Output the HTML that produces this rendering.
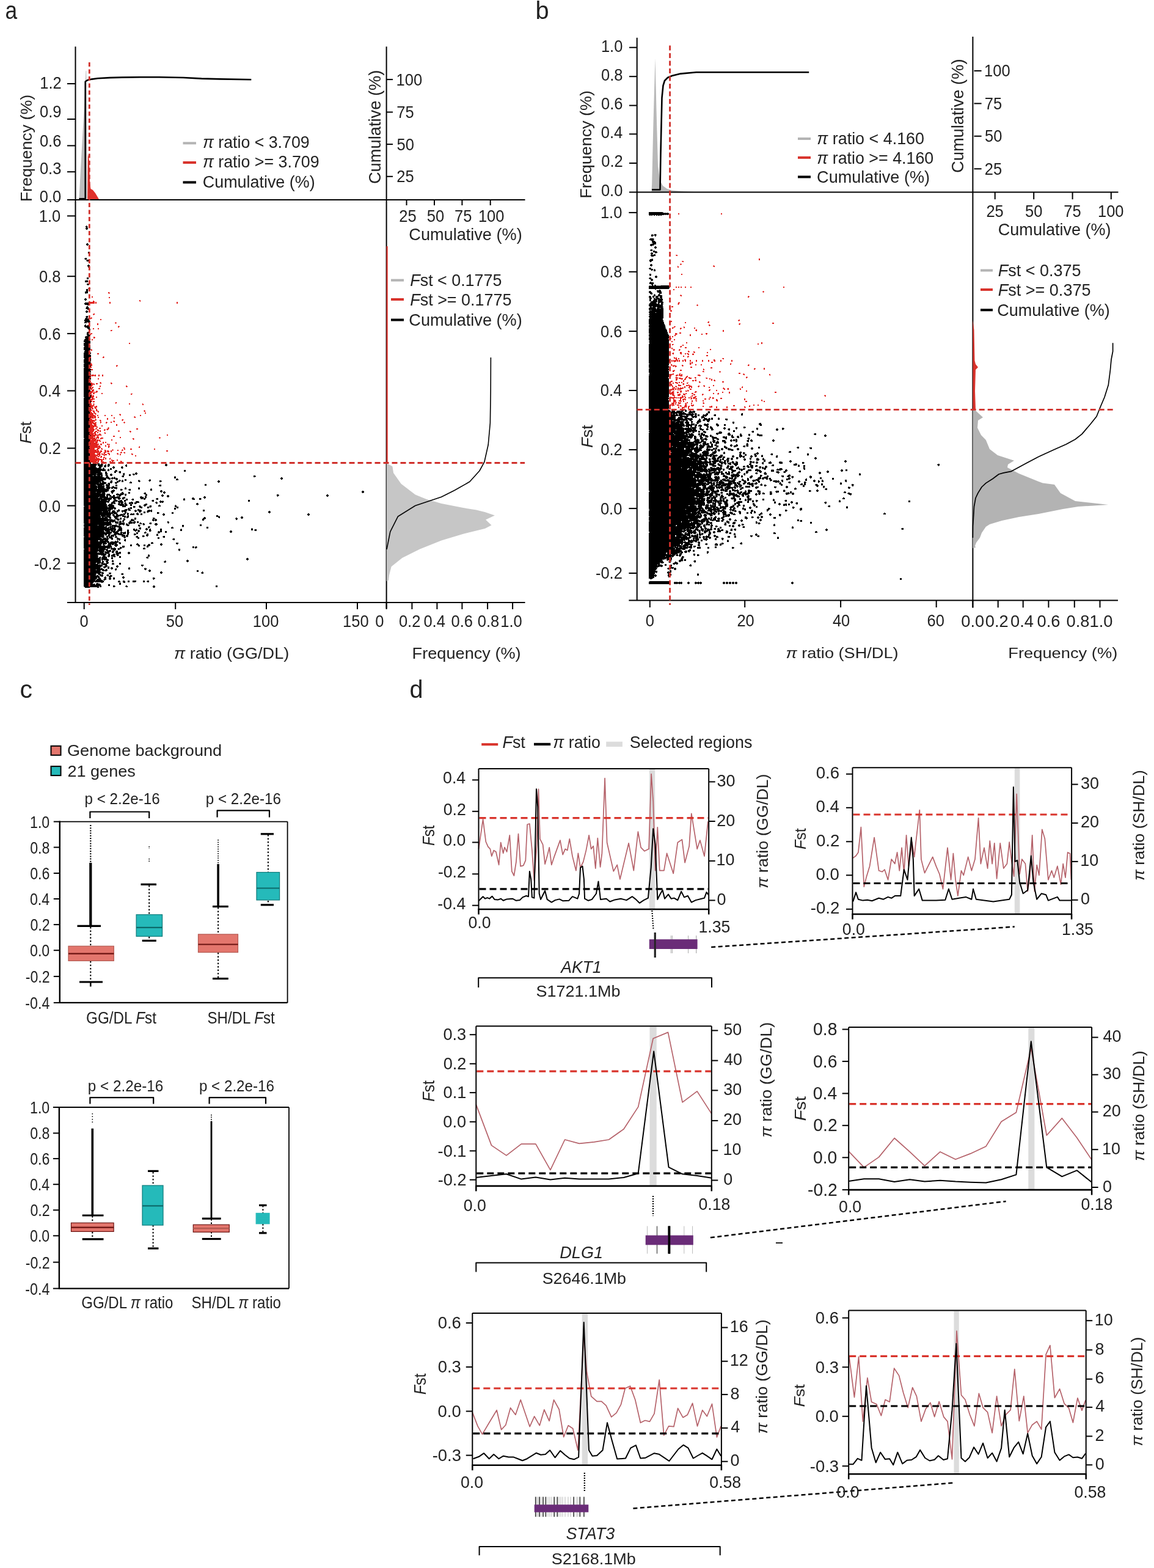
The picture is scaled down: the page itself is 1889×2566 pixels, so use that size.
<!DOCTYPE html>
<html><head><meta charset="utf-8"><title>Figure</title>
<style>html,body{margin:0;padding:0;background:#fff;}svg{display:block;}</style>
</head><body>
<svg width="1889" height="2566" viewBox="0 0 1889 2566" font-family="'Liberation Sans', Arial, Helvetica, sans-serif">
<rect x="0" y="0" width="1889" height="2566" fill="#fff"/>
<path d="M141 369.5h1M140 370.5h3M140 371.5h4M141 372.5h2M140 373.5h4M140 374.5h4M141 375.5h2M142 398.5h2M141 399.5h4M141 400.5h4M142 401.5h2M144 412.5h3M144 413.5h3M144 414.5h3M139 422.5h3M138 423.5h4M139 424.5h3M142 425.5h3M141 426.5h4M142 427.5h3M144 433.5h2M143 434.5h4M143 435.5h4M144 436.5h3M144 437.5h3M142 454.5h3M142 455.5h3M142 456.5h3M142 458.5h1M139 459.5h5M139 460.5h5M139 461.5h5M142 464.5h4M142 465.5h4M143 466.5h2M145 470.5h2M145 471.5h3M144 472.5h4M141 473.5h3M145 473.5h2M141 474.5h3M141 475.5h3M141 476.5h3M139 477.5h5M139 478.5h5M139 479.5h5M140 480.5h1M139 488.5h2M138 489.5h4M138 490.5h4M139 491.5h2M139 495.5h6M138 496.5h8M138 497.5h8M139 498.5h7M143 499.5h2M142 501.5h2M141 502.5h4M141 503.5h4M140 504.5h6M141 505.5h6M143 506.5h3M141 508.5h2M140 509.5h4M140 510.5h4M141 511.5h2M141 517.5h3M140 518.5h4M141 519.5h3M140 520.5h3M139 521.5h8M139 522.5h8M138 523.5h8M138 524.5h9M138 525.5h9M139 526.5h9M138 527.5h4M143 527.5h4M138 528.5h4M145 528.5h1M139 531.5h2M138 532.5h3M143 532.5h3M138 533.5h8M138 534.5h9M139 535.5h8M142 536.5h5M143 537.5h4M144 538.5h4M145 539.5h3M145 540.5h3M146 541.5h1M143 543.5h2M142 544.5h4M142 545.5h4M142 546.5h3M142 547.5h4M142 548.5h5M143 549.5h5M140 550.5h7M139 551.5h8M139 552.5h8M140 553.5h7M139 554.5h9M138 555.5h10M138 556.5h10M137 557.5h10M137 558.5h11M137 559.5h11M139 560.5h9M137 561.5h11M137 562.5h8M146 562.5h1M137 563.5h8M137 564.5h10M137 565.5h11M138 566.5h10M138 567.5h10M137 568.5h11M137 569.5h11M137 570.5h11M137 571.5h11M137 572.5h11M139 573.5h8M138 574.5h9M138 575.5h10M138 576.5h10M137 577.5h12M137 578.5h12M137 579.5h11M137 580.5h11M137 581.5h12M137 582.5h12M137 583.5h12M137 584.5h11M137 585.5h12M138 586.5h11M138 587.5h11M137 588.5h12M137 589.5h12M137 590.5h12M137 591.5h11M137 592.5h12M137 593.5h11M138 594.5h10M137 595.5h12M137 596.5h12M137 597.5h12M137 598.5h12M137 599.5h12M137 600.5h12M138 601.5h10M137 602.5h11M137 603.5h11M137 604.5h12M137 605.5h12M137 606.5h11M137 607.5h12M137 608.5h12M137 609.5h11M137 610.5h12M137 611.5h11M137 612.5h12M137 613.5h12M137 614.5h12M137 615.5h12M137 616.5h12M137 617.5h12M137 618.5h12M137 619.5h12M137 620.5h12M137 621.5h11M137 622.5h11M137 623.5h12M137 624.5h12M137 625.5h11M137 626.5h11M137 627.5h12M137 628.5h12M137 629.5h12M137 630.5h12M137 631.5h11M137 632.5h12M137 633.5h12M137 634.5h12M137 635.5h12M137 636.5h12M137 637.5h11M137 638.5h11M137 639.5h11M137 640.5h11M137 641.5h11M137 642.5h11M137 643.5h11M137 644.5h12M137 645.5h11M137 646.5h12M137 647.5h12M137 648.5h12M137 649.5h12M138 650.5h11M137 651.5h11M137 652.5h12M137 653.5h12M137 654.5h12M137 655.5h11M137 656.5h12M137 657.5h12M137 658.5h12M137 659.5h12M137 660.5h12M137 661.5h12M137 662.5h12M137 663.5h11M137 664.5h12M137 665.5h11M137 666.5h11M137 667.5h12M137 668.5h12M137 669.5h12M137 670.5h12M137 671.5h12M137 672.5h12M137 673.5h12M137 674.5h12M137 675.5h11M137 676.5h11M137 677.5h12M137 678.5h12M137 679.5h12M137 680.5h12M137 681.5h12M137 682.5h12M137 683.5h12M137 684.5h11M137 685.5h11M137 686.5h12M137 687.5h11M137 688.5h11M137 689.5h12M137 690.5h12M137 691.5h12M137 692.5h12M137 693.5h12M137 694.5h12M137 695.5h12M137 696.5h11M137 697.5h12M137 698.5h11M137 699.5h12M137 700.5h12M137 701.5h11M137 702.5h12M137 703.5h11M137 704.5h12M137 705.5h12M137 706.5h12M137 707.5h11M137 708.5h11M137 709.5h12M137 710.5h12M137 711.5h12M137 712.5h12M137 713.5h12M137 714.5h12M137 715.5h12M137 716.5h12M138 717.5h11M137 718.5h12M137 719.5h12M137 720.5h11M137 721.5h11M137 722.5h12M137 723.5h12M137 724.5h12M137 725.5h12M137 726.5h12M137 727.5h12M137 728.5h12M137 729.5h12M137 730.5h12M137 731.5h12M137 732.5h12M137 733.5h12M137 734.5h12M137 735.5h12M137 736.5h12M137 737.5h12M137 738.5h12M137 739.5h12M137 740.5h11M137 741.5h11M137 742.5h12M137 743.5h11M137 744.5h11M137 745.5h12M137 746.5h12M137 747.5h11M137 748.5h11M137 749.5h11M137 750.5h12M137 751.5h12M137 752.5h12M137 753.5h11M137 754.5h11M137 755.5h11M137 756.5h11M137 757.5h12M137 758.5h12M152 758.5h3M160 758.5h3M137 759.5h21M159 759.5h4M165 759.5h3M177 759.5h2M271 759.5h2M137 760.5h22M160 760.5h9M172 760.5h2M176 760.5h4M206 760.5h2M270 760.5h4M137 761.5h21M160 761.5h8M171 761.5h3M176 761.5h4M205 761.5h3M270 761.5h4M137 762.5h20M160 762.5h8M170 762.5h4M176 762.5h3M205 762.5h3M271 762.5h2M137 763.5h20M162 763.5h6M170 763.5h4M176 763.5h3M185 763.5h2M199 763.5h2M206 763.5h2M137 764.5h20M162 764.5h4M171 764.5h2M184 764.5h4M198 764.5h3M137 765.5h22M161 765.5h5M169 765.5h1M184 765.5h4M198 765.5h4M137 766.5h28M168 766.5h3M180 766.5h3M185 766.5h2M199 766.5h2M137 767.5h30M168 767.5h3M177 767.5h1M180 767.5h3M137 768.5h36M176 768.5h3M180 768.5h3M137 769.5h36M176 769.5h3M189 769.5h2M301 769.5h3M137 770.5h29M167 770.5h6M176 770.5h3M188 770.5h4M301 770.5h3M137 771.5h28M173 771.5h1M187 771.5h5M195 771.5h3M301 771.5h3M137 772.5h28M172 772.5h3M187 772.5h3M194 772.5h4M137 773.5h30M172 773.5h3M187 773.5h3M195 773.5h3M222 773.5h2M137 774.5h31M172 774.5h4M196 774.5h1M202 774.5h2M221 774.5h4M137 775.5h21M159 775.5h8M172 775.5h4M181 775.5h2M201 775.5h3M217 775.5h3M221 775.5h4M137 776.5h31M173 776.5h3M180 776.5h4M201 776.5h3M211 776.5h3M217 776.5h4M222 776.5h2M137 777.5h20M158 777.5h10M172 777.5h4M180 777.5h4M202 777.5h2M211 777.5h3M218 777.5h2M137 778.5h15M153 778.5h5M159 778.5h5M165 778.5h3M173 778.5h4M181 778.5h2M200 778.5h3M211 778.5h3M415 778.5h3M137 779.5h31M174 779.5h3M199 779.5h4M286 779.5h1M415 779.5h4M137 780.5h31M173 780.5h5M187 780.5h1M200 780.5h3M285 780.5h3M415 780.5h3M137 781.5h34M173 781.5h6M183 781.5h2M186 781.5h3M285 781.5h3M460 781.5h2M137 782.5h44M182 782.5h7M190 782.5h2M285 782.5h3M459 782.5h4M137 783.5h37M176 783.5h5M182 783.5h3M186 783.5h7M289 783.5h2M459 783.5h4M137 784.5h37M178 784.5h3M183 784.5h1M189 784.5h4M204 784.5h3M245 784.5h1M288 784.5h4M460 784.5h2M137 785.5h36M190 785.5h2M195 785.5h2M200 785.5h1M204 785.5h3M227 785.5h1M244 785.5h3M288 785.5h4M137 786.5h32M181 786.5h3M194 786.5h4M199 786.5h3M204 786.5h3M226 786.5h3M243 786.5h4M261 786.5h3M357 786.5h2M137 787.5h33M181 787.5h3M191 787.5h6M199 787.5h3M226 787.5h4M244 787.5h2M261 787.5h4M356 787.5h4M137 788.5h28M167 788.5h4M180 788.5h4M191 788.5h3M195 788.5h1M199 788.5h3M213 788.5h2M227 788.5h2M261 788.5h3M356 788.5h4M137 789.5h29M167 789.5h7M180 789.5h4M188 789.5h6M212 789.5h4M357 789.5h2M137 790.5h25M163 790.5h11M177 790.5h3M181 790.5h2M188 790.5h4M212 790.5h4M137 791.5h37M176 791.5h4M189 791.5h2M137 792.5h34M174 792.5h2M177 792.5h3M335 792.5h3M137 793.5h20M158 793.5h12M173 793.5h7M189 793.5h3M261 793.5h3M335 793.5h3M137 794.5h21M159 794.5h9M169 794.5h2M173 794.5h7M189 794.5h3M260 794.5h4M335 794.5h3M137 795.5h22M160 795.5h11M174 795.5h5M185 795.5h1M189 795.5h3M261 795.5h3M137 796.5h34M174 796.5h6M183 796.5h4M137 797.5h34M173 797.5h8M182 797.5h10M205 797.5h1M227 797.5h1M137 798.5h22M160 798.5h11M174 798.5h7M182 798.5h10M204 798.5h3M226 798.5h3M137 799.5h22M160 799.5h13M174 799.5h6M182 799.5h3M187 799.5h5M204 799.5h3M226 799.5h3M247 799.5h1M137 800.5h42M190 800.5h1M197 800.5h3M204 800.5h3M211 800.5h3M226 800.5h3M246 800.5h3M137 801.5h41M185 801.5h2M197 801.5h4M210 801.5h4M246 801.5h3M137 802.5h41M183 802.5h5M197 802.5h3M211 802.5h3M246 802.5h3M263 802.5h2M137 803.5h41M182 803.5h6M262 803.5h4M593 803.5h2M137 804.5h39M181 804.5h6M262 804.5h4M268 804.5h2M592 804.5h4M137 805.5h20M158 805.5h14M173 805.5h1M182 805.5h4M199 805.5h3M210 805.5h3M263 805.5h2M267 805.5h4M592 805.5h4M137 806.5h29M167 806.5h5M182 806.5h3M199 806.5h3M210 806.5h3M236 806.5h3M267 806.5h4M593 806.5h2M137 807.5h28M166 807.5h6M183 807.5h2M192 807.5h1M197 807.5h6M210 807.5h3M235 807.5h4M268 807.5h2M137 808.5h36M175 808.5h5M190 808.5h5M196 808.5h7M204 808.5h3M236 808.5h4M137 809.5h35M174 809.5h6M190 809.5h12M204 809.5h3M238 809.5h3M265 809.5h2M453 809.5h3M535 809.5h2M137 810.5h35M174 810.5h8M185 810.5h3M191 810.5h8M204 810.5h3M238 810.5h3M264 810.5h4M274 810.5h2M453 810.5h4M534 810.5h4M137 811.5h35M174 811.5h3M179 811.5h3M185 811.5h3M195 811.5h3M205 811.5h1M238 811.5h2M264 811.5h4M273 811.5h4M453 811.5h3M534 811.5h4M137 812.5h36M174 812.5h3M179 812.5h9M191 812.5h6M230 812.5h2M237 812.5h3M265 812.5h2M273 812.5h4M334 812.5h2M454 812.5h1M535 812.5h2M137 813.5h25M163 813.5h14M180 813.5h1M182 813.5h14M202 813.5h3M229 813.5h6M237 813.5h3M274 813.5h2M333 813.5h4M137 814.5h24M162 814.5h15M178 814.5h19M200 814.5h5M229 814.5h6M237 814.5h3M315 814.5h2M333 814.5h4M137 815.5h31M169 815.5h14M185 815.5h6M192 815.5h6M200 815.5h5M230 815.5h9M256 815.5h3M301 815.5h1M314 815.5h4M326 815.5h3M334 815.5h2M137 816.5h46M185 816.5h4M193 816.5h4M200 816.5h3M206 816.5h3M216 816.5h3M230 816.5h4M235 816.5h3M255 816.5h4M300 816.5h3M314 816.5h5M326 816.5h4M137 817.5h45M186 817.5h4M194 817.5h2M201 817.5h1M206 817.5h3M215 817.5h4M235 817.5h3M256 817.5h3M300 817.5h3M315 817.5h4M326 817.5h3M137 818.5h27M165 818.5h11M177 818.5h3M187 818.5h5M197 818.5h3M203 818.5h6M216 818.5h3M249 818.5h3M300 818.5h3M406 818.5h3M137 819.5h38M176 819.5h4M185 819.5h8M194 819.5h6M203 819.5h3M248 819.5h4M262 819.5h2M266 819.5h1M406 819.5h3M137 820.5h42M185 820.5h7M193 820.5h8M203 820.5h3M222 820.5h5M249 820.5h3M261 820.5h7M406 820.5h3M137 821.5h42M183 821.5h5M193 821.5h9M204 821.5h1M214 821.5h3M222 821.5h6M255 821.5h2M261 821.5h7M137 822.5h37M176 822.5h2M182 822.5h7M194 822.5h8M204 822.5h2M211 822.5h7M220 822.5h8M254 822.5h4M262 822.5h2M265 822.5h2M137 823.5h37M182 823.5h7M194 823.5h2M198 823.5h3M204 823.5h3M211 823.5h7M220 823.5h4M255 823.5h3M322 823.5h2M137 824.5h37M179 824.5h1M181 824.5h4M186 824.5h3M193 824.5h9M203 824.5h4M211 824.5h3M215 824.5h3M220 824.5h3M238 824.5h3M256 824.5h1M321 824.5h4M137 825.5h38M178 825.5h6M193 825.5h10M204 825.5h4M213 825.5h3M236 825.5h5M321 825.5h4M137 826.5h38M177 826.5h9M194 826.5h9M204 826.5h5M213 826.5h3M235 826.5h6M260 826.5h2M287 826.5h1M323 826.5h1M137 827.5h38M176 827.5h11M196 827.5h12M213 827.5h3M228 827.5h2M235 827.5h4M245 827.5h3M259 827.5h4M286 827.5h3M138 828.5h38M177 828.5h10M200 828.5h6M218 828.5h3M227 828.5h4M236 828.5h2M244 828.5h4M259 828.5h4M286 828.5h3M137 829.5h39M178 829.5h9M200 829.5h6M218 829.5h4M228 829.5h5M241 829.5h3M245 829.5h3M286 829.5h6M137 830.5h52M213 830.5h3M218 830.5h3M228 830.5h5M241 830.5h4M246 830.5h1M289 830.5h3M137 831.5h53M210 831.5h6M230 831.5h3M241 831.5h3M285 831.5h3M289 831.5h3M137 832.5h48M186 832.5h4M209 832.5h3M213 832.5h3M285 832.5h3M137 833.5h48M187 833.5h2M194 833.5h1M205 833.5h3M209 833.5h4M225 833.5h3M285 833.5h3M137 834.5h39M177 834.5h5M193 834.5h3M203 834.5h6M210 834.5h4M221 834.5h1M225 834.5h6M243 834.5h2M247 834.5h2M332 834.5h3M137 835.5h44M184 835.5h4M191 835.5h5M199 835.5h9M210 835.5h4M220 835.5h4M225 835.5h7M241 835.5h8M332 835.5h3M137 836.5h44M183 836.5h6M191 836.5h5M199 836.5h8M220 836.5h4M227 836.5h5M241 836.5h8M332 836.5h3M440 836.5h2M137 837.5h30M168 837.5h9M178 837.5h3M183 837.5h6M191 837.5h3M199 837.5h3M203 837.5h4M221 837.5h2M227 837.5h4M235 837.5h3M240 837.5h5M247 837.5h2M439 837.5h4M137 838.5h44M182 838.5h9M192 838.5h1M200 838.5h1M204 838.5h3M228 838.5h2M235 838.5h3M241 838.5h2M257 838.5h3M281 838.5h3M439 838.5h4M137 839.5h55M204 839.5h3M208 839.5h2M224 839.5h2M235 839.5h3M257 839.5h4M281 839.5h3M440 839.5h2M137 840.5h48M186 840.5h6M202 840.5h4M208 840.5h3M214 840.5h2M217 840.5h3M223 840.5h4M230 840.5h3M257 840.5h3M267 840.5h2M281 840.5h3M504 840.5h2M137 841.5h45M184 841.5h4M189 841.5h4M197 841.5h8M208 841.5h3M213 841.5h7M223 841.5h4M230 841.5h3M266 841.5h4M503 841.5h4M137 842.5h45M184 842.5h3M190 842.5h4M195 842.5h6M202 842.5h3M208 842.5h2M213 842.5h7M224 842.5h3M230 842.5h3M266 842.5h4M503 842.5h4M137 843.5h27M165 843.5h16M184 843.5h4M190 843.5h13M209 843.5h2M267 843.5h2M354 843.5h3M504 843.5h2M137 844.5h36M174 844.5h7M185 844.5h13M200 844.5h6M208 844.5h3M354 844.5h3M358 844.5h1M137 845.5h28M166 845.5h15M186 845.5h8M200 845.5h6M207 845.5h4M354 845.5h6M395 845.5h2M137 846.5h28M167 846.5h3M171 846.5h11M187 846.5h7M203 846.5h3M207 846.5h4M334 846.5h2M357 846.5h3M394 846.5h4M137 847.5h39M178 847.5h4M187 847.5h5M196 847.5h3M204 847.5h1M207 847.5h3M220 847.5h3M250 847.5h3M333 847.5h4M358 847.5h2M386 847.5h2M394 847.5h4M137 848.5h40M179 848.5h3M188 848.5h6M196 848.5h3M202 848.5h2M220 848.5h3M250 848.5h4M332 848.5h5M385 848.5h4M395 848.5h2M137 849.5h41M179 849.5h2M182 849.5h1M189 849.5h6M196 849.5h3M202 849.5h3M215 849.5h2M220 849.5h3M250 849.5h3M254 849.5h2M331 849.5h5M386 849.5h3M137 850.5h48M186 850.5h3M191 850.5h5M197 850.5h1M202 850.5h3M214 850.5h6M221 850.5h1M249 850.5h3M253 850.5h4M331 850.5h3M386 850.5h2M137 851.5h52M192 851.5h3M201 851.5h3M214 851.5h6M249 851.5h8M331 851.5h3M137 852.5h41M179 852.5h10M196 852.5h2M200 852.5h3M212 852.5h8M250 852.5h2M254 852.5h2M137 853.5h34M172 853.5h1M174 853.5h3M178 853.5h13M192 853.5h2M195 853.5h4M200 853.5h3M212 853.5h3M219 853.5h3M224 853.5h3M274 853.5h2M137 854.5h45M183 854.5h3M188 854.5h6M195 854.5h4M201 854.5h1M211 854.5h6M218 854.5h4M224 854.5h3M274 854.5h3M137 855.5h45M188 855.5h6M195 855.5h4M200 855.5h4M210 855.5h12M224 855.5h3M229 855.5h2M245 855.5h3M274 855.5h3M137 856.5h45M189 856.5h5M195 856.5h9M207 856.5h1M210 856.5h7M218 856.5h3M228 856.5h4M234 856.5h2M244 856.5h4M254 856.5h3M275 856.5h1M138 857.5h45M194 857.5h10M206 857.5h3M211 857.5h2M229 857.5h3M233 857.5h4M245 857.5h3M253 857.5h5M137 858.5h46M189 858.5h2M194 858.5h5M200 858.5h4M206 858.5h5M227 858.5h1M234 858.5h3M253 858.5h5M327 858.5h3M137 859.5h23M161 859.5h21M183 859.5h8M195 859.5h2M202 859.5h1M206 859.5h6M226 859.5h3M235 859.5h1M254 859.5h3M298 859.5h3M327 859.5h3M137 860.5h34M174 860.5h4M180 860.5h1M182 860.5h14M208 860.5h3M226 860.5h4M298 860.5h3M327 860.5h3M137 861.5h34M172 861.5h3M179 861.5h19M227 861.5h2M243 861.5h2M298 861.5h3M138 862.5h37M177 862.5h1M179 862.5h3M183 862.5h2M186 862.5h4M191 862.5h8M242 862.5h4M281 862.5h2M299 862.5h1M338 862.5h3M137 863.5h38M176 863.5h13M194 863.5h5M228 863.5h3M242 863.5h3M280 863.5h4M338 863.5h3M137 864.5h42M180 864.5h9M194 864.5h6M227 864.5h4M239 864.5h2M243 864.5h1M280 864.5h4M338 864.5h3M412 864.5h1M137 865.5h53M194 865.5h6M218 865.5h3M223 865.5h1M228 865.5h3M238 865.5h4M245 865.5h2M262 865.5h3M296 865.5h1M411 865.5h3M137 866.5h53M193 866.5h7M209 866.5h1M218 866.5h3M222 866.5h3M229 866.5h1M238 866.5h4M244 866.5h3M262 866.5h3M295 866.5h3M411 866.5h3M417 866.5h3M137 867.5h48M186 867.5h4M192 867.5h8M208 867.5h3M218 867.5h7M226 867.5h2M239 867.5h2M244 867.5h3M262 867.5h3M295 867.5h3M411 867.5h3M416 867.5h4M137 868.5h33M172 868.5h8M181 868.5h8M192 868.5h8M208 868.5h3M219 868.5h5M225 868.5h4M244 868.5h4M262 868.5h3M295 868.5h3M377 868.5h2M417 868.5h3M137 869.5h34M172 869.5h8M182 869.5h7M190 869.5h5M198 869.5h1M208 869.5h3M221 869.5h2M225 869.5h4M244 869.5h3M259 869.5h2M262 869.5h3M270 869.5h3M376 869.5h4M137 870.5h34M174 870.5h9M184 870.5h10M197 870.5h3M204 870.5h2M208 870.5h3M226 870.5h2M237 870.5h2M258 870.5h7M270 870.5h3M376 870.5h4M137 871.5h46M185 871.5h8M197 871.5h9M208 871.5h4M223 871.5h3M236 871.5h4M258 871.5h4M270 871.5h3M377 871.5h2M137 872.5h46M187 872.5h8M197 872.5h3M201 872.5h5M208 872.5h3M223 872.5h3M236 872.5h3M259 872.5h2M137 873.5h44M186 873.5h14M201 873.5h5M208 873.5h3M219 873.5h3M223 873.5h3M240 873.5h3M257 873.5h1M137 874.5h38M177 874.5h4M186 874.5h5M192 874.5h10M208 874.5h3M219 874.5h4M240 874.5h3M256 874.5h3M137 875.5h33M172 875.5h3M177 875.5h3M182 875.5h9M193 875.5h1M195 875.5h10M207 875.5h3M219 875.5h3M239 875.5h4M256 875.5h3M137 876.5h34M173 876.5h1M176 876.5h4M181 876.5h6M188 876.5h2M199 876.5h6M206 876.5h4M233 876.5h3M239 876.5h4M256 876.5h3M137 877.5h34M174 877.5h6M181 877.5h6M189 877.5h2M199 877.5h6M206 877.5h4M223 877.5h3M233 877.5h4M240 877.5h2M267 877.5h3M138 878.5h32M174 878.5h3M178 878.5h6M185 878.5h1M188 878.5h4M200 878.5h1M202 878.5h4M207 878.5h2M222 878.5h4M233 878.5h3M266 878.5h4M137 879.5h28M166 879.5h5M174 879.5h3M178 879.5h6M188 879.5h4M202 879.5h4M223 879.5h5M258 879.5h3M267 879.5h3M137 880.5h29M167 880.5h1M169 880.5h5M175 880.5h2M178 880.5h7M191 880.5h3M203 880.5h2M225 880.5h3M258 880.5h3M137 881.5h30M168 881.5h10M181 881.5h4M191 881.5h6M225 881.5h3M258 881.5h3M283 881.5h3M137 882.5h41M182 882.5h3M191 882.5h6M204 882.5h2M282 882.5h4M137 883.5h40M183 883.5h1M192 883.5h1M194 883.5h3M203 883.5h3M283 883.5h3M137 884.5h24M163 884.5h7M171 884.5h6M192 884.5h1M195 884.5h1M203 884.5h3M137 885.5h24M163 885.5h15M188 885.5h2M191 885.5h3M204 885.5h2M137 886.5h42M181 886.5h5M187 886.5h7M137 887.5h37M175 887.5h4M180 887.5h14M195 887.5h2M248 887.5h2M137 888.5h38M176 888.5h16M194 888.5h4M247 888.5h4M288 888.5h4M137 889.5h30M168 889.5h7M177 889.5h14M195 889.5h3M224 889.5h2M247 889.5h4M263 889.5h2M288 889.5h4M137 890.5h30M168 890.5h6M177 890.5h10M188 890.5h4M196 890.5h1M223 890.5h4M243 890.5h2M262 890.5h4M289 890.5h2M137 891.5h29M168 891.5h3M176 891.5h6M183 891.5h3M187 891.5h6M213 891.5h3M223 891.5h5M235 891.5h3M242 891.5h4M262 891.5h4M137 892.5h29M169 892.5h3M176 892.5h6M187 892.5h6M213 892.5h3M225 892.5h4M235 892.5h3M241 892.5h5M263 892.5h2M137 893.5h46M188 893.5h4M200 893.5h4M213 893.5h3M226 893.5h3M235 893.5h3M240 893.5h5M137 894.5h46M189 894.5h2M200 894.5h4M227 894.5h1M240 894.5h3M315 894.5h3M320 894.5h2M137 895.5h46M196 895.5h3M200 895.5h4M240 895.5h3M315 895.5h3M319 895.5h4M137 896.5h43M181 896.5h3M186 896.5h2M196 896.5h4M201 896.5h1M235 896.5h2M315 896.5h3M319 896.5h3M137 897.5h36M175 897.5h5M181 897.5h9M193 897.5h6M234 897.5h4M320 897.5h1M138 898.5h23M162 898.5h11M174 898.5h2M181 898.5h9M192 898.5h4M197 898.5h1M234 898.5h4M292 898.5h3M137 899.5h40M182 899.5h1M184 899.5h6M193 899.5h3M292 899.5h3M137 900.5h34M173 900.5h4M178 900.5h4M184 900.5h5M292 900.5h3M137 901.5h34M174 901.5h8M184 901.5h2M187 901.5h1M190 901.5h3M293 901.5h1M137 902.5h24M162 902.5h9M172 902.5h2M175 902.5h7M183 902.5h4M189 902.5h4M137 903.5h22M162 903.5h8M171 903.5h9M183 903.5h4M189 903.5h4M195 903.5h3M210 903.5h2M137 904.5h25M163 904.5h7M171 904.5h8M183 904.5h3M189 904.5h9M209 904.5h4M137 905.5h34M172 905.5h7M190 905.5h8M209 905.5h4M137 906.5h37M175 906.5h1M177 906.5h3M185 906.5h3M189 906.5h6M196 906.5h1M210 906.5h2M137 907.5h37M177 907.5h3M184 907.5h5M190 907.5h4M243 907.5h1M137 908.5h23M165 908.5h9M177 908.5h3M182 908.5h6M191 908.5h4M242 908.5h3M137 909.5h24M168 909.5h4M176 909.5h4M182 909.5h7M191 909.5h3M242 909.5h3M137 910.5h24M168 910.5h5M176 910.5h4M182 910.5h7M195 910.5h3M242 910.5h3M137 911.5h23M163 911.5h2M167 911.5h8M177 911.5h2M183 911.5h1M186 911.5h3M195 911.5h3M240 911.5h3M137 912.5h24M162 912.5h3M166 912.5h9M182 912.5h3M195 912.5h3M239 912.5h4M137 913.5h28M166 913.5h9M182 913.5h3M240 913.5h3M404 913.5h2M137 914.5h28M166 914.5h10M182 914.5h3M403 914.5h4M137 915.5h28M166 915.5h12M403 915.5h4M137 916.5h28M166 916.5h3M170 916.5h8M184 916.5h1M306 916.5h2M404 916.5h2M137 917.5h28M167 917.5h1M174 917.5h4M183 917.5h3M270 917.5h1M305 917.5h4M137 918.5h28M167 918.5h3M173 918.5h4M183 918.5h3M269 918.5h3M305 918.5h4M137 919.5h28M167 919.5h3M173 919.5h4M183 919.5h3M268 919.5h4M306 919.5h2M137 920.5h28M166 920.5h4M174 920.5h4M269 920.5h2M137 921.5h20M159 921.5h10M170 921.5h1M174 921.5h4M184 921.5h2M195 921.5h3M137 922.5h20M158 922.5h5M166 922.5h11M183 922.5h4M195 922.5h3M137 923.5h24M163 923.5h1M166 923.5h9M183 923.5h4M195 923.5h3M137 924.5h31M169 924.5h6M231 924.5h4M137 925.5h31M172 925.5h4M191 925.5h2M231 925.5h4M137 926.5h31M171 926.5h5M190 926.5h4M232 926.5h2M137 927.5h29M169 927.5h6M176 927.5h3M190 927.5h4M137 928.5h28M169 928.5h5M176 928.5h3M182 928.5h2M191 928.5h2M211 928.5h1M137 929.5h27M166 929.5h1M170 929.5h2M176 929.5h3M181 929.5h4M210 929.5h3M237 929.5h1M137 930.5h31M176 930.5h3M181 930.5h4M189 930.5h2M210 930.5h3M236 930.5h4M137 931.5h33M173 931.5h2M182 931.5h2M188 931.5h3M210 931.5h3M236 931.5h4M137 932.5h20M158 932.5h13M172 932.5h4M188 932.5h3M237 932.5h2M244 932.5h2M137 933.5h28M167 933.5h9M189 933.5h1M243 933.5h4M322 933.5h3M137 934.5h27M168 934.5h2M171 934.5h4M243 934.5h4M322 934.5h3M137 935.5h29M244 935.5h2M263 935.5h2M322 935.5h3M331 935.5h1M137 936.5h29M167 936.5h2M262 936.5h4M330 936.5h3M137 937.5h33M178 937.5h4M262 937.5h4M329 937.5h4M137 938.5h21M159 938.5h5M166 938.5h4M178 938.5h4M199 938.5h3M263 938.5h2M330 938.5h3M137 939.5h21M160 939.5h5M167 939.5h2M179 939.5h2M198 939.5h4M137 940.5h20M161 940.5h7M175 940.5h3M199 940.5h3M137 941.5h20M158 941.5h3M163 941.5h6M174 941.5h4M180 941.5h3M137 942.5h25M163 942.5h6M175 942.5h3M179 942.5h5M137 943.5h26M166 943.5h2M172 943.5h1M178 943.5h5M201 943.5h2M137 944.5h26M171 944.5h3M178 944.5h4M200 944.5h4M137 945.5h22M160 945.5h4M170 945.5h4M179 945.5h2M185 945.5h3M200 945.5h4M250 945.5h3M137 946.5h22M161 946.5h4M171 946.5h3M178 946.5h4M185 946.5h3M201 946.5h2M250 946.5h4M137 947.5h21M159 947.5h6M170 947.5h4M178 947.5h4M185 947.5h3M250 947.5h3M137 948.5h20M158 948.5h8M169 948.5h5M179 948.5h2M186 948.5h1M251 948.5h1M137 949.5h19M157 949.5h11M170 949.5h2M137 950.5h33M194 950.5h2M201 950.5h3M209 950.5h3M217 950.5h6M234 950.5h3M241 950.5h3M137 951.5h33M193 951.5h4M201 951.5h4M209 951.5h3M217 951.5h6M234 951.5h3M240 951.5h4M137 952.5h17M155 952.5h15M193 952.5h4M201 952.5h4M209 952.5h3M217 952.5h5M234 952.5h3M241 952.5h3M137 953.5h16M166 953.5h2M196 953.5h1M202 953.5h3M137 954.5h15M158 954.5h3M195 954.5h3M137 955.5h15M153 955.5h2M157 955.5h7M195 955.5h3M137 956.5h19M157 956.5h8M177 956.5h3M195 956.5h3M137 957.5h28M177 957.5h3M137 958.5h29M177 958.5h3M185 958.5h3M206 958.5h2M251 958.5h2M353 958.5h3M137 959.5h25M163 959.5h3M185 959.5h4M205 959.5h4M250 959.5h4M353 959.5h3M138 960.5h24M163 960.5h3M185 960.5h3M206 960.5h3M250 960.5h4M353 960.5h3M139 961.5h8M159 961.5h3M251 961.5h2" stroke="#000" stroke-width="1"/>
<path d="M177 478.5h2M177 479.5h3M178 480.5h1M150 485.5h2M150 486.5h2M178 486.5h2M178 487.5h2M228 491.5h2M152 492.5h2M228 492.5h2M152 493.5h3M229 493.5h1M147 494.5h8M156 494.5h2M179 494.5h2M289 494.5h2M147 495.5h8M156 495.5h2M179 495.5h2M289 495.5h2M147 496.5h8M156 496.5h2M179 496.5h2M289 496.5h2M153 513.5h2M152 514.5h3M153 515.5h1M149 519.5h1M148 520.5h3M148 521.5h2M164 522.5h2M164 523.5h2M189 527.5h1M188 528.5h3M159 529.5h2M189 529.5h1M159 530.5h2M159 531.5h2M194 533.5h1M193 534.5h3M193 535.5h2M152 537.5h2M160 537.5h2M152 538.5h2M160 538.5h2M181 540.5h3M181 541.5h2M149 545.5h2M147 546.5h4M146 547.5h3M147 548.5h1M153 551.5h2M153 552.5h3M153 553.5h2M150 555.5h2M150 556.5h2M211 561.5h2M211 562.5h2M149 571.5h1M148 572.5h3M149 573.5h2M159 578.5h3M159 579.5h3M169 583.5h1M146 584.5h3M168 584.5h3M146 585.5h3M168 585.5h2M148 594.5h2M148 595.5h2M148 596.5h3M148 597.5h3M191 597.5h1M149 598.5h2M190 598.5h3M190 599.5h2M147 600.5h3M146 601.5h4M147 602.5h1M149 604.5h3M149 605.5h3M148 613.5h1M150 613.5h4M155 613.5h2M161 613.5h2M167 613.5h2M147 614.5h10M161 614.5h2M167 614.5h2M148 615.5h1M150 615.5h2M153 615.5h1M155 615.5h2M161 615.5h2M167 615.5h2M147 616.5h1M146 617.5h3M147 618.5h2M160 619.5h2M160 620.5h2M147 623.5h2M147 624.5h2M164 625.5h1M148 626.5h3M163 626.5h3M181 626.5h2M148 627.5h4M153 627.5h1M157 627.5h3M164 627.5h2M181 627.5h3M149 628.5h6M157 628.5h3M182 628.5h1M149 629.5h3M153 629.5h2M149 630.5h3M148 631.5h3M163 631.5h2M206 631.5h2M147 632.5h3M163 632.5h2M206 632.5h3M147 633.5h3M151 633.5h2M163 633.5h1M207 633.5h1M150 634.5h3M148 635.5h4M161 635.5h3M148 636.5h3M161 636.5h3M149 637.5h2M152 637.5h2M150 638.5h4M150 639.5h4M158 639.5h1M148 640.5h5M157 640.5h3M146 641.5h6M153 641.5h2M156 641.5h4M146 642.5h6M153 642.5h2M156 642.5h2M148 643.5h2M152 643.5h3M166 643.5h2M148 644.5h2M152 644.5h3M166 644.5h2M214 644.5h3M149 645.5h1M214 645.5h2M149 646.5h2M152 646.5h1M149 647.5h2M152 647.5h2M149 648.5h5M149 649.5h5M157 649.5h2M149 650.5h4M157 650.5h2M150 651.5h3M147 652.5h2M150 652.5h5M147 653.5h8M147 654.5h5M148 655.5h2M149 656.5h2M152 656.5h3M149 657.5h2M152 657.5h3M153 658.5h1M189 658.5h2M147 659.5h2M189 659.5h2M147 660.5h3M153 660.5h1M189 660.5h1M211 660.5h2M233 660.5h1M147 661.5h3M152 661.5h3M211 661.5h2M233 661.5h2M146 662.5h4M153 662.5h1M233 662.5h2M146 663.5h8M148 664.5h7M157 664.5h2M148 665.5h4M155 665.5h4M148 666.5h4M154 666.5h5M147 667.5h5M155 667.5h2M148 668.5h1M150 668.5h3M155 668.5h3M150 669.5h3M157 669.5h2M148 670.5h2M157 670.5h2M148 671.5h3M152 671.5h1M157 671.5h3M236 671.5h1M147 672.5h3M151 672.5h4M157 672.5h2M160 672.5h1M235 672.5h3M146 673.5h3M152 673.5h3M159 673.5h3M236 673.5h2M147 674.5h3M153 674.5h2M160 674.5h2M147 675.5h4M153 675.5h3M237 675.5h2M147 676.5h6M154 676.5h3M237 676.5h2M148 677.5h5M155 677.5h3M196 677.5h1M147 678.5h6M156 678.5h1M195 678.5h3M147 679.5h8M159 679.5h2M171 679.5h2M182 679.5h2M196 679.5h2M229 679.5h2M147 680.5h10M159 680.5h2M171 680.5h2M182 680.5h2M229 680.5h2M147 681.5h10M220 681.5h1M149 682.5h4M154 682.5h3M160 682.5h2M219 682.5h3M146 683.5h11M160 683.5h2M186 683.5h2M220 683.5h2M147 684.5h2M150 684.5h4M155 684.5h2M175 684.5h2M186 684.5h2M146 685.5h4M175 685.5h2M146 686.5h5M155 686.5h3M175 686.5h2M200 686.5h2M146 687.5h8M155 687.5h3M163 687.5h2M199 687.5h3M147 688.5h9M163 688.5h3M186 688.5h1M200 688.5h1M148 689.5h8M164 689.5h1M185 689.5h3M148 690.5h5M164 690.5h2M174 690.5h1M181 690.5h2M186 690.5h2M203 690.5h1M148 691.5h6M155 691.5h3M164 691.5h2M173 691.5h3M181 691.5h2M202 691.5h3M146 692.5h12M164 692.5h1M173 692.5h2M203 692.5h1M146 693.5h5M152 693.5h5M147 694.5h4M153 694.5h5M190 694.5h2M147 695.5h5M154 695.5h4M190 695.5h2M147 696.5h11M166 696.5h2M190 696.5h2M147 697.5h11M166 697.5h2M147 698.5h8M156 698.5h4M147 699.5h7M158 699.5h2M177 699.5h1M147 700.5h6M157 700.5h1M162 700.5h3M176 700.5h3M147 701.5h7M156 701.5h3M162 701.5h3M176 701.5h2M223 701.5h3M147 702.5h8M156 702.5h2M159 702.5h1M171 702.5h1M174 702.5h4M223 702.5h3M147 703.5h8M159 703.5h3M170 703.5h3M175 703.5h2M147 704.5h7M159 704.5h3M163 704.5h2M170 704.5h2M194 704.5h1M147 705.5h7M156 705.5h3M160 705.5h2M163 705.5h2M193 705.5h3M212 705.5h2M147 706.5h6M155 706.5h4M163 706.5h2M194 706.5h1M212 706.5h3M147 707.5h5M154 707.5h3M159 707.5h2M171 707.5h1M213 707.5h1M146 708.5h6M153 708.5h4M159 708.5h2M171 708.5h2M146 709.5h11M163 709.5h1M171 709.5h2M147 710.5h6M155 710.5h3M162 710.5h3M147 711.5h11M159 711.5h7M273 711.5h2M149 712.5h14M164 712.5h2M273 712.5h2M148 713.5h8M159 713.5h1M185 713.5h3M147 714.5h9M158 714.5h4M185 714.5h3M146 715.5h7M155 715.5h1M158 715.5h4M196 715.5h2M261 715.5h1M146 716.5h10M157 716.5h5M165 716.5h4M196 716.5h2M260 716.5h3M147 717.5h9M157 717.5h2M160 717.5h2M164 717.5h5M217 717.5h2M261 717.5h1M147 718.5h11M164 718.5h2M217 718.5h3M147 719.5h2M150 719.5h8M159 719.5h2M162 719.5h1M182 719.5h2M218 719.5h1M147 720.5h17M182 720.5h2M147 721.5h10M158 721.5h3M162 721.5h3M146 722.5h14M163 722.5h2M147 723.5h7M156 723.5h4M168 723.5h2M172 723.5h2M147 724.5h13M168 724.5h2M172 724.5h2M189 724.5h2M148 725.5h11M168 725.5h2M189 725.5h2M148 726.5h14M164 726.5h3M175 726.5h2M178 726.5h1M147 727.5h15M164 727.5h3M175 727.5h5M147 728.5h13M165 728.5h1M172 728.5h1M178 728.5h1M147 729.5h17M172 729.5h2M177 729.5h2M147 730.5h17M172 730.5h2M177 730.5h3M228 730.5h1M146 731.5h14M161 731.5h4M177 731.5h2M227 731.5h2M146 732.5h19M177 732.5h2M202 732.5h2M227 732.5h2M147 733.5h8M159 733.5h4M166 733.5h1M202 733.5h2M147 734.5h8M159 734.5h4M165 734.5h3M203 734.5h2M213 734.5h3M252 734.5h2M147 735.5h8M158 735.5h3M166 735.5h2M184 735.5h1M200 735.5h1M203 735.5h2M213 735.5h3M252 735.5h2M146 736.5h15M171 736.5h2M183 736.5h3M192 736.5h2M199 736.5h3M146 737.5h12M159 737.5h3M164 737.5h3M171 737.5h3M175 737.5h3M181 737.5h2M184 737.5h1M192 737.5h2M199 737.5h2M272 737.5h3M147 738.5h16M164 738.5h3M171 738.5h3M175 738.5h4M181 738.5h2M272 738.5h3M147 739.5h15M163 739.5h4M171 739.5h3M175 739.5h4M181 739.5h2M198 739.5h1M146 740.5h19M170 740.5h4M197 740.5h3M202 740.5h3M146 741.5h10M158 741.5h2M161 741.5h4M169 741.5h3M176 741.5h3M192 741.5h1M197 741.5h2M203 741.5h2M147 742.5h8M159 742.5h5M166 742.5h2M170 742.5h2M176 742.5h4M191 742.5h3M215 742.5h2M147 743.5h9M159 743.5h5M166 743.5h4M171 743.5h4M178 743.5h2M192 743.5h2M196 743.5h2M215 743.5h3M147 744.5h18M168 744.5h7M178 744.5h2M196 744.5h2M216 744.5h1M147 745.5h13M162 745.5h2M170 745.5h2M221 745.5h2M147 746.5h10M158 746.5h5M165 746.5h2M221 746.5h2M146 747.5h12M160 747.5h3M164 747.5h3M170 747.5h1M147 748.5h12M164 748.5h3M169 748.5h3M146 749.5h10M157 749.5h3M161 749.5h1M169 749.5h2M172 749.5h2M180 749.5h1M146 750.5h17M169 750.5h1M172 750.5h2M179 750.5h2M147 751.5h20M168 751.5h3M172 751.5h2M179 751.5h2M147 752.5h23M182 752.5h2M191 752.5h2M147 753.5h16M165 753.5h3M182 753.5h5M191 753.5h2M147 754.5h12M160 754.5h2M165 754.5h3M180 754.5h1M183 754.5h4M197 754.5h2M147 755.5h11M159 755.5h3M165 755.5h5M179 755.5h3M183 755.5h2M197 755.5h3M148 756.5h10M159 756.5h3M168 756.5h2M180 756.5h2" stroke="#e3231f" stroke-width="1"/>
<path d="M1062 347.5h23M1062 348.5h26M1089 348.5h2M1092 348.5h2M1062 349.5h33M1062 350.5h33M1062 351.5h26M1089 351.5h2M1092 351.5h2M1063 352.5h2M1066 352.5h2M1070 352.5h2M1074 352.5h2M1077 352.5h3M1081 352.5h2M1067 383.5h1M1071 383.5h3M1066 384.5h4M1071 384.5h4M1066 385.5h4M1071 385.5h3M1066 386.5h3M1072 386.5h2M1064 390.5h6M1063 391.5h8M1063 392.5h7M1065 393.5h5M1067 394.5h5M1067 395.5h6M1067 396.5h7M1068 397.5h6M1068 398.5h6M1065 399.5h9M1064 400.5h7M1064 401.5h6M1065 402.5h2M1072 403.5h2M1071 404.5h4M1071 405.5h4M1072 406.5h2M1065 408.5h3M1064 409.5h4M1065 410.5h3M1069 410.5h3M1069 411.5h6M1069 412.5h7M1066 413.5h2M1072 413.5h4M1065 414.5h4M1073 414.5h1M1065 415.5h4M1066 416.5h2M1070 416.5h3M1065 417.5h8M1065 418.5h8M1066 419.5h4M1067 423.5h1M1064 424.5h5M1063 425.5h6M1063 426.5h6M1063 427.5h4M1064 428.5h2M1065 432.5h2M1064 433.5h4M1064 434.5h4M1065 435.5h2M1063 438.5h3M1062 439.5h4M1063 440.5h6M1071 440.5h1M1065 441.5h4M1070 441.5h3M1066 442.5h2M1070 442.5h3M1070 443.5h3M1063 448.5h3M1063 449.5h3M1063 450.5h3M1064 451.5h1M1073 451.5h2M1072 452.5h4M1072 453.5h4M1063 454.5h3M1073 454.5h2M1062 455.5h4M1063 456.5h5M1065 457.5h4M1065 458.5h4M1066 459.5h2M1064 461.5h2M1063 462.5h7M1063 463.5h7M1063 464.5h7M1066 465.5h3M1067 466.5h2M1071 466.5h3M1063 467.5h1M1065 467.5h1M1067 467.5h3M1071 467.5h3M1075 467.5h1M1077 467.5h1M1079 467.5h1M1081 467.5h14M1062 468.5h34M1062 469.5h34M1062 470.5h34M1062 471.5h34M1062 472.5h33M1072 473.5h2M1079 474.5h2M1075 475.5h7M1063 476.5h2M1075 476.5h7M1062 477.5h4M1076 477.5h7M1062 478.5h5M1076 478.5h7M1063 479.5h5M1079 479.5h4M1064 480.5h4M1079 480.5h4M1065 481.5h3M1071 481.5h1M1078 481.5h2M1070 482.5h3M1077 482.5h4M1070 483.5h3M1077 483.5h7M1063 484.5h2M1068 484.5h5M1074 484.5h10M1062 485.5h4M1068 485.5h3M1073 485.5h5M1080 485.5h4M1062 486.5h4M1068 486.5h3M1073 486.5h4M1080 486.5h4M1063 487.5h4M1069 487.5h1M1071 487.5h1M1073 487.5h6M1080 487.5h4M1063 488.5h4M1070 488.5h3M1074 488.5h6M1081 488.5h3M1063 489.5h3M1070 489.5h15M1063 490.5h3M1070 490.5h6M1077 490.5h8M1063 491.5h3M1069 491.5h7M1077 491.5h8M1063 492.5h3M1068 492.5h8M1077 492.5h7M1065 493.5h11M1077 493.5h8M1065 494.5h11M1077 494.5h9M1064 495.5h10M1077 495.5h4M1082 495.5h4M1063 496.5h12M1077 496.5h2M1082 496.5h3M1063 497.5h17M1082 497.5h4M1062 498.5h18M1081 498.5h4M1062 499.5h23M1062 500.5h23M1063 501.5h4M1068 501.5h17M1064 502.5h3M1068 502.5h6M1075 502.5h11M1063 503.5h10M1076 503.5h9M1062 504.5h12M1075 504.5h5M1081 504.5h5M1062 505.5h12M1075 505.5h11M1062 506.5h24M1063 507.5h2M1066 507.5h20M1063 508.5h23M1063 509.5h23M1062 510.5h24M1062 511.5h11M1074 511.5h12M1063 512.5h23M1063 513.5h23M1062 514.5h24M1063 515.5h23M1063 516.5h23M1062 517.5h24M1062 518.5h24M1063 519.5h23M1063 520.5h23M1063 521.5h22M1062 522.5h23M1062 523.5h23M1062 524.5h24M1062 525.5h24M1062 526.5h24M1062 527.5h25M1062 528.5h25M1062 529.5h25M1062 530.5h26M1063 531.5h25M1062 532.5h27M1062 533.5h27M1062 534.5h27M1062 535.5h28M1063 536.5h26M1062 537.5h28M1062 538.5h29M1062 539.5h29M1062 540.5h30M1062 541.5h30M1062 542.5h30M1062 543.5h31M1062 544.5h31M1062 545.5h31M1063 546.5h31M1062 547.5h32M1062 548.5h33M1062 549.5h33M1062 550.5h33M1063 551.5h32M1062 552.5h33M1062 553.5h33M1062 554.5h32M1062 555.5h33M1062 556.5h33M1063 557.5h32M1063 558.5h32M1062 559.5h33M1063 560.5h32M1063 561.5h32M1063 562.5h32M1062 563.5h33M1062 564.5h33M1062 565.5h33M1062 566.5h33M1062 567.5h33M1062 568.5h33M1062 569.5h33M1062 570.5h33M1062 571.5h33M1062 572.5h33M1062 573.5h33M1062 574.5h33M1062 575.5h33M1062 576.5h33M1062 577.5h33M1062 578.5h33M1062 579.5h33M1062 580.5h33M1062 581.5h33M1062 582.5h33M1062 583.5h33M1062 584.5h33M1062 585.5h33M1062 586.5h33M1062 587.5h33M1062 588.5h33M1062 589.5h34M1062 590.5h34M1062 591.5h34M1062 592.5h33M1062 593.5h33M1062 594.5h33M1063 595.5h32M1062 596.5h33M1062 597.5h33M1062 598.5h32M1062 599.5h33M1062 600.5h33M1062 601.5h33M1063 602.5h31M1062 603.5h33M1062 604.5h33M1062 605.5h33M1062 606.5h32M1062 607.5h33M1062 608.5h33M1062 609.5h33M1063 610.5h32M1063 611.5h32M1062 612.5h33M1063 613.5h32M1062 614.5h33M1062 615.5h33M1062 616.5h33M1062 617.5h32M1062 618.5h32M1062 619.5h33M1062 620.5h33M1062 621.5h33M1062 622.5h33M1062 623.5h33M1062 624.5h33M1062 625.5h33M1062 626.5h33M1062 627.5h33M1062 628.5h33M1062 629.5h33M1062 630.5h33M1062 631.5h33M1062 632.5h33M1062 633.5h33M1062 634.5h33M1062 635.5h33M1062 636.5h33M1062 637.5h33M1062 638.5h33M1062 639.5h33M1062 640.5h33M1062 641.5h33M1062 642.5h33M1062 643.5h33M1062 644.5h33M1062 645.5h33M1062 646.5h33M1062 647.5h33M1062 648.5h33M1062 649.5h33M1062 650.5h32M1062 651.5h33M1062 652.5h33M1062 653.5h32M1062 654.5h32M1062 655.5h33M1062 656.5h33M1062 657.5h33M1062 658.5h33M1062 659.5h33M1062 660.5h33M1062 661.5h33M1062 662.5h33M1062 663.5h33M1062 664.5h33M1062 665.5h33M1062 666.5h33M1062 667.5h33M1062 668.5h33M1062 669.5h32M1062 670.5h33M1116 670.5h2M1122 670.5h1M1062 671.5h35M1100 671.5h2M1115 671.5h4M1121 671.5h3M1062 672.5h36M1099 672.5h6M1108 672.5h6M1115 672.5h4M1121 672.5h3M1129 672.5h2M1135 672.5h2M1062 673.5h36M1099 673.5h6M1107 673.5h11M1121 673.5h3M1128 673.5h10M1159 673.5h3M1062 674.5h55M1118 674.5h2M1127 674.5h11M1158 674.5h4M1062 675.5h59M1127 675.5h7M1135 675.5h2M1159 675.5h3M1062 676.5h47M1110 676.5h13M1127 676.5h4M1132 676.5h3M1137 676.5h3M1156 676.5h3M1160 676.5h1M1214 676.5h2M1062 677.5h38M1101 677.5h4M1106 677.5h3M1111 677.5h25M1137 677.5h4M1156 677.5h3M1213 677.5h3M1062 678.5h34M1097 678.5h8M1106 678.5h4M1111 678.5h25M1137 678.5h3M1142 678.5h3M1151 678.5h2M1154 678.5h5M1169 678.5h3M1213 678.5h3M1062 679.5h55M1123 679.5h12M1137 679.5h4M1142 679.5h3M1150 679.5h8M1168 679.5h4M1213 679.5h3M1062 680.5h48M1111 680.5h11M1123 680.5h4M1131 680.5h4M1137 680.5h3M1142 680.5h3M1150 680.5h7M1169 680.5h3M1062 681.5h44M1113 681.5h14M1132 681.5h9M1148 681.5h5M1154 681.5h2M1062 682.5h44M1110 682.5h16M1132 682.5h9M1148 682.5h5M1062 683.5h44M1110 683.5h7M1120 683.5h5M1133 683.5h3M1138 683.5h2M1148 683.5h6M1165 683.5h1M1176 683.5h1M1062 684.5h44M1109 684.5h9M1121 684.5h8M1130 684.5h3M1148 684.5h2M1152 684.5h5M1160 684.5h2M1164 684.5h3M1175 684.5h3M1062 685.5h44M1108 685.5h26M1144 685.5h2M1152 685.5h6M1159 685.5h4M1164 685.5h3M1175 685.5h3M1187 685.5h4M1062 686.5h63M1126 686.5h8M1144 686.5h3M1151 686.5h12M1164 686.5h3M1175 686.5h3M1187 686.5h4M1062 687.5h64M1128 687.5h5M1143 687.5h4M1150 687.5h4M1155 687.5h7M1188 687.5h3M1062 688.5h39M1102 688.5h11M1115 688.5h1M1117 688.5h4M1122 688.5h4M1129 688.5h3M1142 688.5h5M1151 688.5h3M1157 688.5h5M1062 689.5h45M1108 689.5h11M1123 689.5h3M1131 689.5h3M1141 689.5h7M1157 689.5h4M1062 690.5h43M1106 690.5h14M1121 690.5h7M1131 690.5h3M1141 690.5h6M1158 690.5h3M1199 690.5h3M1062 691.5h57M1121 691.5h7M1131 691.5h3M1140 691.5h4M1145 691.5h1M1199 691.5h3M1062 692.5h50M1113 692.5h6M1121 692.5h7M1132 692.5h1M1140 692.5h4M1199 692.5h3M1243 692.5h3M1062 693.5h58M1123 693.5h5M1131 693.5h6M1141 693.5h2M1153 693.5h2M1157 693.5h3M1172 693.5h3M1200 693.5h1M1242 693.5h4M1062 694.5h58M1123 694.5h7M1131 694.5h6M1138 694.5h3M1152 694.5h8M1172 694.5h4M1185 694.5h3M1242 694.5h5M1062 695.5h59M1122 695.5h15M1138 695.5h3M1144 695.5h4M1152 695.5h8M1172 695.5h5M1185 695.5h3M1243 695.5h4M1062 696.5h59M1122 696.5h11M1137 696.5h4M1143 696.5h6M1153 696.5h6M1173 696.5h4M1185 696.5h3M1244 696.5h3M1062 697.5h59M1122 697.5h6M1130 697.5h3M1137 697.5h3M1143 697.5h6M1156 697.5h4M1163 697.5h1M1174 697.5h2M1062 698.5h55M1119 698.5h1M1123 698.5h5M1130 698.5h3M1137 698.5h3M1146 698.5h2M1157 698.5h3M1162 698.5h3M1217 698.5h3M1062 699.5h56M1126 699.5h2M1130 699.5h10M1145 699.5h2M1157 699.5h3M1162 699.5h4M1185 699.5h2M1204 699.5h3M1217 699.5h4M1062 700.5h58M1121 700.5h10M1132 700.5h8M1145 700.5h3M1158 700.5h1M1162 700.5h5M1184 700.5h4M1204 700.5h3M1217 700.5h3M1238 700.5h3M1280 700.5h3M1062 701.5h77M1145 701.5h4M1156 701.5h3M1163 701.5h4M1184 701.5h4M1192 701.5h3M1204 701.5h3M1238 701.5h3M1271 701.5h2M1280 701.5h4M1062 702.5h71M1134 702.5h5M1145 702.5h7M1156 702.5h4M1164 702.5h4M1185 702.5h2M1191 702.5h4M1205 702.5h1M1238 702.5h3M1270 702.5h4M1280 702.5h3M1062 703.5h44M1107 703.5h13M1121 703.5h19M1146 703.5h6M1156 703.5h3M1164 703.5h4M1192 703.5h3M1239 703.5h1M1270 703.5h4M1281 703.5h1M1063 704.5h57M1123 704.5h18M1149 704.5h2M1165 704.5h1M1193 704.5h1M1200 704.5h3M1271 704.5h2M1062 705.5h58M1123 705.5h18M1143 705.5h3M1151 705.5h3M1200 705.5h3M1231 705.5h3M1062 706.5h58M1121 706.5h11M1133 706.5h4M1138 706.5h2M1143 706.5h3M1151 706.5h5M1177 706.5h4M1200 706.5h3M1230 706.5h4M1063 707.5h66M1130 707.5h1M1133 707.5h4M1143 707.5h3M1151 707.5h5M1176 707.5h6M1231 707.5h3M1062 708.5h66M1132 708.5h1M1134 708.5h2M1148 708.5h3M1153 708.5h2M1173 708.5h2M1176 708.5h6M1192 708.5h3M1062 709.5h40M1103 709.5h22M1127 709.5h3M1131 709.5h3M1143 709.5h3M1147 709.5h4M1172 709.5h9M1191 709.5h4M1212 709.5h1M1240 709.5h1M1333 709.5h3M1062 710.5h59M1122 710.5h13M1143 710.5h3M1147 710.5h7M1172 710.5h4M1191 710.5h5M1211 710.5h3M1225 710.5h3M1239 710.5h3M1332 710.5h4M1062 711.5h42M1105 711.5h16M1122 711.5h4M1127 711.5h9M1143 711.5h3M1147 711.5h7M1163 711.5h1M1174 711.5h1M1191 711.5h5M1198 711.5h1M1211 711.5h3M1225 711.5h3M1239 711.5h9M1333 711.5h3M1350 711.5h2M1062 712.5h64M1128 712.5h8M1144 712.5h1M1146 712.5h3M1150 712.5h8M1162 712.5h3M1192 712.5h4M1197 712.5h3M1211 712.5h4M1225 712.5h3M1239 712.5h9M1349 712.5h4M1062 713.5h73M1136 713.5h3M1145 713.5h4M1151 713.5h2M1154 713.5h5M1162 713.5h3M1166 713.5h1M1197 713.5h3M1207 713.5h2M1211 713.5h4M1226 713.5h1M1242 713.5h6M1349 713.5h4M1062 714.5h72M1136 714.5h4M1145 714.5h4M1154 714.5h6M1162 714.5h6M1183 714.5h4M1188 714.5h2M1197 714.5h4M1206 714.5h4M1212 714.5h2M1350 714.5h2M1062 715.5h72M1136 715.5h4M1146 715.5h4M1156 715.5h3M1165 715.5h8M1183 715.5h7M1197 715.5h5M1206 715.5h4M1062 716.5h62M1125 716.5h8M1136 716.5h4M1146 716.5h5M1154 716.5h2M1165 716.5h9M1183 716.5h7M1198 716.5h3M1207 716.5h3M1224 716.5h3M1062 717.5h65M1130 717.5h2M1136 717.5h4M1146 717.5h4M1153 717.5h4M1166 717.5h10M1185 717.5h1M1187 717.5h3M1223 717.5h4M1062 718.5h65M1136 718.5h4M1141 718.5h2M1146 718.5h3M1150 718.5h8M1166 718.5h3M1173 718.5h4M1187 718.5h3M1204 718.5h2M1224 718.5h3M1062 719.5h56M1119 719.5h11M1137 719.5h8M1147 719.5h5M1153 719.5h5M1166 719.5h3M1173 719.5h4M1196 719.5h2M1200 719.5h3M1204 719.5h3M1225 719.5h1M1229 719.5h2M1265 719.5h2M1062 720.5h68M1137 720.5h8M1148 720.5h4M1155 720.5h2M1167 720.5h4M1182 720.5h5M1195 720.5h4M1200 720.5h7M1223 720.5h3M1228 720.5h4M1264 720.5h4M1062 721.5h67M1136 721.5h9M1147 721.5h5M1166 721.5h5M1174 721.5h2M1182 721.5h6M1195 721.5h4M1200 721.5h3M1204 721.5h3M1222 721.5h4M1228 721.5h4M1264 721.5h4M1062 722.5h50M1114 722.5h12M1128 722.5h2M1135 722.5h10M1147 722.5h9M1163 722.5h1M1166 722.5h5M1173 722.5h3M1182 722.5h6M1196 722.5h2M1204 722.5h3M1223 722.5h3M1229 722.5h3M1265 722.5h2M1062 723.5h88M1151 723.5h5M1162 723.5h3M1167 723.5h4M1172 723.5h5M1183 723.5h1M1185 723.5h4M1204 723.5h2M1224 723.5h1M1062 724.5h74M1137 724.5h11M1151 724.5h5M1162 724.5h3M1167 724.5h3M1171 724.5h6M1185 724.5h4M1062 725.5h75M1138 725.5h9M1150 725.5h6M1157 725.5h3M1162 725.5h3M1171 725.5h6M1186 725.5h2M1222 725.5h2M1062 726.5h81M1150 726.5h11M1164 726.5h3M1172 726.5h2M1222 726.5h3M1062 727.5h81M1146 727.5h2M1150 727.5h10M1164 727.5h3M1170 727.5h3M1196 727.5h2M1205 727.5h2M1221 727.5h4M1062 728.5h62M1125 728.5h18M1145 728.5h4M1150 728.5h4M1155 728.5h6M1164 728.5h3M1169 728.5h4M1195 728.5h4M1204 728.5h4M1222 728.5h3M1062 729.5h76M1140 729.5h2M1144 729.5h10M1158 729.5h4M1164 729.5h3M1170 729.5h6M1186 729.5h1M1195 729.5h4M1201 729.5h7M1217 729.5h3M1221 729.5h4M1062 730.5h38M1101 730.5h36M1139 730.5h3M1145 730.5h8M1157 730.5h10M1172 730.5h4M1185 730.5h3M1196 730.5h2M1201 730.5h6M1216 730.5h4M1222 730.5h3M1062 731.5h74M1139 731.5h4M1145 731.5h7M1156 731.5h11M1173 731.5h3M1185 731.5h5M1201 731.5h3M1217 731.5h3M1241 731.5h3M1305 731.5h3M1062 732.5h45M1108 732.5h28M1137 732.5h6M1144 732.5h8M1157 732.5h7M1165 732.5h1M1171 732.5h3M1185 732.5h6M1230 732.5h2M1241 732.5h3M1304 732.5h4M1325 732.5h4M1062 733.5h58M1122 733.5h8M1131 733.5h12M1144 733.5h6M1157 733.5h2M1167 733.5h3M1171 733.5h3M1181 733.5h2M1187 733.5h4M1192 733.5h2M1207 733.5h2M1229 733.5h4M1241 733.5h3M1305 733.5h3M1325 733.5h4M1062 734.5h58M1122 734.5h27M1156 734.5h7M1167 734.5h7M1180 734.5h4M1188 734.5h2M1191 734.5h6M1206 734.5h4M1229 734.5h4M1326 734.5h3M1062 735.5h58M1122 735.5h26M1156 735.5h7M1164 735.5h6M1171 735.5h2M1175 735.5h3M1180 735.5h4M1191 735.5h9M1206 735.5h4M1230 735.5h2M1062 736.5h72M1136 736.5h13M1156 736.5h11M1170 736.5h2M1174 736.5h5M1181 736.5h2M1192 736.5h9M1207 736.5h2M1062 737.5h71M1136 737.5h13M1153 737.5h2M1156 737.5h6M1164 737.5h3M1170 737.5h3M1175 737.5h4M1197 737.5h3M1062 738.5h71M1136 738.5h9M1151 738.5h9M1169 738.5h4M1176 738.5h2M1292 738.5h3M1062 739.5h71M1137 739.5h8M1150 739.5h10M1166 739.5h7M1185 739.5h1M1211 739.5h3M1291 739.5h4M1062 740.5h36M1099 740.5h36M1138 740.5h5M1149 740.5h11M1166 740.5h7M1184 740.5h3M1210 740.5h4M1216 740.5h3M1239 740.5h2M1291 740.5h4M1062 741.5h67M1130 741.5h12M1149 741.5h12M1166 741.5h6M1184 741.5h3M1210 741.5h4M1216 741.5h4M1238 741.5h4M1062 742.5h79M1145 742.5h3M1150 742.5h10M1164 742.5h7M1184 742.5h3M1211 742.5h2M1216 742.5h3M1235 742.5h7M1262 742.5h3M1321 742.5h3M1062 743.5h65M1128 743.5h14M1145 743.5h4M1150 743.5h10M1162 743.5h6M1210 743.5h3M1217 743.5h1M1219 743.5h3M1234 743.5h4M1239 743.5h2M1261 743.5h4M1321 743.5h3M1062 744.5h82M1145 744.5h3M1149 744.5h11M1161 744.5h9M1171 744.5h3M1179 744.5h4M1210 744.5h4M1219 744.5h3M1235 744.5h3M1247 744.5h1M1262 744.5h3M1321 744.5h3M1062 745.5h104M1167 745.5h8M1179 745.5h4M1199 745.5h2M1210 745.5h5M1219 745.5h3M1229 745.5h2M1235 745.5h4M1246 745.5h3M1271 745.5h2M1322 745.5h1M1062 746.5h63M1128 746.5h32M1161 746.5h4M1166 746.5h8M1177 746.5h6M1198 746.5h4M1210 746.5h5M1216 746.5h3M1228 746.5h4M1235 746.5h4M1246 746.5h3M1270 746.5h3M1062 747.5h62M1129 747.5h23M1155 747.5h2M1162 747.5h3M1166 747.5h5M1176 747.5h6M1183 747.5h4M1198 747.5h4M1210 747.5h9M1228 747.5h4M1236 747.5h2M1246 747.5h3M1270 747.5h3M1062 748.5h66M1130 748.5h15M1147 748.5h6M1155 748.5h3M1166 748.5h5M1175 748.5h7M1183 748.5h4M1199 748.5h2M1205 748.5h3M1211 748.5h2M1216 748.5h3M1229 748.5h2M1270 748.5h3M1334 748.5h2M1062 749.5h54M1117 749.5h19M1137 749.5h17M1155 749.5h4M1165 749.5h7M1174 749.5h6M1183 749.5h3M1190 749.5h4M1197 749.5h2M1205 749.5h4M1217 749.5h1M1227 749.5h3M1239 749.5h1M1249 749.5h1M1333 749.5h4M1062 750.5h81M1144 750.5h14M1160 750.5h3M1165 750.5h7M1173 750.5h4M1182 750.5h3M1190 750.5h4M1196 750.5h4M1205 750.5h3M1218 750.5h2M1227 750.5h3M1238 750.5h4M1248 750.5h3M1333 750.5h4M1062 751.5h95M1160 751.5h4M1165 751.5h7M1174 751.5h3M1178 751.5h3M1182 751.5h3M1189 751.5h5M1196 751.5h4M1206 751.5h1M1217 751.5h4M1227 751.5h3M1238 751.5h5M1248 751.5h3M1334 751.5h2M1062 752.5h80M1144 752.5h13M1160 752.5h3M1167 752.5h9M1178 752.5h3M1182 752.5h3M1189 752.5h4M1197 752.5h2M1217 752.5h4M1228 752.5h1M1238 752.5h5M1248 752.5h5M1062 753.5h71M1134 753.5h14M1153 753.5h4M1161 753.5h2M1168 753.5h9M1178 753.5h3M1185 753.5h4M1190 753.5h3M1218 753.5h2M1238 753.5h4M1250 753.5h3M1293 753.5h2M1383 753.5h2M1062 754.5h87M1153 754.5h5M1161 754.5h3M1165 754.5h15M1185 754.5h4M1190 754.5h4M1199 754.5h1M1228 754.5h2M1250 754.5h3M1292 754.5h4M1382 754.5h4M1062 755.5h97M1160 755.5h4M1165 755.5h11M1177 755.5h6M1185 755.5h3M1190 755.5h3M1198 755.5h3M1204 755.5h3M1227 755.5h4M1232 755.5h3M1238 755.5h2M1250 755.5h3M1260 755.5h2M1276 755.5h2M1279 755.5h1M1292 755.5h4M1382 755.5h4M1062 756.5h78M1141 756.5h23M1165 756.5h8M1177 756.5h11M1190 756.5h2M1195 756.5h1M1197 756.5h5M1204 756.5h4M1227 756.5h8M1237 756.5h4M1248 756.5h2M1258 756.5h5M1275 756.5h6M1293 756.5h2M1313 756.5h3M1383 756.5h2M1062 757.5h102M1167 757.5h5M1178 757.5h5M1184 757.5h5M1191 757.5h6M1198 757.5h4M1204 757.5h4M1228 757.5h2M1232 757.5h3M1237 757.5h4M1247 757.5h3M1258 757.5h5M1275 757.5h6M1313 757.5h4M1062 758.5h96M1161 758.5h11M1175 758.5h2M1180 758.5h4M1185 758.5h4M1191 758.5h6M1199 758.5h9M1227 758.5h3M1238 758.5h2M1247 758.5h3M1258 758.5h5M1276 758.5h5M1302 758.5h2M1313 758.5h3M1062 759.5h91M1154 759.5h5M1161 759.5h10M1174 759.5h4M1180 759.5h3M1186 759.5h3M1191 759.5h6M1201 759.5h7M1226 759.5h4M1248 759.5h2M1299 759.5h6M1535 759.5h3M1062 760.5h87M1150 760.5h3M1154 760.5h5M1161 760.5h8M1175 760.5h5M1181 760.5h1M1187 760.5h1M1194 760.5h3M1201 760.5h7M1226 760.5h4M1264 760.5h3M1299 760.5h6M1307 760.5h1M1534 760.5h4M1062 761.5h81M1144 761.5h10M1155 761.5h4M1162 761.5h1M1164 761.5h8M1175 761.5h7M1191 761.5h2M1203 761.5h3M1223 761.5h2M1228 761.5h5M1237 761.5h3M1263 761.5h4M1299 761.5h5M1306 761.5h3M1315 761.5h3M1535 761.5h3M1062 762.5h81M1144 762.5h15M1166 762.5h7M1177 762.5h6M1190 762.5h4M1196 762.5h1M1198 762.5h2M1203 762.5h3M1217 762.5h2M1222 762.5h4M1228 762.5h5M1236 762.5h4M1253 762.5h2M1263 762.5h4M1306 762.5h3M1315 762.5h3M1536 762.5h1M1062 763.5h68M1131 763.5h27M1166 763.5h6M1179 763.5h3M1190 763.5h4M1195 763.5h6M1208 763.5h1M1216 763.5h4M1222 763.5h5M1228 763.5h5M1236 763.5h4M1243 763.5h3M1252 763.5h4M1306 763.5h3M1315 763.5h3M1062 764.5h95M1163 764.5h2M1174 764.5h3M1179 764.5h2M1189 764.5h4M1195 764.5h6M1207 764.5h3M1216 764.5h4M1223 764.5h4M1228 764.5h5M1242 764.5h4M1247 764.5h3M1252 764.5h4M1315 764.5h2M1062 765.5h53M1116 765.5h34M1151 765.5h6M1162 765.5h5M1168 765.5h2M1172 765.5h10M1189 765.5h4M1195 765.5h5M1205 765.5h5M1224 765.5h3M1229 765.5h4M1243 765.5h3M1247 765.5h3M1251 765.5h4M1315 765.5h3M1062 766.5h65M1128 766.5h23M1152 766.5h4M1160 766.5h1M1162 766.5h20M1189 766.5h3M1193 766.5h6M1205 766.5h7M1216 766.5h4M1230 766.5h2M1243 766.5h2M1247 766.5h7M1276 766.5h4M1315 766.5h3M1062 767.5h63M1128 767.5h5M1134 767.5h24M1159 767.5h3M1163 767.5h19M1183 767.5h3M1192 767.5h7M1205 767.5h3M1209 767.5h3M1213 767.5h2M1216 767.5h4M1238 767.5h2M1248 767.5h1M1250 767.5h4M1272 767.5h2M1275 767.5h6M1315 767.5h3M1062 768.5h63M1126 768.5h7M1134 768.5h24M1159 768.5h22M1183 768.5h3M1193 768.5h7M1209 768.5h10M1224 768.5h6M1236 768.5h6M1243 768.5h1M1251 768.5h2M1263 768.5h1M1265 768.5h1M1271 768.5h10M1286 768.5h2M1316 768.5h2M1377 768.5h2M1384 768.5h3M1062 769.5h71M1134 769.5h39M1175 769.5h5M1183 769.5h3M1197 769.5h8M1210 769.5h1M1212 769.5h4M1224 769.5h6M1236 769.5h9M1262 769.5h5M1271 769.5h8M1285 769.5h4M1376 769.5h4M1384 769.5h3M1062 770.5h78M1141 770.5h18M1160 770.5h13M1176 770.5h3M1184 770.5h1M1197 770.5h8M1213 770.5h2M1222 770.5h8M1236 770.5h10M1262 770.5h5M1285 770.5h4M1308 770.5h3M1354 770.5h2M1376 770.5h4M1384 770.5h3M1062 771.5h78M1141 771.5h1M1143 771.5h1M1145 771.5h20M1168 771.5h4M1173 771.5h1M1176 771.5h3M1180 771.5h3M1192 771.5h2M1198 771.5h6M1209 771.5h2M1221 771.5h4M1239 771.5h2M1242 771.5h5M1262 771.5h5M1271 771.5h4M1283 771.5h5M1307 771.5h4M1353 771.5h4M1377 771.5h2M1062 772.5h88M1153 772.5h5M1159 772.5h4M1165 772.5h6M1172 772.5h11M1187 772.5h3M1192 772.5h3M1197 772.5h4M1208 772.5h4M1221 772.5h4M1243 772.5h4M1252 772.5h1M1270 772.5h6M1282 772.5h4M1308 772.5h3M1341 772.5h2M1353 772.5h4M1062 773.5h84M1155 773.5h3M1160 773.5h19M1180 773.5h3M1187 773.5h3M1192 773.5h3M1197 773.5h3M1206 773.5h6M1221 773.5h4M1237 773.5h3M1244 773.5h2M1251 773.5h3M1271 773.5h5M1283 773.5h3M1340 773.5h4M1354 773.5h2M1062 774.5h76M1140 774.5h8M1152 774.5h1M1155 774.5h3M1160 774.5h8M1169 774.5h9M1180 774.5h5M1187 774.5h8M1197 774.5h3M1206 774.5h5M1218 774.5h2M1221 774.5h3M1236 774.5h4M1250 774.5h5M1273 774.5h2M1340 774.5h4M1407 774.5h1M1062 775.5h76M1140 775.5h9M1151 775.5h3M1155 775.5h10M1169 775.5h8M1180 775.5h6M1189 775.5h6M1200 775.5h2M1205 775.5h4M1217 775.5h3M1237 775.5h3M1251 775.5h4M1341 775.5h2M1406 775.5h3M1062 776.5h103M1169 776.5h8M1180 776.5h5M1189 776.5h6M1197 776.5h13M1217 776.5h3M1251 776.5h4M1292 776.5h1M1406 776.5h3M1062 777.5h103M1169 777.5h3M1173 777.5h3M1184 777.5h3M1193 777.5h1M1196 777.5h15M1218 777.5h2M1244 777.5h3M1290 777.5h4M1406 777.5h3M1062 778.5h102M1183 778.5h5M1189 778.5h1M1196 778.5h15M1213 778.5h3M1229 778.5h3M1244 778.5h4M1255 778.5h3M1279 778.5h4M1289 778.5h5M1326 778.5h1M1062 779.5h73M1136 779.5h20M1157 779.5h7M1170 779.5h4M1175 779.5h2M1183 779.5h8M1197 779.5h13M1213 779.5h3M1228 779.5h4M1244 779.5h3M1255 779.5h3M1279 779.5h4M1288 779.5h6M1296 779.5h3M1325 779.5h4M1062 780.5h73M1136 780.5h28M1169 780.5h9M1184 780.5h8M1197 780.5h5M1203 780.5h2M1206 780.5h3M1213 780.5h3M1227 780.5h5M1243 780.5h3M1251 780.5h7M1280 780.5h3M1289 780.5h3M1295 780.5h4M1325 780.5h4M1062 781.5h73M1136 781.5h28M1169 781.5h9M1187 781.5h5M1193 781.5h3M1197 781.5h3M1202 781.5h4M1214 781.5h1M1227 781.5h4M1241 781.5h5M1248 781.5h9M1291 781.5h2M1296 781.5h3M1325 781.5h4M1342 781.5h3M1062 782.5h77M1140 782.5h4M1146 782.5h11M1158 782.5h8M1170 782.5h8M1187 782.5h5M1193 782.5h7M1202 782.5h4M1223 782.5h2M1228 782.5h2M1240 782.5h6M1247 782.5h10M1259 782.5h3M1290 782.5h4M1297 782.5h1M1326 782.5h2M1342 782.5h3M1362 782.5h3M1062 783.5h77M1141 783.5h3M1147 783.5h19M1170 783.5h8M1183 783.5h4M1188 783.5h2M1193 783.5h7M1201 783.5h4M1215 783.5h1M1223 783.5h3M1240 783.5h6M1247 783.5h4M1253 783.5h4M1258 783.5h4M1287 783.5h7M1319 783.5h2M1342 783.5h3M1362 783.5h3M1062 784.5h78M1141 784.5h3M1145 784.5h23M1169 784.5h9M1182 784.5h6M1190 784.5h3M1194 784.5h1M1197 784.5h2M1200 784.5h4M1214 784.5h3M1223 784.5h3M1237 784.5h7M1248 784.5h2M1254 784.5h3M1259 784.5h4M1287 784.5h6M1318 784.5h3M1362 784.5h3M1062 785.5h114M1179 785.5h15M1199 785.5h5M1214 785.5h4M1223 785.5h3M1232 785.5h11M1260 785.5h4M1279 785.5h3M1287 785.5h3M1318 785.5h3M1332 785.5h2M1345 785.5h2M1383 785.5h3M1062 786.5h115M1179 786.5h3M1183 786.5h21M1214 786.5h7M1223 786.5h3M1231 786.5h6M1238 786.5h5M1260 786.5h4M1266 786.5h6M1273 786.5h2M1279 786.5h3M1307 786.5h2M1318 786.5h3M1331 786.5h4M1339 786.5h2M1345 786.5h3M1383 786.5h3M1062 787.5h99M1163 787.5h13M1177 787.5h6M1186 787.5h17M1209 787.5h4M1217 787.5h4M1232 787.5h5M1240 787.5h4M1261 787.5h1M1265 787.5h11M1279 787.5h3M1306 787.5h4M1331 787.5h4M1339 787.5h3M1345 787.5h3M1383 787.5h3M1062 788.5h78M1142 788.5h11M1155 788.5h10M1170 788.5h1M1173 788.5h2M1177 788.5h8M1192 788.5h11M1209 788.5h4M1217 788.5h5M1232 788.5h2M1241 788.5h3M1266 788.5h10M1280 788.5h2M1291 788.5h3M1306 788.5h4M1316 788.5h3M1332 788.5h2M1339 788.5h3M1345 788.5h3M1384 788.5h2M1062 789.5h78M1143 789.5h9M1153 789.5h2M1157 789.5h9M1167 789.5h3M1172 789.5h14M1192 789.5h6M1199 789.5h6M1206 789.5h3M1210 789.5h2M1218 789.5h4M1224 789.5h4M1237 789.5h2M1241 789.5h3M1269 789.5h3M1273 789.5h2M1276 789.5h2M1290 789.5h4M1307 789.5h2M1316 789.5h4M1339 789.5h2M1376 789.5h1M1062 790.5h78M1141 790.5h15M1158 790.5h8M1167 790.5h4M1172 790.5h3M1176 790.5h10M1188 790.5h1M1191 790.5h14M1206 790.5h5M1216 790.5h5M1223 790.5h5M1230 790.5h3M1235 790.5h5M1276 790.5h3M1291 790.5h3M1316 790.5h3M1375 790.5h3M1062 791.5h100M1163 791.5h7M1173 791.5h2M1176 791.5h23M1200 791.5h5M1206 791.5h6M1216 791.5h4M1223 791.5h11M1235 791.5h5M1246 791.5h1M1275 791.5h4M1311 791.5h3M1316 791.5h3M1344 791.5h3M1375 791.5h3M1062 792.5h93M1156 792.5h5M1163 792.5h3M1167 792.5h3M1172 792.5h9M1182 792.5h17M1202 792.5h4M1208 792.5h4M1216 792.5h3M1223 792.5h11M1235 792.5h4M1245 792.5h3M1276 792.5h5M1310 792.5h4M1316 792.5h3M1335 792.5h3M1344 792.5h3M1375 792.5h3M1394 792.5h3M1062 793.5h98M1164 793.5h7M1172 793.5h25M1202 793.5h5M1208 793.5h6M1226 793.5h7M1244 793.5h4M1251 793.5h3M1278 793.5h3M1310 793.5h4M1315 793.5h4M1334 793.5h5M1344 793.5h3M1394 793.5h4M1062 794.5h86M1149 794.5h7M1161 794.5h9M1171 794.5h8M1180 794.5h9M1190 794.5h6M1202 794.5h6M1210 794.5h5M1230 794.5h4M1245 794.5h3M1251 794.5h4M1278 794.5h3M1314 794.5h3M1335 794.5h5M1345 794.5h1M1394 794.5h3M1062 795.5h83M1149 795.5h7M1161 795.5h6M1170 795.5h4M1176 795.5h2M1179 795.5h17M1202 795.5h7M1210 795.5h4M1220 795.5h8M1230 795.5h4M1251 795.5h3M1287 795.5h2M1314 795.5h3M1336 795.5h4M1347 795.5h3M1395 795.5h2M1062 796.5h82M1151 796.5h5M1159 796.5h11M1171 796.5h12M1189 796.5h7M1201 796.5h3M1205 796.5h4M1210 796.5h4M1220 796.5h8M1231 796.5h2M1237 796.5h5M1267 796.5h4M1286 796.5h4M1314 796.5h3M1337 796.5h2M1347 796.5h3M1389 796.5h1M1062 797.5h70M1133 797.5h14M1150 797.5h6M1158 797.5h12M1172 797.5h12M1186 797.5h19M1206 797.5h2M1210 797.5h3M1214 797.5h3M1220 797.5h8M1236 797.5h6M1267 797.5h4M1286 797.5h4M1347 797.5h3M1388 797.5h4M1062 798.5h76M1139 798.5h8M1150 798.5h20M1172 798.5h11M1186 798.5h14M1201 798.5h4M1213 798.5h4M1236 798.5h5M1268 798.5h2M1287 798.5h2M1301 798.5h2M1348 798.5h1M1388 798.5h4M1062 799.5h74M1139 799.5h9M1150 799.5h20M1173 799.5h2M1176 799.5h3M1181 799.5h3M1186 799.5h3M1190 799.5h6M1197 799.5h3M1202 799.5h3M1211 799.5h6M1237 799.5h2M1300 799.5h4M1351 799.5h3M1389 799.5h2M1062 800.5h75M1138 800.5h16M1155 800.5h14M1180 800.5h5M1186 800.5h8M1198 800.5h3M1211 800.5h3M1300 800.5h4M1350 800.5h4M1062 801.5h92M1155 801.5h4M1162 801.5h7M1173 801.5h3M1179 801.5h7M1187 801.5h5M1198 801.5h6M1206 801.5h2M1211 801.5h3M1225 801.5h2M1283 801.5h1M1301 801.5h1M1337 801.5h2M1351 801.5h3M1062 802.5h91M1156 802.5h3M1160 802.5h2M1163 802.5h6M1173 802.5h4M1179 802.5h12M1194 802.5h2M1198 802.5h11M1220 802.5h1M1224 802.5h7M1240 802.5h3M1282 802.5h3M1324 802.5h3M1336 802.5h4M1063 803.5h90M1156 803.5h6M1163 803.5h14M1180 803.5h2M1183 803.5h2M1186 803.5h5M1193 803.5h4M1199 803.5h2M1202 803.5h8M1219 803.5h3M1224 803.5h7M1239 803.5h6M1270 803.5h5M1282 803.5h4M1324 803.5h4M1336 803.5h4M1063 804.5h91M1155 804.5h7M1165 804.5h12M1186 804.5h5M1193 804.5h4M1202 804.5h2M1206 804.5h3M1212 804.5h3M1219 804.5h3M1224 804.5h7M1240 804.5h5M1260 804.5h3M1269 804.5h6M1282 804.5h3M1293 804.5h3M1324 804.5h3M1337 804.5h2M1382 804.5h2M1062 805.5h82M1146 805.5h8M1155 805.5h7M1164 805.5h12M1180 805.5h3M1194 805.5h2M1206 805.5h4M1211 805.5h4M1217 805.5h5M1224 805.5h4M1240 805.5h5M1260 805.5h4M1270 805.5h5M1290 805.5h1M1293 805.5h3M1381 805.5h4M1062 806.5h83M1146 806.5h7M1155 806.5h6M1164 806.5h4M1169 806.5h4M1179 806.5h4M1193 806.5h5M1199 806.5h3M1206 806.5h9M1216 806.5h6M1223 806.5h5M1242 806.5h3M1248 806.5h3M1260 806.5h3M1271 806.5h1M1286 806.5h6M1293 806.5h3M1297 806.5h2M1381 806.5h4M1388 806.5h3M1062 807.5h98M1162 807.5h6M1169 807.5h6M1180 807.5h3M1189 807.5h3M1193 807.5h10M1207 807.5h6M1215 807.5h13M1237 807.5h2M1241 807.5h4M1248 807.5h4M1260 807.5h4M1286 807.5h7M1294 807.5h1M1296 807.5h4M1387 807.5h7M1062 808.5h106M1171 808.5h8M1189 808.5h3M1193 808.5h10M1204 808.5h2M1209 808.5h4M1214 808.5h12M1236 808.5h4M1241 808.5h4M1248 808.5h4M1260 808.5h4M1286 808.5h6M1296 808.5h4M1388 808.5h6M1062 809.5h105M1171 809.5h8M1181 809.5h2M1189 809.5h18M1210 809.5h2M1213 809.5h5M1219 809.5h6M1236 809.5h4M1242 809.5h2M1260 809.5h3M1287 809.5h2M1297 809.5h2M1390 809.5h4M1062 810.5h105M1171 810.5h8M1180 810.5h3M1192 810.5h5M1198 810.5h11M1214 810.5h4M1220 810.5h2M1224 810.5h2M1237 810.5h2M1392 810.5h1M1062 811.5h91M1154 811.5h5M1161 811.5h9M1171 811.5h3M1177 811.5h1M1180 811.5h4M1192 811.5h3M1200 811.5h11M1214 811.5h4M1223 811.5h4M1062 812.5h75M1139 812.5h15M1161 812.5h4M1167 812.5h3M1171 812.5h4M1179 812.5h6M1199 812.5h4M1204 812.5h7M1215 812.5h3M1222 812.5h5M1062 813.5h75M1140 813.5h13M1157 813.5h8M1166 813.5h8M1178 813.5h7M1186 813.5h3M1200 813.5h3M1206 813.5h5M1222 813.5h4M1062 814.5h80M1144 814.5h7M1157 814.5h6M1164 814.5h8M1179 814.5h5M1186 814.5h3M1197 814.5h6M1223 814.5h4M1380 814.5h2M1062 815.5h92M1157 815.5h6M1164 815.5h8M1178 815.5h3M1183 815.5h6M1196 815.5h8M1210 815.5h3M1223 815.5h4M1228 815.5h2M1379 815.5h4M1062 816.5h93M1156 816.5h6M1163 816.5h4M1169 816.5h3M1178 816.5h8M1197 816.5h8M1210 816.5h3M1220 816.5h1M1224 816.5h6M1248 816.5h3M1266 816.5h1M1379 816.5h4M1062 817.5h77M1140 817.5h6M1147 817.5h7M1157 817.5h3M1163 817.5h4M1169 817.5h4M1178 817.5h3M1183 817.5h3M1189 817.5h2M1198 817.5h1M1201 817.5h4M1210 817.5h3M1219 817.5h3M1223 817.5h7M1248 817.5h3M1265 817.5h3M1062 818.5h77M1140 818.5h14M1156 818.5h10M1167 818.5h7M1178 818.5h4M1183 818.5h3M1188 818.5h4M1201 818.5h4M1211 818.5h1M1219 818.5h3M1223 818.5h7M1232 818.5h1M1237 818.5h3M1248 818.5h3M1265 818.5h3M1285 818.5h3M1374 818.5h1M1062 819.5h92M1156 819.5h30M1188 819.5h4M1201 819.5h4M1219 819.5h3M1224 819.5h2M1231 819.5h3M1237 819.5h4M1265 819.5h3M1284 819.5h4M1373 819.5h3M1487 819.5h3M1062 820.5h91M1157 820.5h9M1167 820.5h15M1183 820.5h8M1201 820.5h3M1208 820.5h7M1223 820.5h3M1231 820.5h3M1237 820.5h3M1268 820.5h1M1285 820.5h3M1295 820.5h2M1373 820.5h3M1487 820.5h3M1062 821.5h91M1157 821.5h9M1168 821.5h1M1170 821.5h3M1174 821.5h4M1179 821.5h2M1184 821.5h7M1202 821.5h1M1206 821.5h9M1223 821.5h3M1231 821.5h3M1238 821.5h1M1267 821.5h3M1294 821.5h4M1350 821.5h3M1373 821.5h3M1487 821.5h3M1062 822.5h92M1157 822.5h12M1170 822.5h3M1174 822.5h7M1185 822.5h6M1205 822.5h10M1223 822.5h3M1267 822.5h3M1294 822.5h4M1303 822.5h3M1349 822.5h4M1062 823.5h92M1157 823.5h6M1166 823.5h6M1175 823.5h7M1186 823.5h5M1202 823.5h9M1232 823.5h3M1267 823.5h3M1275 823.5h2M1295 823.5h2M1302 823.5h4M1350 823.5h3M1062 824.5h92M1159 824.5h1M1166 824.5h6M1176 824.5h5M1185 824.5h7M1202 824.5h3M1206 824.5h5M1232 824.5h3M1274 824.5h4M1283 824.5h1M1285 824.5h3M1290 824.5h3M1303 824.5h3M1351 824.5h1M1062 825.5h92M1156 825.5h4M1163 825.5h1M1166 825.5h6M1176 825.5h4M1186 825.5h6M1202 825.5h3M1208 825.5h3M1232 825.5h4M1274 825.5h4M1282 825.5h6M1290 825.5h3M1304 825.5h1M1062 826.5h75M1139 826.5h2M1143 826.5h11M1155 826.5h5M1162 826.5h3M1166 826.5h2M1169 826.5h3M1176 826.5h4M1187 826.5h5M1199 826.5h5M1208 826.5h4M1216 826.5h3M1233 826.5h4M1275 826.5h2M1282 826.5h6M1290 826.5h3M1062 827.5h65M1129 827.5h10M1142 827.5h8M1151 827.5h2M1154 827.5h7M1162 827.5h10M1176 827.5h4M1187 827.5h5M1199 827.5h3M1206 827.5h6M1216 827.5h3M1233 827.5h4M1282 827.5h3M1286 827.5h2M1356 827.5h3M1062 828.5h78M1142 828.5h7M1155 828.5h5M1162 828.5h10M1179 828.5h2M1182 828.5h3M1186 828.5h6M1196 828.5h6M1206 828.5h3M1216 828.5h3M1234 828.5h2M1237 828.5h3M1355 828.5h4M1386 828.5h1M1062 829.5h79M1142 829.5h7M1154 829.5h6M1163 829.5h12M1178 829.5h13M1195 829.5h7M1206 829.5h3M1217 829.5h1M1227 829.5h2M1237 829.5h3M1297 829.5h3M1356 829.5h3M1385 829.5h3M1062 830.5h78M1143 830.5h7M1154 830.5h17M1172 830.5h4M1178 830.5h11M1194 830.5h6M1201 830.5h2M1207 830.5h1M1216 830.5h1M1226 830.5h4M1237 830.5h3M1297 830.5h4M1385 830.5h3M1062 831.5h89M1154 831.5h11M1167 831.5h10M1178 831.5h10M1195 831.5h3M1200 831.5h4M1215 831.5h3M1226 831.5h4M1257 831.5h3M1297 831.5h3M1310 831.5h3M1385 831.5h3M1062 832.5h90M1154 832.5h12M1167 832.5h5M1173 832.5h8M1183 832.5h6M1195 832.5h2M1200 832.5h4M1215 832.5h6M1227 832.5h2M1257 832.5h4M1298 832.5h1M1309 832.5h4M1063 833.5h59M1123 833.5h25M1149 833.5h3M1155 833.5h2M1159 833.5h19M1182 833.5h6M1194 833.5h4M1199 833.5h4M1215 833.5h6M1255 833.5h5M1309 833.5h4M1062 834.5h81M1144 834.5h10M1158 834.5h20M1181 834.5h4M1194 834.5h8M1203 834.5h1M1218 834.5h3M1230 834.5h2M1255 834.5h4M1285 834.5h3M1309 834.5h4M1063 835.5h79M1143 835.5h11M1158 835.5h8M1167 835.5h5M1173 835.5h14M1195 835.5h2M1198 835.5h7M1219 835.5h1M1229 835.5h4M1255 835.5h3M1285 835.5h4M1310 835.5h1M1062 836.5h79M1142 836.5h14M1158 836.5h8M1169 836.5h5M1175 836.5h7M1183 836.5h5M1199 836.5h2M1202 836.5h4M1209 836.5h3M1229 836.5h4M1234 836.5h2M1255 836.5h2M1285 836.5h3M1062 837.5h78M1141 837.5h5M1147 837.5h11M1162 837.5h4M1167 837.5h11M1179 837.5h3M1183 837.5h6M1195 837.5h2M1202 837.5h3M1209 837.5h4M1229 837.5h3M1234 837.5h3M1062 838.5h69M1132 838.5h14M1147 838.5h12M1163 838.5h3M1167 838.5h3M1171 838.5h3M1176 838.5h1M1182 838.5h7M1194 838.5h5M1209 838.5h4M1222 838.5h3M1228 838.5h3M1234 838.5h3M1246 838.5h1M1062 839.5h69M1132 839.5h30M1163 839.5h8M1172 839.5h1M1175 839.5h3M1182 839.5h7M1194 839.5h6M1210 839.5h3M1222 839.5h3M1228 839.5h3M1234 839.5h3M1245 839.5h3M1447 839.5h2M1062 840.5h79M1142 840.5h6M1150 840.5h1M1156 840.5h16M1175 840.5h3M1183 840.5h6M1195 840.5h5M1201 840.5h2M1210 840.5h3M1222 840.5h3M1229 840.5h2M1244 840.5h4M1260 840.5h2M1446 840.5h4M1062 841.5h86M1152 841.5h4M1157 841.5h14M1175 841.5h3M1183 841.5h6M1192 841.5h3M1197 841.5h7M1211 841.5h1M1242 841.5h6M1259 841.5h4M1275 841.5h3M1446 841.5h4M1062 842.5h62M1125 842.5h15M1141 842.5h3M1145 842.5h4M1152 842.5h5M1160 842.5h6M1168 842.5h3M1176 842.5h1M1183 842.5h12M1200 842.5h4M1242 842.5h3M1259 842.5h4M1275 842.5h4M1062 843.5h76M1139 843.5h6M1146 843.5h3M1151 843.5h6M1162 843.5h5M1184 843.5h2M1187 843.5h8M1242 843.5h3M1260 843.5h2M1275 843.5h3M1062 844.5h87M1152 844.5h5M1162 844.5h4M1171 844.5h1M1183 844.5h3M1187 844.5h8M1246 844.5h2M1276 844.5h2M1063 845.5h86M1153 845.5h3M1170 845.5h3M1183 845.5h7M1191 845.5h2M1219 845.5h3M1230 845.5h3M1240 845.5h2M1245 845.5h4M1062 846.5h86M1153 846.5h4M1163 846.5h3M1169 846.5h4M1181 846.5h5M1219 846.5h4M1230 846.5h4M1239 846.5h4M1245 846.5h4M1266 846.5h4M1062 847.5h86M1153 847.5h4M1159 847.5h3M1163 847.5h3M1168 847.5h5M1175 847.5h3M1180 847.5h5M1219 847.5h5M1230 847.5h3M1239 847.5h4M1246 847.5h2M1266 847.5h4M1062 848.5h81M1145 848.5h1M1151 848.5h7M1159 848.5h3M1163 848.5h3M1167 848.5h5M1174 848.5h5M1180 848.5h4M1194 848.5h2M1219 848.5h5M1240 848.5h2M1266 848.5h4M1062 849.5h65M1128 849.5h14M1149 849.5h16M1167 849.5h5M1174 849.5h4M1182 849.5h3M1193 849.5h4M1221 849.5h2M1244 849.5h2M1062 850.5h65M1128 850.5h16M1147 850.5h12M1160 850.5h1M1162 850.5h10M1175 850.5h3M1182 850.5h4M1193 850.5h4M1203 850.5h2M1213 850.5h2M1243 850.5h4M1305 850.5h3M1062 851.5h84M1147 851.5h8M1156 851.5h4M1162 851.5h16M1181 851.5h4M1194 851.5h2M1202 851.5h4M1212 851.5h4M1243 851.5h4M1305 851.5h3M1310 851.5h3M1063 852.5h97M1165 852.5h3M1172 852.5h6M1180 852.5h4M1189 852.5h3M1202 852.5h4M1212 852.5h4M1244 852.5h2M1305 852.5h3M1309 852.5h4M1062 853.5h53M1116 853.5h16M1135 853.5h19M1156 853.5h5M1172 853.5h6M1181 853.5h3M1189 853.5h5M1213 853.5h2M1237 853.5h2M1310 853.5h3M1062 854.5h53M1116 854.5h13M1131 854.5h2M1134 854.5h9M1144 854.5h2M1147 854.5h6M1156 854.5h6M1163 854.5h2M1189 854.5h5M1200 854.5h4M1237 854.5h3M1326 854.5h3M1062 855.5h67M1130 855.5h14M1147 855.5h4M1156 855.5h10M1186 855.5h3M1190 855.5h4M1199 855.5h5M1237 855.5h3M1241 855.5h3M1326 855.5h3M1062 856.5h85M1148 856.5h3M1156 856.5h3M1162 856.5h4M1186 856.5h3M1192 856.5h2M1199 856.5h5M1237 856.5h3M1241 856.5h4M1326 856.5h3M1062 857.5h89M1155 857.5h7M1163 857.5h2M1186 857.5h3M1199 857.5h4M1214 857.5h3M1241 857.5h3M1267 857.5h1M1062 858.5h76M1140 858.5h8M1152 858.5h2M1155 858.5h7M1164 858.5h2M1185 858.5h4M1209 858.5h2M1214 858.5h4M1266 858.5h3M1062 859.5h45M1108 859.5h30M1140 859.5h8M1151 859.5h4M1156 859.5h2M1159 859.5h3M1163 859.5h4M1186 859.5h3M1193 859.5h3M1199 859.5h2M1208 859.5h4M1214 859.5h3M1266 859.5h3M1062 860.5h44M1108 860.5h30M1140 860.5h6M1151 860.5h4M1163 860.5h4M1171 860.5h3M1193 860.5h3M1198 860.5h4M1208 860.5h4M1266 860.5h3M1062 861.5h69M1132 861.5h7M1140 861.5h9M1151 861.5h4M1163 861.5h3M1171 861.5h4M1193 861.5h3M1198 861.5h4M1209 861.5h2M1216 861.5h3M1297 861.5h1M1062 862.5h83M1146 862.5h3M1152 862.5h3M1163 862.5h3M1171 862.5h3M1178 862.5h3M1199 862.5h2M1215 862.5h4M1296 862.5h3M1062 863.5h76M1139 863.5h5M1146 863.5h3M1153 863.5h3M1163 863.5h3M1178 863.5h3M1216 863.5h3M1296 863.5h3M1062 864.5h75M1138 864.5h4M1147 864.5h3M1153 864.5h4M1163 864.5h2M1169 864.5h3M1175 864.5h2M1178 864.5h3M1296 864.5h3M1476 864.5h3M1062 865.5h61M1124 865.5h4M1129 865.5h7M1138 865.5h5M1147 865.5h5M1153 865.5h8M1162 865.5h4M1168 865.5h4M1174 865.5h4M1196 865.5h3M1202 865.5h3M1352 865.5h2M1475 865.5h4M1062 866.5h60M1123 866.5h8M1137 866.5h7M1147 866.5h5M1154 866.5h2M1157 866.5h9M1169 866.5h3M1174 866.5h4M1181 866.5h3M1196 866.5h3M1201 866.5h4M1351 866.5h4M1476 866.5h3M1062 867.5h55M1119 867.5h14M1135 867.5h8M1144 867.5h2M1147 867.5h5M1153 867.5h2M1156 867.5h9M1175 867.5h4M1180 867.5h4M1195 867.5h4M1202 867.5h3M1351 867.5h4M1062 868.5h61M1124 868.5h10M1135 868.5h4M1141 868.5h6M1148 868.5h4M1153 868.5h9M1174 868.5h10M1188 868.5h3M1196 868.5h3M1203 868.5h1M1352 868.5h2M1062 869.5h60M1124 869.5h9M1134 869.5h5M1143 869.5h4M1149 869.5h2M1152 869.5h7M1160 869.5h3M1168 869.5h2M1174 869.5h6M1188 869.5h4M1335 869.5h2M1063 870.5h58M1124 870.5h16M1144 870.5h2M1152 870.5h6M1160 870.5h3M1167 870.5h4M1174 870.5h6M1188 870.5h4M1334 870.5h4M1063 871.5h53M1118 871.5h1M1121 871.5h3M1126 871.5h14M1144 871.5h3M1152 871.5h4M1160 871.5h4M1167 871.5h4M1187 871.5h5M1194 871.5h3M1266 871.5h3M1334 871.5h4M1062 872.5h54M1120 872.5h4M1125 872.5h9M1135 872.5h5M1144 872.5h3M1148 872.5h3M1153 872.5h2M1160 872.5h4M1168 872.5h2M1188 872.5h3M1193 872.5h4M1202 872.5h1M1266 872.5h4M1062 873.5h56M1121 873.5h9M1131 873.5h2M1135 873.5h4M1141 873.5h1M1144 873.5h3M1148 873.5h4M1160 873.5h4M1194 873.5h3M1201 873.5h3M1237 873.5h2M1266 873.5h4M1062 874.5h57M1120 874.5h10M1140 874.5h3M1144 874.5h7M1159 874.5h4M1201 874.5h3M1236 874.5h4M1062 875.5h68M1132 875.5h2M1137 875.5h2M1140 875.5h3M1144 875.5h4M1149 875.5h1M1159 875.5h4M1169 875.5h2M1201 875.5h3M1236 875.5h4M1062 876.5h43M1107 876.5h16M1124 876.5h6M1131 876.5h12M1145 876.5h2M1156 876.5h1M1159 876.5h3M1168 876.5h4M1203 876.5h1M1228 876.5h4M1237 876.5h2M1240 876.5h3M1062 877.5h43M1107 877.5h9M1117 877.5h8M1127 877.5h3M1131 877.5h12M1145 877.5h1M1151 877.5h2M1155 877.5h6M1168 877.5h7M1191 877.5h4M1202 877.5h3M1228 877.5h4M1239 877.5h4M1062 878.5h63M1128 878.5h3M1132 878.5h11M1144 878.5h3M1150 878.5h13M1169 878.5h2M1172 878.5h4M1191 878.5h4M1202 878.5h3M1229 878.5h2M1240 878.5h3M1273 878.5h1M1062 879.5h70M1135 879.5h8M1144 879.5h3M1150 879.5h4M1155 879.5h9M1172 879.5h4M1191 879.5h4M1202 879.5h3M1272 879.5h3M1062 880.5h69M1134 880.5h3M1138 880.5h5M1144 880.5h3M1151 880.5h2M1155 880.5h3M1160 880.5h4M1171 880.5h1M1173 880.5h1M1181 880.5h3M1272 880.5h3M1062 881.5h51M1114 881.5h15M1134 881.5h10M1151 881.5h7M1161 881.5h2M1170 881.5h3M1181 881.5h4M1272 881.5h3M1062 882.5h66M1134 882.5h3M1138 882.5h6M1151 882.5h8M1170 882.5h3M1181 882.5h3M1062 883.5h60M1123 883.5h2M1126 883.5h3M1131 883.5h2M1134 883.5h3M1138 883.5h6M1147 883.5h3M1152 883.5h6M1170 883.5h3M1182 883.5h2M1191 883.5h1M1062 884.5h60M1126 884.5h18M1147 884.5h3M1155 884.5h2M1190 884.5h3M1062 885.5h56M1120 885.5h1M1126 885.5h15M1147 885.5h3M1190 885.5h3M1062 886.5h57M1120 886.5h3M1126 886.5h9M1137 886.5h4M1142 886.5h3M1190 886.5h3M1062 887.5h73M1139 887.5h1M1142 887.5h4M1213 887.5h1M1062 888.5h56M1119 888.5h10M1130 888.5h3M1142 888.5h4M1181 888.5h3M1212 888.5h3M1062 889.5h56M1121 889.5h9M1143 889.5h3M1155 889.5h3M1171 889.5h3M1179 889.5h1M1181 889.5h4M1211 889.5h4M1062 890.5h51M1115 890.5h3M1120 890.5h14M1143 890.5h2M1154 890.5h4M1170 890.5h5M1178 890.5h6M1212 890.5h3M1062 891.5h51M1115 891.5h2M1119 891.5h15M1142 891.5h4M1155 891.5h3M1170 891.5h5M1178 891.5h3M1062 892.5h54M1117 892.5h10M1130 892.5h3M1142 892.5h4M1170 892.5h5M1178 892.5h3M1062 893.5h54M1117 893.5h10M1129 893.5h4M1135 893.5h4M1143 893.5h2M1062 894.5h45M1108 894.5h15M1124 894.5h2M1127 894.5h6M1135 894.5h4M1145 894.5h1M1170 894.5h3M1062 895.5h41M1104 895.5h6M1112 895.5h5M1118 895.5h15M1135 895.5h3M1141 895.5h6M1158 895.5h3M1170 895.5h3M1198 895.5h3M1062 896.5h64M1127 896.5h6M1141 896.5h6M1158 896.5h3M1170 896.5h3M1198 896.5h4M1062 897.5h43M1106 897.5h20M1130 897.5h2M1141 897.5h6M1158 897.5h3M1198 897.5h3M1062 898.5h43M1106 898.5h16M1129 898.5h1M1062 899.5h52M1117 899.5h5M1128 899.5h3M1062 900.5h54M1126 900.5h5M1134 900.5h3M1062 901.5h54M1121 901.5h4M1126 901.5h5M1134 901.5h3M1062 902.5h55M1120 902.5h5M1126 902.5h3M1134 902.5h3M1157 902.5h3M1062 903.5h56M1120 903.5h5M1127 903.5h2M1157 903.5h3M1062 904.5h29M1092 904.5h21M1114 904.5h4M1121 904.5h3M1157 904.5h3M1062 905.5h28M1092 905.5h18M1111 905.5h1M1113 905.5h4M1157 905.5h2M1062 906.5h29M1092 906.5h17M1112 906.5h4M1135 906.5h3M1062 907.5h37M1100 907.5h6M1107 907.5h3M1112 907.5h4M1135 907.5h3M1141 907.5h3M1062 908.5h43M1106 908.5h4M1111 908.5h4M1135 908.5h3M1141 908.5h4M1062 909.5h42M1107 909.5h3M1111 909.5h4M1136 909.5h1M1141 909.5h3M1062 910.5h27M1090 910.5h13M1112 910.5h2M1116 910.5h3M1062 911.5h37M1100 911.5h2M1116 911.5h4M1062 912.5h38M1115 912.5h4M1062 913.5h38M1115 913.5h4M1062 914.5h28M1091 914.5h9M1114 914.5h4M1062 915.5h25M1088 915.5h1M1091 915.5h9M1114 915.5h4M1120 915.5h3M1062 916.5h22M1091 916.5h8M1112 916.5h6M1119 916.5h4M1062 917.5h23M1092 917.5h1M1095 917.5h4M1111 917.5h7M1120 917.5h3M1136 917.5h3M1062 918.5h23M1095 918.5h4M1111 918.5h4M1116 918.5h1M1135 918.5h4M1062 919.5h24M1094 919.5h4M1105 919.5h2M1112 919.5h2M1136 919.5h3M1062 920.5h25M1095 920.5h3M1104 920.5h5M1137 920.5h1M1062 921.5h18M1082 921.5h4M1102 921.5h8M1062 922.5h19M1101 922.5h9M1062 923.5h18M1088 923.5h3M1102 923.5h3M1107 923.5h2M1130 923.5h1M1062 924.5h14M1077 924.5h7M1088 924.5h3M1097 924.5h3M1129 924.5h3M1062 925.5h23M1088 925.5h3M1096 925.5h4M1128 925.5h4M1062 926.5h23M1097 926.5h3M1129 926.5h3M1062 927.5h17M1080 927.5h1M1082 927.5h2M1097 927.5h2M1062 928.5h15M1096 928.5h7M1062 929.5h13M1093 929.5h10M1104 929.5h2M1062 930.5h14M1092 930.5h7M1100 930.5h2M1103 930.5h4M1062 931.5h13M1093 931.5h3M1103 931.5h4M1062 932.5h12M1104 932.5h2M1062 933.5h11M1096 933.5h3M1062 934.5h14M1096 934.5h3M1062 935.5h14M1093 935.5h2M1096 935.5h3M1062 936.5h14M1092 936.5h7M1062 937.5h10M1074 937.5h1M1092 937.5h4M1062 938.5h10M1093 938.5h2M1097 938.5h1M1142 938.5h1M1062 939.5h10M1094 939.5h5M1141 939.5h3M1062 940.5h9M1072 940.5h2M1093 940.5h6M1141 940.5h3M1062 941.5h13M1093 941.5h6M1141 941.5h3M1062 942.5h13M1093 942.5h5M1062 943.5h9M1072 943.5h2M1094 943.5h4M1062 944.5h9M1094 944.5h4M1062 945.5h9M1062 946.5h7M1473 946.5h3M1064 947.5h3M1473 947.5h3M1473 948.5h3M1063 951.5h34M1062 952.5h36M1104 952.5h2M1107 952.5h2M1111 952.5h2M1114 952.5h2M1126 952.5h2M1138 952.5h2M1142 952.5h2M1146 952.5h2M1184 952.5h2M1189 952.5h2M1194 952.5h2M1199 952.5h2M1204 952.5h2M1296 952.5h2M1062 953.5h36M1103 953.5h14M1125 953.5h4M1137 953.5h12M1183 953.5h4M1188 953.5h4M1193 953.5h4M1198 953.5h4M1203 953.5h4M1295 953.5h4M1062 954.5h36M1103 954.5h14M1125 954.5h4M1137 954.5h12M1183 954.5h4M1188 954.5h4M1193 954.5h4M1198 954.5h4M1203 954.5h4M1295 954.5h4M1062 955.5h36M1104 955.5h2M1107 955.5h2M1111 955.5h2M1114 955.5h2M1126 955.5h2M1138 955.5h2M1142 955.5h2M1146 955.5h2M1184 955.5h2M1189 955.5h2M1194 955.5h2M1199 955.5h2M1204 955.5h2M1296 955.5h2" stroke="#000" stroke-width="1"/>
<path d="M1110 349.5h2M1180 349.5h2M1110 350.5h2M1180 350.5h2M1106 417.5h3M1107 418.5h2M1242 423.5h2M1242 424.5h2M1242 425.5h2M1116 427.5h3M1117 428.5h2M1114 431.5h1M1113 432.5h3M1114 433.5h1M1168 434.5h1M1109 435.5h1M1167 435.5h3M1109 436.5h2M1168 436.5h2M1109 437.5h2M1115 448.5h2M1115 449.5h2M1106 469.5h2M1110 469.5h2M1114 469.5h2M1121 469.5h2M1130 469.5h2M1282 469.5h2M1106 470.5h2M1110 470.5h2M1114 470.5h2M1121 470.5h2M1130 470.5h2M1282 470.5h2M1102 473.5h2M1102 474.5h2M1249 476.5h1M1248 477.5h3M1249 478.5h1M1114 482.5h1M1113 483.5h3M1114 484.5h2M1225 484.5h1M1224 485.5h3M1224 486.5h2M1111 494.5h1M1110 495.5h3M1110 496.5h2M1109 497.5h3M1110 498.5h1M1141 498.5h1M1140 499.5h3M1141 500.5h1M1099 501.5h3M1099 502.5h3M1098 507.5h1M1097 508.5h3M1097 509.5h3M1209 523.5h2M1208 524.5h3M1097 525.5h3M1209 525.5h1M1097 526.5h3M1159 526.5h2M1121 527.5h2M1158 527.5h3M1121 528.5h2M1159 528.5h1M1264 528.5h3M1210 529.5h2M1264 529.5h3M1209 530.5h3M1160 531.5h2M1210 531.5h1M1160 532.5h3M1161 533.5h1M1103 534.5h3M1119 534.5h1M1101 535.5h1M1103 535.5h2M1119 535.5h2M1100 536.5h3M1114 536.5h1M1119 536.5h2M1136 536.5h2M1100 537.5h2M1113 537.5h3M1136 537.5h2M1113 538.5h2M1139 539.5h2M1138 540.5h3M1183 540.5h2M1139 541.5h2M1183 541.5h2M1183 542.5h2M1112 544.5h3M1105 545.5h3M1112 545.5h3M1155 545.5h3M1105 546.5h4M1148 546.5h2M1155 546.5h3M1105 547.5h3M1129 547.5h2M1148 547.5h2M1156 547.5h1M1104 548.5h2M1129 548.5h2M1104 549.5h2M1129 549.5h2M1100 550.5h2M1100 551.5h2M1097 553.5h2M1097 554.5h2M1103 555.5h2M1103 556.5h2M1099 558.5h2M1099 559.5h2M1123 560.5h2M1246 560.5h2M1123 561.5h2M1246 561.5h2M1240 562.5h2M1246 562.5h2M1100 563.5h3M1240 563.5h2M1100 564.5h2M1117 564.5h2M1117 565.5h2M1114 566.5h2M1113 567.5h3M1114 568.5h1M1121 568.5h3M1143 568.5h2M1099 569.5h2M1121 569.5h3M1143 569.5h2M1099 570.5h2M1100 571.5h1M1102 571.5h2M1112 571.5h1M1162 571.5h2M1102 572.5h3M1111 572.5h3M1162 572.5h2M1102 573.5h2M1111 573.5h2M1126 574.5h2M1126 575.5h3M1135 575.5h2M1113 576.5h3M1127 576.5h1M1135 576.5h3M1157 576.5h2M1101 577.5h2M1113 577.5h3M1136 577.5h1M1157 577.5h2M1100 578.5h3M1113 578.5h3M1121 578.5h2M1124 578.5h3M1134 578.5h1M1101 579.5h2M1114 579.5h2M1121 579.5h2M1125 579.5h3M1133 579.5h3M1126 580.5h2M1133 580.5h3M1156 581.5h3M1118 582.5h2M1126 582.5h1M1156 582.5h3M1118 583.5h2M1125 583.5h3M1103 584.5h1M1125 584.5h2M1103 585.5h2M1106 585.5h2M1103 586.5h5M1110 586.5h2M1182 586.5h3M1106 587.5h2M1110 587.5h2M1183 587.5h2M1106 588.5h3M1120 588.5h3M1168 588.5h2M1099 589.5h2M1102 589.5h2M1105 589.5h5M1111 589.5h2M1117 589.5h2M1120 589.5h3M1129 589.5h2M1139 589.5h2M1149 589.5h2M1159 589.5h2M1168 589.5h3M1179 589.5h2M1197 589.5h2M1099 590.5h2M1102 590.5h5M1108 590.5h2M1111 590.5h2M1117 590.5h2M1121 590.5h2M1129 590.5h2M1139 590.5h2M1149 590.5h2M1159 590.5h2M1168 590.5h3M1179 590.5h2M1197 590.5h2M1099 591.5h2M1102 591.5h5M1108 591.5h2M1111 591.5h2M1117 591.5h2M1121 591.5h2M1129 591.5h2M1139 591.5h2M1149 591.5h2M1159 591.5h2M1169 591.5h2M1179 591.5h2M1197 591.5h2M1104 592.5h1M1132 592.5h2M1164 592.5h3M1129 593.5h2M1132 593.5h2M1164 593.5h3M1129 594.5h2M1132 594.5h2M1196 594.5h1M1129 595.5h3M1195 595.5h2M1098 596.5h2M1129 596.5h2M1138 596.5h2M1147 596.5h2M1195 596.5h2M1225 596.5h1M1098 597.5h3M1103 597.5h1M1116 597.5h2M1138 597.5h2M1147 597.5h2M1224 597.5h3M1099 598.5h1M1101 598.5h6M1116 598.5h3M1224 598.5h2M1101 599.5h3M1105 599.5h3M1117 599.5h1M1105 600.5h2M1130 600.5h3M1130 601.5h3M1163 601.5h3M1163 602.5h3M1235 602.5h1M1250 602.5h2M1151 603.5h1M1234 603.5h3M1250 603.5h2M1151 604.5h2M1234 604.5h2M1250 604.5h2M1103 605.5h1M1113 605.5h3M1151 605.5h2M1101 606.5h4M1113 606.5h3M1101 607.5h3M1150 607.5h2M1178 607.5h1M1101 608.5h2M1150 608.5h3M1177 608.5h3M1178 609.5h1M1209 610.5h3M1101 611.5h2M1112 611.5h2M1209 611.5h3M1217 611.5h1M1098 612.5h5M1112 612.5h2M1115 612.5h2M1216 612.5h3M1259 612.5h2M1097 613.5h3M1101 613.5h1M1107 613.5h3M1111 613.5h3M1115 613.5h2M1142 613.5h4M1217 613.5h2M1259 613.5h2M1096 614.5h3M1106 614.5h4M1111 614.5h6M1142 614.5h5M1260 614.5h1M1097 615.5h2M1106 615.5h2M1113 615.5h4M1124 615.5h2M1145 615.5h1M1123 616.5h3M1222 616.5h1M1106 617.5h3M1122 617.5h3M1127 617.5h2M1137 617.5h2M1221 617.5h3M1105 618.5h5M1111 618.5h4M1122 618.5h2M1127 618.5h5M1137 618.5h3M1155 618.5h3M1221 618.5h2M1107 619.5h2M1111 619.5h7M1121 619.5h2M1128 619.5h4M1138 619.5h1M1156 619.5h2M1161 619.5h2M1106 620.5h3M1114 620.5h4M1120 620.5h3M1161 620.5h2M1164 620.5h2M1106 621.5h3M1120 621.5h2M1138 621.5h2M1164 621.5h2M1169 621.5h1M1106 622.5h2M1118 622.5h2M1133 622.5h3M1137 622.5h3M1164 622.5h2M1168 622.5h3M1098 623.5h3M1118 623.5h2M1133 623.5h3M1138 623.5h2M1169 623.5h2M1097 624.5h4M1118 624.5h2M1144 624.5h2M1182 624.5h3M1098 625.5h1M1105 625.5h3M1111 625.5h2M1115 625.5h2M1144 625.5h3M1182 625.5h3M1101 626.5h2M1105 626.5h5M1111 626.5h2M1115 626.5h2M1124 626.5h3M1145 626.5h1M1101 627.5h2M1107 627.5h3M1118 627.5h2M1124 627.5h2M1098 628.5h2M1117 628.5h3M1098 629.5h2M1110 629.5h2M1118 629.5h2M1127 629.5h1M1098 630.5h3M1110 630.5h5M1123 630.5h6M1152 630.5h1M1167 630.5h2M1099 631.5h2M1106 631.5h1M1110 631.5h5M1123 631.5h3M1127 631.5h5M1143 631.5h2M1151 631.5h3M1167 631.5h2M1100 632.5h2M1105 632.5h3M1120 632.5h2M1128 632.5h5M1142 632.5h3M1152 632.5h2M1215 632.5h1M1100 633.5h2M1103 633.5h1M1106 633.5h2M1120 633.5h2M1127 633.5h3M1131 633.5h2M1143 633.5h1M1160 633.5h2M1214 633.5h2M1102 634.5h3M1109 634.5h2M1113 634.5h2M1116 634.5h3M1120 634.5h2M1127 634.5h2M1131 634.5h2M1160 634.5h2M1184 634.5h1M1214 634.5h2M1100 635.5h5M1106 635.5h1M1109 635.5h10M1128 635.5h1M1183 635.5h3M1191 635.5h2M1211 635.5h1M1098 636.5h1M1100 636.5h3M1105 636.5h3M1109 636.5h2M1112 636.5h5M1129 636.5h3M1184 636.5h3M1190 636.5h3M1211 636.5h2M1097 637.5h7M1105 637.5h2M1109 637.5h2M1112 637.5h2M1129 637.5h3M1161 637.5h2M1185 637.5h2M1191 637.5h2M1211 637.5h2M1098 638.5h3M1102 638.5h2M1109 638.5h2M1112 638.5h2M1125 638.5h2M1160 638.5h3M1172 638.5h2M1114 639.5h2M1122 639.5h2M1125 639.5h3M1160 639.5h2M1172 639.5h2M1221 639.5h2M1101 640.5h2M1113 640.5h3M1122 640.5h3M1126 640.5h1M1138 640.5h2M1221 640.5h2M1099 641.5h5M1108 641.5h3M1113 641.5h3M1137 641.5h4M1182 641.5h2M1193 641.5h2M1268 641.5h3M1099 642.5h4M1108 642.5h3M1114 642.5h1M1137 642.5h2M1182 642.5h2M1193 642.5h2M1268 642.5h3M1098 643.5h5M1109 643.5h1M1122 643.5h2M1132 643.5h3M1167 643.5h2M1175 643.5h2M1193 643.5h2M1097 644.5h7M1112 644.5h2M1118 644.5h3M1122 644.5h2M1132 644.5h3M1150 644.5h1M1167 644.5h2M1174 644.5h3M1097 645.5h2M1100 645.5h3M1109 645.5h5M1118 645.5h4M1135 645.5h3M1149 645.5h3M1175 645.5h1M1100 646.5h4M1109 646.5h5M1119 646.5h3M1133 646.5h1M1135 646.5h3M1149 646.5h2M1350 646.5h1M1101 647.5h4M1109 647.5h4M1116 647.5h2M1132 647.5h2M1349 647.5h3M1103 648.5h1M1116 648.5h3M1120 648.5h2M1132 648.5h2M1138 648.5h2M1350 648.5h2M1098 649.5h1M1103 649.5h2M1114 649.5h1M1116 649.5h3M1120 649.5h2M1130 649.5h2M1136 649.5h4M1162 649.5h1M1097 650.5h11M1109 650.5h2M1112 650.5h7M1121 650.5h2M1127 650.5h2M1130 650.5h2M1134 650.5h5M1161 650.5h3M1166 650.5h2M1097 651.5h8M1106 651.5h2M1109 651.5h2M1112 651.5h5M1121 651.5h2M1127 651.5h2M1131 651.5h2M1134 651.5h4M1139 651.5h1M1162 651.5h1M1166 651.5h3M1179 651.5h3M1101 652.5h2M1113 652.5h2M1119 652.5h2M1130 652.5h3M1135 652.5h2M1138 652.5h3M1153 652.5h3M1160 652.5h2M1166 652.5h2M1179 652.5h3M1218 652.5h2M1102 653.5h2M1113 653.5h2M1117 653.5h6M1131 653.5h1M1138 653.5h3M1153 653.5h3M1160 653.5h2M1172 653.5h2M1218 653.5h2M1102 654.5h4M1113 654.5h2M1117 654.5h3M1121 654.5h2M1172 654.5h3M1218 654.5h2M1246 654.5h2M1102 655.5h5M1111 655.5h4M1118 655.5h1M1132 655.5h2M1138 655.5h3M1150 655.5h2M1172 655.5h3M1246 655.5h2M1102 656.5h4M1111 656.5h5M1118 656.5h2M1132 656.5h2M1139 656.5h2M1150 656.5h2M1173 656.5h2M1220 656.5h3M1247 656.5h1M1250 656.5h2M1102 657.5h5M1114 657.5h1M1118 657.5h2M1132 657.5h2M1220 657.5h3M1250 657.5h2M1102 658.5h2M1105 658.5h3M1110 658.5h2M1113 658.5h1M1124 658.5h2M1151 658.5h1M1099 659.5h5M1106 659.5h1M1110 659.5h5M1122 659.5h1M1124 659.5h2M1131 659.5h2M1150 659.5h3M1099 660.5h5M1105 660.5h2M1110 660.5h4M1121 660.5h3M1131 660.5h2M1151 660.5h2M1098 661.5h1M1100 661.5h3M1105 661.5h2M1122 661.5h2M1097 662.5h7M1108 662.5h4M1121 662.5h3M1131 662.5h2M1134 662.5h2M1233 662.5h2M1240 662.5h2M1098 663.5h1M1100 663.5h4M1108 663.5h4M1113 663.5h2M1121 663.5h3M1131 663.5h5M1200 663.5h3M1227 663.5h1M1233 663.5h2M1240 663.5h2M1100 664.5h1M1113 664.5h3M1120 664.5h5M1127 664.5h2M1132 664.5h3M1150 664.5h2M1164 664.5h2M1200 664.5h3M1226 664.5h2M1110 665.5h2M1114 665.5h1M1120 665.5h4M1126 665.5h3M1150 665.5h2M1161 665.5h5M1172 665.5h2M1189 665.5h2M1218 665.5h2M1226 665.5h2M1110 666.5h2M1116 666.5h5M1122 666.5h2M1126 666.5h2M1161 666.5h5M1172 666.5h2M1189 666.5h2M1218 666.5h3M1110 667.5h2M1116 667.5h5M1126 667.5h2M1172 667.5h2M1189 667.5h2M1219 667.5h1M1116 668.5h2M1126 668.5h2" stroke="#e3231f" stroke-width="1"/>
<text transform="translate(8.4,31.2) scale(0.876,1)" font-size="40.36" fill="#222">a</text>
<polygon points="129.4,326 133,260 137,190 140.5,115.8 141.3,116 141.8,200 142.6,326" fill="#bdbdbd"/>
<polygon points="143.2,326 143.8,252 146,262 147.2,300 148.5,309 152,311 156,316 162,326" fill="#e0302a"/>
<polyline points="129.4,325.2 138.9,325.2 139.7,325 139.7,133.5 143,131.2 150,129.6 160,128.3 180,127.1 200,126.6 230,126.3 260,126.3 300,127 330,128.6 360,129.4 411.3,130.3" fill="none" stroke="#000" stroke-width="2.6" stroke-linejoin="round"/>
<line x1="123.5" y1="76.3" x2="123.5" y2="986.5" stroke="#000" stroke-width="2"/>
<line x1="110" y1="327" x2="859.5" y2="327" stroke="#000" stroke-width="2"/>
<line x1="110" y1="137" x2="123.5" y2="137" stroke="#000" stroke-width="2"/>
<line x1="110" y1="195" x2="123.5" y2="195" stroke="#000" stroke-width="2"/>
<line x1="110" y1="238.4" x2="123.5" y2="238.4" stroke="#000" stroke-width="2"/>
<line x1="110" y1="281.2" x2="123.5" y2="281.2" stroke="#000" stroke-width="2"/>
<text transform="translate(65.2,145.2) scale(0.935,1)" font-size="27.3" fill="#222">1.2</text>
<text transform="translate(65.1,192.4) scale(0.935,1)" font-size="27.3" fill="#222">0.9</text>
<text transform="translate(64.9,239.9) scale(0.935,1)" font-size="27.3" fill="#222">0.6</text>
<text transform="translate(64.9,284.6) scale(0.935,1)" font-size="27.3" fill="#222">0.3</text>
<text transform="translate(64.8,330.9) scale(0.935,1)" font-size="27.3" fill="#222">0.0</text>
<text transform="translate(51.6,330.2) rotate(-90) scale(1.011,1)" font-size="26.45" fill="#222">Frequency (%)</text>
<line x1="299.5" y1="234.3" x2="321" y2="234.3" stroke="#b4b4b4" stroke-width="4"/>
<line x1="299.5" y1="266" x2="321" y2="266" stroke="#d8332c" stroke-width="4"/>
<line x1="299.5" y1="298.4" x2="321" y2="298.4" stroke="#000" stroke-width="4"/>
<text transform="translate(331.9,242.1) scale(0.979,1)" font-size="27.33" fill="#222"><tspan font-style="italic">π</tspan> ratio &lt; 3.709</text>
<text transform="translate(331.9,274.3) scale(0.976,1)" font-size="27.47" fill="#222"><tspan font-style="italic">π</tspan> ratio &gt;= 3.709</text>
<text transform="translate(331.8,306.6) scale(0.990,1)" font-size="27.18" fill="#222">Cumulative (%)</text>
<line x1="632.6" y1="76.3" x2="632.6" y2="995.5" stroke="#000" stroke-width="2"/>
<line x1="632.6" y1="130.1" x2="643" y2="130.1" stroke="#000" stroke-width="2"/>
<text transform="translate(648.6,139.5) scale(0.935,1)" font-size="27.3" fill="#222">100</text>
<line x1="632.6" y1="183.5" x2="643" y2="183.5" stroke="#000" stroke-width="2"/>
<text transform="translate(649.2,192.8) scale(0.935,1)" font-size="27.3" fill="#222">75</text>
<line x1="632.6" y1="236.1" x2="643" y2="236.1" stroke="#000" stroke-width="2"/>
<text transform="translate(649.5,245.5) scale(0.935,1)" font-size="27.3" fill="#222">50</text>
<line x1="632.6" y1="288.8" x2="643" y2="288.8" stroke="#000" stroke-width="2"/>
<text transform="translate(649.2,298.2) scale(0.935,1)" font-size="27.3" fill="#222">25</text>
<text transform="translate(623.3,301.1) rotate(-90) scale(0.999,1)" font-size="27.33" fill="#222">Cumulative (%)</text>
<line x1="665.5" y1="327" x2="665.5" y2="336" stroke="#000" stroke-width="2"/>
<text transform="translate(653.2,363.2) scale(0.935,1)" font-size="27.3" fill="#222">25</text>
<line x1="711" y1="327" x2="711" y2="336" stroke="#000" stroke-width="2"/>
<text transform="translate(698.8,363.2) scale(0.935,1)" font-size="27.3" fill="#222">50</text>
<line x1="756.4" y1="327" x2="756.4" y2="336" stroke="#000" stroke-width="2"/>
<text transform="translate(744.1,363.1) scale(0.935,1)" font-size="27.3" fill="#222">75</text>
<line x1="802.7" y1="327" x2="802.7" y2="336" stroke="#000" stroke-width="2"/>
<text transform="translate(782.9,363.2) scale(0.935,1)" font-size="27.3" fill="#222">100</text>
<text transform="translate(669.3,392.6) scale(1.009,1)" font-size="26.89" fill="#222">Cumulative (%)</text>
<line x1="110" y1="986" x2="859.5" y2="986" stroke="#000" stroke-width="2"/>
<line x1="110" y1="353.4" x2="123.5" y2="353.4" stroke="#000" stroke-width="2"/>
<text transform="translate(63.8,363.3) scale(0.935,1)" font-size="27.3" fill="#222">1.0</text>
<line x1="110" y1="452.2" x2="123.5" y2="452.2" stroke="#000" stroke-width="2"/>
<text transform="translate(63.9,462.1) scale(0.935,1)" font-size="27.3" fill="#222">0.8</text>
<line x1="110" y1="545.9" x2="123.5" y2="545.9" stroke="#000" stroke-width="2"/>
<text transform="translate(63.9,555.8) scale(0.935,1)" font-size="27.3" fill="#222">0.6</text>
<line x1="110" y1="639.5" x2="123.5" y2="639.5" stroke="#000" stroke-width="2"/>
<text transform="translate(63.7,649.4) scale(0.935,1)" font-size="27.3" fill="#222">0.4</text>
<line x1="110" y1="733.5" x2="123.5" y2="733.5" stroke="#000" stroke-width="2"/>
<text transform="translate(64.2,743.4) scale(0.935,1)" font-size="27.3" fill="#222">0.2</text>
<line x1="110" y1="827.6" x2="123.5" y2="827.6" stroke="#000" stroke-width="2"/>
<text transform="translate(63.8,837.5) scale(0.935,1)" font-size="27.3" fill="#222">0.0</text>
<line x1="110" y1="921.6" x2="123.5" y2="921.6" stroke="#000" stroke-width="2"/>
<text transform="translate(55.8,931.5) scale(0.935,1)" font-size="27.3" fill="#222">-0.2</text>
<line x1="137.7" y1="986" x2="137.7" y2="997" stroke="#000" stroke-width="2"/>
<line x1="287.2" y1="986" x2="287.2" y2="997" stroke="#000" stroke-width="2"/>
<line x1="436" y1="986" x2="436" y2="997" stroke="#000" stroke-width="2"/>
<line x1="585" y1="986" x2="585" y2="997" stroke="#000" stroke-width="2"/>
<text transform="translate(130.6,1026.2) scale(0.935,1)" font-size="27.3" fill="#222">0</text>
<text transform="translate(271.8,1026.2) scale(0.935,1)" font-size="27.3" fill="#222">50</text>
<text transform="translate(413.8,1026.2) scale(0.935,1)" font-size="27.3" fill="#222">100</text>
<text transform="translate(561.1,1026.2) scale(0.935,1)" font-size="27.3" fill="#222">150</text>
<text transform="translate(614.3,1026.2) scale(0.935,1)" font-size="27.3" fill="#222">0</text>
<line x1="674.4" y1="986" x2="674.4" y2="997" stroke="#000" stroke-width="2"/>
<line x1="715.4" y1="986" x2="715.4" y2="997" stroke="#000" stroke-width="2"/>
<line x1="756.4" y1="986" x2="756.4" y2="997" stroke="#000" stroke-width="2"/>
<line x1="798.1" y1="986" x2="798.1" y2="997" stroke="#000" stroke-width="2"/>
<line x1="839.1" y1="986" x2="839.1" y2="997" stroke="#000" stroke-width="2"/>
<text transform="translate(652.9,1026.2) scale(0.935,1)" font-size="27.3" fill="#222">0.2</text>
<text transform="translate(693.4,1026.2) scale(0.935,1)" font-size="27.3" fill="#222">0.4</text>
<text transform="translate(738.6,1026.2) scale(0.935,1)" font-size="27.3" fill="#222">0.6</text>
<text transform="translate(781.7,1026.2) scale(0.935,1)" font-size="27.3" fill="#222">0.8</text>
<text transform="translate(819.2,1026.2) scale(0.935,1)" font-size="27.3" fill="#222">1.0</text>
<line x1="632.6" y1="986" x2="632.6" y2="997" stroke="#000" stroke-width="2"/>
<text transform="translate(285.1,1077.7) scale(1.078,1)" font-size="25.13" fill="#222"><tspan font-style="italic">π</tspan> ratio (GG/DL)</text>
<text transform="translate(674.6,1077.7) scale(1.081,1)" font-size="25.13" fill="#222">Frequency (%)</text>
<text transform="translate(51.4,726.1) rotate(-90) scale(1.002,1)" font-size="26.16" fill="#222"><tspan font-style="italic">F</tspan>st</text>
<polygon points="632.7,758 642.4,763.3 644.1,774 656.6,791.8 679.8,809.6 697.6,816.8 722.5,823.9 758.2,831 779.6,834.6 793.8,838.1 809.9,843.5 795,850.6 804.5,859.5 793.8,864.9 758.2,873.8 722.5,884.5 686.9,898.7 658.4,913 640.6,927.3 637,941.5 636,950 632.7,951" fill="#c6c6c6"/>
<line x1="633.6" y1="403" x2="633.6" y2="757" stroke="#d8332c" stroke-width="2.2"/>
<polyline points="633,899 638.8,870.2 651.3,845.3 679.8,827.5 722.5,813.2 743.9,802.5 768.9,788.3 784.9,770.5 792.8,756.2 799.2,727.7 802.4,692 803.2,640 803.4,585" fill="none" stroke="#000" stroke-width="1.6" stroke-linejoin="round"/>
<line x1="640" y1="458.6" x2="661" y2="458.6" stroke="#b4b4b4" stroke-width="4"/>
<line x1="640" y1="490" x2="661" y2="490" stroke="#d8332c" stroke-width="4"/>
<line x1="640" y1="523.5" x2="661" y2="523.5" stroke="#000" stroke-width="4"/>
<text transform="translate(671.3,467.9) scale(0.978,1)" font-size="27.47" fill="#222"><tspan font-style="italic">F</tspan>st &lt; 0.1775</text>
<text transform="translate(671.3,500.2) scale(0.980,1)" font-size="27.47" fill="#222"><tspan font-style="italic">F</tspan>st &gt;= 0.1775</text>
<text transform="translate(669.3,532.5) scale(0.988,1)" font-size="27.47" fill="#222">Cumulative (%)</text>
<text transform="translate(876.5,31.2) scale(0.965,1)" font-size="41.22" fill="#222">b</text>
<polygon points="1066.5,314.5 1067.2,300 1069.5,200 1072.5,95.2 1074.5,180 1077,270 1080,295 1085,304 1092,309 1100,311.5 1120,313.2 1147,314.5" fill="#b8b8b8"/>
<polyline points="1067,310.5 1080.5,310.5 1081.5,250 1083.5,160 1085.5,140 1088,132 1093,127 1100,124 1114.2,120.6 1139.7,118.3 1324.2,118.3" fill="none" stroke="#000" stroke-width="2.6" stroke-linejoin="round"/>
<line x1="1042.7" y1="61.7" x2="1042.7" y2="983" stroke="#000" stroke-width="2"/>
<line x1="1030" y1="314.6" x2="1830.5" y2="314.6" stroke="#000" stroke-width="2"/>
<line x1="1030" y1="77.7" x2="1042.7" y2="77.7" stroke="#000" stroke-width="2"/>
<line x1="1030" y1="125.2" x2="1042.7" y2="125.2" stroke="#000" stroke-width="2"/>
<line x1="1030" y1="172.6" x2="1042.7" y2="172.6" stroke="#000" stroke-width="2"/>
<line x1="1030" y1="219.4" x2="1042.7" y2="219.4" stroke="#000" stroke-width="2"/>
<line x1="1030" y1="267" x2="1042.7" y2="267" stroke="#000" stroke-width="2"/>
<text transform="translate(983.9,84.8) scale(0.935,1)" font-size="27.3" fill="#222">1.0</text>
<text transform="translate(984,131.6) scale(0.935,1)" font-size="27.3" fill="#222">0.8</text>
<text transform="translate(984,178.6) scale(0.935,1)" font-size="27.3" fill="#222">0.6</text>
<text transform="translate(983.8,225.9) scale(0.935,1)" font-size="27.3" fill="#222">0.4</text>
<text transform="translate(984.3,273.4) scale(0.935,1)" font-size="27.3" fill="#222">0.2</text>
<text transform="translate(983.9,320.9) scale(0.935,1)" font-size="27.3" fill="#222">0.0</text>
<text transform="translate(968.4,324.7) rotate(-90) scale(1.019,1)" font-size="26.45" fill="#222">Frequency (%)</text>
<line x1="1306" y1="227" x2="1327" y2="227" stroke="#b4b4b4" stroke-width="4"/>
<line x1="1306" y1="257.9" x2="1327" y2="257.9" stroke="#d8332c" stroke-width="4"/>
<line x1="1306" y1="289.5" x2="1327" y2="289.5" stroke="#000" stroke-width="4"/>
<text transform="translate(1337.3,236.4) scale(0.979,1)" font-size="27.47" fill="#222"><tspan font-style="italic">π</tspan> ratio &lt; 4.160</text>
<text transform="translate(1337.3,267.6) scale(0.977,1)" font-size="27.47" fill="#222"><tspan font-style="italic">π</tspan> ratio &gt;= 4.160</text>
<text transform="translate(1337.1,299.1) scale(0.985,1)" font-size="27.47" fill="#222">Cumulative (%)</text>
<line x1="1592.4" y1="59.9" x2="1592.4" y2="994.5" stroke="#000" stroke-width="2"/>
<line x1="1594.5" y1="115.9" x2="1606.6" y2="115.9" stroke="#000" stroke-width="2"/>
<text transform="translate(1611.1,125.3) scale(0.935,1)" font-size="27.3" fill="#222">100</text>
<line x1="1594.5" y1="169.4" x2="1606.6" y2="169.4" stroke="#000" stroke-width="2"/>
<text transform="translate(1611.7,178.7) scale(0.935,1)" font-size="27.3" fill="#222">75</text>
<line x1="1594.5" y1="222.8" x2="1606.6" y2="222.8" stroke="#000" stroke-width="2"/>
<text transform="translate(1612,232.2) scale(0.935,1)" font-size="27.3" fill="#222">50</text>
<line x1="1594.5" y1="276.3" x2="1606.6" y2="276.3" stroke="#000" stroke-width="2"/>
<text transform="translate(1611.7,285.7) scale(0.935,1)" font-size="27.3" fill="#222">25</text>
<text transform="translate(1576.6,283) rotate(-90) scale(0.999,1)" font-size="27.33" fill="#222">Cumulative (%)</text>
<line x1="1628.7" y1="314.6" x2="1628.7" y2="326.2" stroke="#000" stroke-width="2"/>
<text transform="translate(1614.4,355.2) scale(0.935,1)" font-size="27.3" fill="#222">25</text>
<line x1="1692.2" y1="314.6" x2="1692.2" y2="326.2" stroke="#000" stroke-width="2"/>
<text transform="translate(1678,355.2) scale(0.935,1)" font-size="27.3" fill="#222">50</text>
<line x1="1755.6" y1="314.6" x2="1755.6" y2="326.2" stroke="#000" stroke-width="2"/>
<text transform="translate(1741.3,355.1) scale(0.935,1)" font-size="27.3" fill="#222">75</text>
<line x1="1818.8" y1="314.6" x2="1818.8" y2="326.2" stroke="#000" stroke-width="2"/>
<text transform="translate(1797,355.2) scale(0.935,1)" font-size="27.3" fill="#222">100</text>
<text transform="translate(1633.8,385.4) scale(0.995,1)" font-size="27.18" fill="#222">Cumulative (%)</text>
<line x1="1029.4" y1="982.6" x2="1830" y2="982.6" stroke="#000" stroke-width="2"/>
<line x1="1029.4" y1="347.9" x2="1042.7" y2="347.9" stroke="#000" stroke-width="2"/>
<text transform="translate(982.9,357.3) scale(0.935,1)" font-size="27.3" fill="#222">1.0</text>
<line x1="1029.4" y1="444.8" x2="1042.7" y2="444.8" stroke="#000" stroke-width="2"/>
<text transform="translate(983,454.2) scale(0.935,1)" font-size="27.3" fill="#222">0.8</text>
<line x1="1029.4" y1="542.1" x2="1042.7" y2="542.1" stroke="#000" stroke-width="2"/>
<text transform="translate(983,551.5) scale(0.935,1)" font-size="27.3" fill="#222">0.6</text>
<line x1="1029.4" y1="639" x2="1042.7" y2="639" stroke="#000" stroke-width="2"/>
<text transform="translate(982.8,648.4) scale(0.935,1)" font-size="27.3" fill="#222">0.4</text>
<line x1="1029.4" y1="736" x2="1042.7" y2="736" stroke="#000" stroke-width="2"/>
<text transform="translate(983.3,745.4) scale(0.935,1)" font-size="27.3" fill="#222">0.2</text>
<line x1="1029.4" y1="832.1" x2="1042.7" y2="832.1" stroke="#000" stroke-width="2"/>
<text transform="translate(982.9,841.5) scale(0.935,1)" font-size="27.3" fill="#222">0.0</text>
<line x1="1029.4" y1="938" x2="1042.7" y2="938" stroke="#000" stroke-width="2"/>
<text transform="translate(974.9,947.4) scale(0.935,1)" font-size="27.3" fill="#222">-0.2</text>
<line x1="1063.8" y1="982.6" x2="1063.8" y2="994" stroke="#000" stroke-width="2"/>
<line x1="1219.2" y1="982.6" x2="1219.2" y2="994" stroke="#000" stroke-width="2"/>
<line x1="1376.1" y1="982.6" x2="1376.1" y2="994" stroke="#000" stroke-width="2"/>
<line x1="1532.7" y1="982.6" x2="1532.7" y2="994" stroke="#000" stroke-width="2"/>
<text transform="translate(1056.7,1025.3) scale(0.935,1)" font-size="27.3" fill="#222">0</text>
<text transform="translate(1206.4,1025.3) scale(0.935,1)" font-size="27.3" fill="#222">20</text>
<text transform="translate(1362.9,1025.3) scale(0.935,1)" font-size="27.3" fill="#222">40</text>
<text transform="translate(1517.6,1025.3) scale(0.935,1)" font-size="27.3" fill="#222">60</text>
<line x1="1592.4" y1="982.6" x2="1592.4" y2="994.3" stroke="#000" stroke-width="2"/>
<line x1="1633.7" y1="982.6" x2="1633.7" y2="994.3" stroke="#000" stroke-width="2"/>
<line x1="1674.7" y1="982.6" x2="1674.7" y2="994.3" stroke="#000" stroke-width="2"/>
<line x1="1716.4" y1="982.6" x2="1716.4" y2="994.3" stroke="#000" stroke-width="2"/>
<line x1="1758.8" y1="982.6" x2="1758.8" y2="994.3" stroke="#000" stroke-width="2"/>
<line x1="1800.5" y1="982.6" x2="1800.5" y2="994.3" stroke="#000" stroke-width="2"/>
<text transform="translate(1573.2,1025.9)" font-size="27.3" fill="#222">0.0</text>
<text transform="translate(1612.7,1025.9)" font-size="27.3" fill="#222">0.2</text>
<text transform="translate(1654,1025.9)" font-size="27.3" fill="#222">0.4</text>
<text transform="translate(1697.5,1025.9)" font-size="27.3" fill="#222">0.6</text>
<text transform="translate(1745.5,1025.9)" font-size="27.3" fill="#222">0.8</text>
<text transform="translate(1783.5,1025.9)" font-size="27.3" fill="#222">1.0</text>
<text transform="translate(1286.4,1077.4) scale(1.105,1)" font-size="24.60" fill="#222"><tspan font-style="italic">π</tspan> ratio (SH/DL)</text>
<text transform="translate(1650.3,1077.4) scale(1.110,1)" font-size="24.60" fill="#222">Frequency (%)</text>
<text transform="translate(969.7,732.7) rotate(-90) scale(1.022,1)" font-size="26.45" fill="#222"><tspan font-style="italic">F</tspan>st</text>
<polygon points="1592.4,524 1594.5,540 1595.5,590 1597,596 1601,601 1597,605 1596,640 1597,670.3 1592.4,670.3" fill="#d8332c"/>
<polygon points="1592.4,670.3 1597,672 1609,683 1601,688 1600,700 1606,712 1613.8,720 1620,735 1633,745 1660,753.7 1650,760 1649,765 1668,775 1700,788 1706.8,790.6 1726,793 1736,807 1760,820 1814.3,825.9 1765,829 1740,833 1700,841 1668,846 1640,852 1620,858 1613.8,862 1607,872 1604,880 1598,888 1596,893.2 1597,896 1592.4,897" fill="#b3b3b3"/>
<polyline points="1592.4,880 1592.6,861 1594.5,829 1597,815 1601,806.6 1607,797 1613.8,790.6 1625,783.5 1635,776 1642.6,773.9 1655.5,771.3 1680,758 1700.4,747.3 1725,736 1745.3,727 1760,719 1771,710.4 1785,694 1795,681.5 1801.4,665.5 1808,650 1814.3,630 1817.5,605 1819,588.5 1821.6,575 1821.6,561.2" fill="none" stroke="#000" stroke-width="1.7" stroke-linejoin="round"/>
<line x1="1605" y1="442.5" x2="1625" y2="442.5" stroke="#b4b4b4" stroke-width="4"/>
<line x1="1605" y1="474" x2="1625" y2="474" stroke="#d8332c" stroke-width="4"/>
<line x1="1605" y1="507.3" x2="1625" y2="507.3" stroke="#000" stroke-width="4"/>
<text transform="translate(1633.7,451.9) scale(0.983,1)" font-size="27.47" fill="#222"><tspan font-style="italic">F</tspan>st &lt; 0.375</text>
<text transform="translate(1633.7,483.8) scale(0.984,1)" font-size="27.47" fill="#222"><tspan font-style="italic">F</tspan>st &gt;= 0.375</text>
<text transform="translate(1632.3,516.8) scale(0.983,1)" font-size="27.47" fill="#222">Cumulative (%)</text>
<line x1="146.3" y1="102" x2="146.3" y2="990" stroke="#d0302b" stroke-width="2.8" stroke-dasharray="7,4.5"/>
<line x1="123.5" y1="757.5" x2="859" y2="757.5" stroke="#d0302b" stroke-width="2.8" stroke-dasharray="9,5"/>
<line x1="1096.6" y1="74.5" x2="1096.6" y2="990" stroke="#d0302b" stroke-width="2.8" stroke-dasharray="8,4.5"/>
<line x1="1042.7" y1="670.3" x2="1826" y2="670.3" stroke="#d0302b" stroke-width="2.8" stroke-dasharray="9,5"/>
<text transform="translate(32.4,1141.7) scale(1.028,1)" font-size="39.82" fill="#222">c</text>
<rect x="83.5" y="1220.8" width="16" height="15" fill="#e3766d" stroke="#000" stroke-width="2"/>
<rect x="83.5" y="1254.1" width="16" height="15" fill="#25baba" stroke="#000" stroke-width="2"/>
<text transform="translate(110,1236.8) scale(1.037,1)" font-size="26.16" fill="#222">Genome background</text>
<text transform="translate(110.4,1271.1) scale(1.024,1)" font-size="26.45" fill="#222">21 genes</text>
<line x1="97.8" y1="1344.6" x2="470.6" y2="1344.6" stroke="#000" stroke-width="1.8"/>
<line x1="470.6" y1="1344.6" x2="470.6" y2="1640.9" stroke="#000" stroke-width="1.8"/>
<line x1="97.8" y1="1640.9" x2="470.6" y2="1640.9" stroke="#000" stroke-width="2.2"/>
<line x1="97.8" y1="1343.6" x2="97.8" y2="1641.9" stroke="#000" stroke-width="2.4"/>
<line x1="87.8" y1="1344.6" x2="97.8" y2="1344.6" stroke="#000" stroke-width="2"/>
<text transform="translate(49,1354.5) scale(0.860,1)" font-size="27" fill="#222">1.0</text>
<line x1="87.8" y1="1386.6" x2="97.8" y2="1386.6" stroke="#000" stroke-width="2"/>
<text transform="translate(49.2,1396.5) scale(0.860,1)" font-size="27" fill="#222">0.8</text>
<line x1="87.8" y1="1429" x2="97.8" y2="1429" stroke="#000" stroke-width="2"/>
<text transform="translate(49.2,1438.9) scale(0.860,1)" font-size="27" fill="#222">0.6</text>
<line x1="87.8" y1="1471" x2="97.8" y2="1471" stroke="#000" stroke-width="2"/>
<text transform="translate(48.9,1480.9) scale(0.860,1)" font-size="27" fill="#222">0.4</text>
<line x1="87.8" y1="1513.1" x2="97.8" y2="1513.1" stroke="#000" stroke-width="2"/>
<text transform="translate(49.4,1523) scale(0.860,1)" font-size="27" fill="#222">0.2</text>
<line x1="87.8" y1="1555.2" x2="97.8" y2="1555.2" stroke="#000" stroke-width="2"/>
<text transform="translate(49,1565.1) scale(0.860,1)" font-size="27" fill="#222">0.0</text>
<line x1="87.8" y1="1597.9" x2="97.8" y2="1597.9" stroke="#000" stroke-width="2"/>
<text transform="translate(41.7,1607.8) scale(0.860,1)" font-size="27" fill="#222">-0.2</text>
<line x1="87.8" y1="1640.9" x2="97.8" y2="1640.9" stroke="#000" stroke-width="2"/>
<text transform="translate(41.3,1650.8) scale(0.860,1)" font-size="27" fill="#222">-0.4</text>
<text transform="translate(138.6,1315.8) scale(0.920,1)" font-size="26.31" fill="#222">p &lt; 2.2e-16</text>
<text transform="translate(336.8,1315.8) scale(0.921,1)" font-size="26.31" fill="#222">p &lt; 2.2e-16</text>
<polyline points="147.4,1339 147.4,1328.5 244.2,1328.5 244.2,1339" fill="none" stroke="#000" stroke-width="2.2" stroke-linejoin="round"/>
<polyline points="355.6,1337.6 355.6,1326.4 441,1326.4 441,1337.6" fill="none" stroke="#000" stroke-width="2.2" stroke-linejoin="round"/>
<line x1="148.3" y1="1412" x2="148.3" y2="1515" stroke="#000" stroke-width="4.2"/>
<line x1="148.3" y1="1350" x2="148.3" y2="1412" stroke="#000" stroke-width="2.2" stroke-dasharray="2,2.2"/>
<line x1="148.3" y1="1517" x2="148.3" y2="1547" stroke="#000" stroke-width="2" stroke-dasharray="2.5,3"/>
<line x1="126.5" y1="1515.3" x2="165" y2="1515.3" stroke="#000" stroke-width="3.2"/>
<line x1="148.3" y1="1573" x2="148.3" y2="1606" stroke="#000" stroke-width="2" stroke-dasharray="2.5,3"/>
<line x1="130" y1="1607" x2="168" y2="1607" stroke="#000" stroke-width="3.2"/>
<line x1="148.3" y1="1607" x2="148.3" y2="1614.5" stroke="#000" stroke-width="2.5"/>
<rect x="112" y="1548.3" width="74.3" height="24.1" fill="#e3766d" stroke="#b35a52" stroke-width="1.2"/>
<line x1="112" y1="1560.7" x2="186.3" y2="1560.7" stroke="#6b1210" stroke-width="2.2"/>
<line x1="244.2" y1="1405" x2="244.2" y2="1412" stroke="#000" stroke-width="1.6" stroke-dasharray="1.5,2"/>
<line x1="244.2" y1="1385" x2="244.2" y2="1389" stroke="#000" stroke-width="1.6" stroke-dasharray="1.5,2"/>
<line x1="244.2" y1="1449" x2="244.2" y2="1496" stroke="#000" stroke-width="2" stroke-dasharray="2.5,3"/>
<line x1="230.5" y1="1447.3" x2="256" y2="1447.3" stroke="#000" stroke-width="3.2"/>
<line x1="244.2" y1="1533" x2="244.2" y2="1538" stroke="#000" stroke-width="2" stroke-dasharray="2.5,3"/>
<line x1="232.7" y1="1539.4" x2="255.8" y2="1539.4" stroke="#000" stroke-width="3.2"/>
<rect x="223.1" y="1496.8" width="42.5" height="35.5" fill="#25baba" stroke="#0e7a7a" stroke-width="1.2"/>
<line x1="223.1" y1="1517.9" x2="265.6" y2="1517.9" stroke="#0c6a6a" stroke-width="2.2"/>
<line x1="357.1" y1="1414" x2="357.1" y2="1483.5" stroke="#000" stroke-width="3.6"/>
<line x1="357.1" y1="1374" x2="357.1" y2="1414" stroke="#000" stroke-width="1.8" stroke-dasharray="1.5,2.2"/>
<line x1="357.1" y1="1485" x2="357.1" y2="1528.5" stroke="#000" stroke-width="2" stroke-dasharray="2.5,3"/>
<line x1="348" y1="1483.5" x2="373.8" y2="1483.5" stroke="#000" stroke-width="3.2"/>
<line x1="357.1" y1="1559" x2="357.1" y2="1600" stroke="#000" stroke-width="2" stroke-dasharray="2.5,3"/>
<line x1="348" y1="1601.5" x2="373.8" y2="1601.5" stroke="#000" stroke-width="3.2"/>
<rect x="324.5" y="1528.9" width="65" height="29.6" fill="#e3766d" stroke="#b35a52" stroke-width="1.2"/>
<line x1="324.5" y1="1545.5" x2="389.5" y2="1545.5" stroke="#6b1210" stroke-width="2.2"/>
<line x1="438.9" y1="1366" x2="438.9" y2="1427" stroke="#000" stroke-width="2" stroke-dasharray="2.5,3"/>
<line x1="426.8" y1="1364.8" x2="448" y2="1364.8" stroke="#000" stroke-width="3.2"/>
<line x1="438.9" y1="1474" x2="438.9" y2="1480" stroke="#000" stroke-width="2" stroke-dasharray="2.5,3"/>
<line x1="426.8" y1="1480.8" x2="448" y2="1480.8" stroke="#000" stroke-width="3.2"/>
<rect x="420" y="1427.5" width="37.6" height="45.4" fill="#25baba" stroke="#0e7a7a" stroke-width="1.2"/>
<line x1="420" y1="1453.5" x2="457.6" y2="1453.5" stroke="#0c6a6a" stroke-width="2.2"/>
<text transform="translate(141.1,1674.6) scale(0.891,1)" font-size="27.18" fill="#222">GG/DL <tspan font-style="italic">F</tspan>st</text>
<text transform="translate(339.4,1674.6) scale(0.887,1)" font-size="27.18" fill="#222">SH/DL <tspan font-style="italic">F</tspan>st</text>
<line x1="96.9" y1="1812" x2="473" y2="1812" stroke="#000" stroke-width="1.8"/>
<line x1="473" y1="1812" x2="473" y2="2108.6" stroke="#000" stroke-width="1.8"/>
<line x1="96.9" y1="2108.6" x2="473" y2="2108.6" stroke="#000" stroke-width="2.2"/>
<line x1="96.9" y1="1811" x2="96.9" y2="2109.6" stroke="#000" stroke-width="2.4"/>
<line x1="86.9" y1="1812" x2="96.9" y2="1812" stroke="#000" stroke-width="2"/>
<text transform="translate(49,1821.9) scale(0.860,1)" font-size="27" fill="#222">1.0</text>
<line x1="86.9" y1="1854.4" x2="96.9" y2="1854.4" stroke="#000" stroke-width="2"/>
<text transform="translate(49.2,1864.3) scale(0.860,1)" font-size="27" fill="#222">0.8</text>
<line x1="86.9" y1="1896.1" x2="96.9" y2="1896.1" stroke="#000" stroke-width="2"/>
<text transform="translate(49.2,1906) scale(0.860,1)" font-size="27" fill="#222">0.6</text>
<line x1="86.9" y1="1938.2" x2="96.9" y2="1938.2" stroke="#000" stroke-width="2"/>
<text transform="translate(48.9,1948.1) scale(0.860,1)" font-size="27" fill="#222">0.4</text>
<line x1="86.9" y1="1980.3" x2="96.9" y2="1980.3" stroke="#000" stroke-width="2"/>
<text transform="translate(49.4,1990.2) scale(0.860,1)" font-size="27" fill="#222">0.2</text>
<line x1="86.9" y1="2022.3" x2="96.9" y2="2022.3" stroke="#000" stroke-width="2"/>
<text transform="translate(49,2032.2) scale(0.860,1)" font-size="27" fill="#222">0.0</text>
<line x1="86.9" y1="2065.6" x2="96.9" y2="2065.6" stroke="#000" stroke-width="2"/>
<text transform="translate(41.7,2075.5) scale(0.860,1)" font-size="27" fill="#222">-0.2</text>
<line x1="86.9" y1="2108.6" x2="96.9" y2="2108.6" stroke="#000" stroke-width="2"/>
<text transform="translate(41.3,2118.5) scale(0.860,1)" font-size="27" fill="#222">-0.4</text>
<text transform="translate(143.7,1786.3) scale(0.924,1)" font-size="26.31" fill="#222">p &lt; 2.2e-16</text>
<text transform="translate(325.9,1786.3) scale(0.920,1)" font-size="26.31" fill="#222">p &lt; 2.2e-16</text>
<polyline points="147.4,1806.5 147.4,1796.2 251.2,1796.2 251.2,1806.5" fill="none" stroke="#000" stroke-width="2.2" stroke-linejoin="round"/>
<polyline points="342.6,1806.5 342.6,1796.2 435,1796.2 435,1806.5" fill="none" stroke="#000" stroke-width="2.2" stroke-linejoin="round"/>
<line x1="151.3" y1="1846.8" x2="151.3" y2="1989" stroke="#000" stroke-width="3.6"/>
<line x1="151.3" y1="1822" x2="151.3" y2="1837" stroke="#000" stroke-width="1.6" stroke-dasharray="1.5,3"/>
<line x1="151.3" y1="1990" x2="151.3" y2="2001" stroke="#000" stroke-width="2" stroke-dasharray="2.5,3"/>
<line x1="134.7" y1="1989" x2="169.5" y2="1989" stroke="#000" stroke-width="3.2"/>
<line x1="151.3" y1="2016" x2="151.3" y2="2027" stroke="#000" stroke-width="2" stroke-dasharray="2.5,3"/>
<line x1="134.7" y1="2027.8" x2="169.5" y2="2027.8" stroke="#000" stroke-width="3.2"/>
<rect x="116.5" y="2001.2" width="69.6" height="14.2" fill="#e3766d" stroke="#6b1210" stroke-width="1.2"/>
<line x1="116.5" y1="2008.7" x2="186.1" y2="2008.7" stroke="#6b1210" stroke-width="2.2"/>
<line x1="250.6" y1="1918" x2="250.6" y2="1940" stroke="#000" stroke-width="2" stroke-dasharray="2.5,3"/>
<line x1="242" y1="1916.4" x2="259.5" y2="1916.4" stroke="#000" stroke-width="3.2"/>
<line x1="250.6" y1="2005" x2="250.6" y2="2042" stroke="#000" stroke-width="2" stroke-dasharray="2.5,3"/>
<line x1="242" y1="2043" x2="259.5" y2="2043" stroke="#000" stroke-width="3.2"/>
<rect x="233" y="1940" width="34" height="65" fill="#25baba" stroke="#0e7a7a" stroke-width="1.2"/>
<line x1="233" y1="1973.3" x2="267" y2="1973.3" stroke="#0c6a6a" stroke-width="2.2"/>
<line x1="346" y1="1835" x2="346" y2="1994.2" stroke="#000" stroke-width="2.8"/>
<line x1="346" y1="1824" x2="346" y2="1835" stroke="#000" stroke-width="1.8" stroke-dasharray="1.5,2"/>
<line x1="346" y1="1995" x2="346" y2="2004" stroke="#000" stroke-width="2" stroke-dasharray="2.5,3"/>
<line x1="330.8" y1="1994.2" x2="361.7" y2="1994.2" stroke="#000" stroke-width="3.2"/>
<line x1="346" y1="2016" x2="346" y2="2027" stroke="#000" stroke-width="2" stroke-dasharray="2.5,3"/>
<line x1="330.8" y1="2027.5" x2="361.7" y2="2027.5" stroke="#000" stroke-width="3.2"/>
<rect x="316.3" y="2004.2" width="59" height="12.1" fill="#e3766d" stroke="#6b1210" stroke-width="1.2"/>
<line x1="316.3" y1="2010.2" x2="375.3" y2="2010.2" stroke="#b35a52" stroke-width="2.2"/>
<line x1="430.4" y1="1973" x2="430.4" y2="1985" stroke="#000" stroke-width="2" stroke-dasharray="2.5,3"/>
<line x1="424" y1="1972.4" x2="436.5" y2="1972.4" stroke="#000" stroke-width="3.2"/>
<line x1="430.4" y1="2003" x2="430.4" y2="2017" stroke="#000" stroke-width="2" stroke-dasharray="2.5,3"/>
<line x1="424" y1="2017.8" x2="436.5" y2="2017.8" stroke="#000" stroke-width="3.2"/>
<rect x="419.2" y="1985.4" width="21.8" height="17.3" fill="#25baba" stroke="#25baba" stroke-width="1.2"/>
<line x1="419.2" y1="1994" x2="441" y2="1994" stroke="#25baba" stroke-width="2.2"/>
<text transform="translate(133.2,2141.4) scale(0.886,1)" font-size="27.18" fill="#222">GG/DL <tspan font-style="italic">π</tspan> ratio</text>
<text transform="translate(313.4,2141.4) scale(0.887,1)" font-size="27.18" fill="#222">SH/DL <tspan font-style="italic">π</tspan> ratio</text>
<text transform="translate(670.4,1142) scale(0.989,1)" font-size="40.00" fill="#222">d</text>
<line x1="788.2" y1="1218.2" x2="815.2" y2="1218.2" stroke="#d9342c" stroke-width="4"/>
<text transform="translate(822.5,1223.6) scale(0.995,1)" font-size="27.03" fill="#222"><tspan font-style="italic">F</tspan>st</text>
<line x1="874" y1="1217.9" x2="901.2" y2="1217.9" stroke="#000" stroke-width="4.2"/>
<text transform="translate(905.3,1223.6) scale(0.993,1)" font-size="27.03" fill="#222"><tspan font-style="italic">π</tspan> ratio</text>
<rect x="992.2" y="1213.7" width="26.7" height="8.3" fill="#dcdcdc"/>
<text transform="translate(1030.8,1224) scale(0.991,1)" font-size="27.18" fill="#222">Selected regions</text>
<rect x="1062.8" y="1259" width="9.4" height="228" fill="#dcdcdc"/>
<polyline points="783.5,1389.3 790.6,1340.9 795.3,1377.5 798.9,1385.7 802.4,1389.3 804.8,1401.1 808.3,1391.6 811.9,1394 816.6,1415.3 819.7,1378.7 823.7,1396.4 826,1386.5 829.6,1394 834.3,1366.9 837.8,1425.9 841.4,1433 844.9,1410.5 848.5,1364.5 852,1417.6 856.7,1416.4 860.3,1408.2 863.1,1349.2 866.9,1348 870.9,1391.6 874.4,1441.2 878.7,1382.2 881.5,1291.3 883.9,1372.8 888.6,1382.2 892.1,1414.1 895.7,1401.1 899.2,1386.9 902.8,1415.3 907.5,1401.1 916.9,1375.1 921.2,1398.7 925.2,1389.3 928.7,1391.6 932.3,1372.8 937,1401.1 942.9,1424.7 946.4,1396.4 950,1420 954.7,1410.5 959.4,1391.6 964.1,1366.9 967.7,1389.3 971.2,1384.6 974.8,1421.2 978.3,1371.6 982.6,1418.8 985.4,1396.4 990.1,1273.6 993.6,1378.7 1004.3,1425.9 1010.2,1415.3 1014.9,1438.9 1029.1,1379.8 1037.3,1424.7 1044.4,1361 1049.1,1386.9 1055,1392.8 1062.1,1389.3 1066.1,1266.5 1069.2,1311.4 1072.7,1424.7 1076.3,1353.9 1079.8,1424.7 1086.9,1424.7 1091.6,1396.4 1102.2,1429.4 1109.3,1378.7 1116.4,1373.9 1121.1,1411.7 1128.2,1384.6 1131.8,1331.4 1141.2,1389.3 1145.9,1375.1 1153,1401.1 1158.9,1344.4" fill="none" stroke="#b5626a" stroke-width="1.7" stroke-linejoin="round"/>
<line x1="784.5" y1="1338.6" x2="1159.2" y2="1338.6" stroke="#d9342c" stroke-width="3.2" stroke-dasharray="11,6"/>
<line x1="784.5" y1="1454.8" x2="1159.2" y2="1454.8" stroke="#000" stroke-width="3.2" stroke-dasharray="11,6"/>
<polyline points="783.5,1474.3 787.1,1470.7 790.6,1467.2 794.2,1470.7 797.7,1469.1 801.2,1470.7 805.5,1466.7 809.5,1471.9 815.4,1472.4 820.1,1470.7 823.7,1473.8 829.6,1471.4 839,1470.7 844.9,1473.8 850.8,1473.1 855.5,1468.4 861.4,1466 865,1467.2 866.9,1425.9 869.2,1438.9 870.9,1468.4 874.4,1469.6 878,1291.3 880.3,1320.8 882.7,1462.5 885.1,1471.9 888.6,1464.8 892.1,1457.7 895.7,1471.9 902.8,1476.6 908.7,1473.1 915.7,1471.4 921.6,1474.3 931.1,1473.8 937,1467.2 945.3,1470.7 948.1,1462.5 950,1420 953.5,1417.6 955.9,1438.9 957.1,1470.7 963,1473.8 968.9,1471.9 975.9,1462.5 979.5,1442.4 983,1471.9 992.5,1470.7 998.4,1475.5 1006.6,1472.4 1016.1,1470.7 1025.5,1473.1 1035,1467.2 1040.9,1471.9 1046.8,1477.8 1053.8,1473.1 1060.9,1469.6 1065.7,1420 1069.2,1356.2 1072.7,1382.2 1076.3,1471.9 1079.8,1464.8 1084.5,1456.6 1088.1,1470.7 1094,1463.6 1098.7,1470.7 1103.4,1469.6 1109.3,1473.1 1115.2,1458.9 1120,1468.4 1125.9,1466 1131.8,1476.6 1138.8,1473.1 1148.3,1470.7 1153,1469.6 1156.5,1460.1 1160.1,1464.8" fill="none" stroke="#000" stroke-width="2.0" stroke-linejoin="round"/>
<line x1="783.5" y1="1258" x2="1160.2" y2="1258" stroke="#000" stroke-width="2"/>
<line x1="1160.2" y1="1258" x2="1160.2" y2="1488" stroke="#000" stroke-width="2"/>
<line x1="783.5" y1="1258" x2="783.5" y2="1488" stroke="#000" stroke-width="2"/>
<line x1="782.5" y1="1488" x2="1161.2" y2="1488" stroke="#000" stroke-width="2.6"/>
<line x1="773" y1="1276.4" x2="783.5" y2="1276.4" stroke="#000" stroke-width="2"/>
<text transform="translate(725.1,1282.3) scale(0.970,1)" font-size="27.5" fill="#222">0.4</text>
<line x1="773" y1="1327.8" x2="783.5" y2="1327.8" stroke="#000" stroke-width="2"/>
<text transform="translate(725.7,1333.7) scale(0.970,1)" font-size="27.5" fill="#222">0.2</text>
<line x1="773" y1="1378.5" x2="783.5" y2="1378.5" stroke="#000" stroke-width="2"/>
<text transform="translate(725.3,1384.4) scale(0.970,1)" font-size="27.5" fill="#222">0.0</text>
<line x1="773" y1="1430.3" x2="783.5" y2="1430.3" stroke="#000" stroke-width="2"/>
<text transform="translate(716.9,1436.2) scale(0.970,1)" font-size="27.5" fill="#222">-0.2</text>
<line x1="773" y1="1481.7" x2="783.5" y2="1481.7" stroke="#000" stroke-width="2"/>
<text transform="translate(716.3,1487.6) scale(0.970,1)" font-size="27.5" fill="#222">-0.4</text>
<line x1="1160.2" y1="1279.4" x2="1170.7" y2="1279.4" stroke="#000" stroke-width="2"/>
<text transform="translate(1173.5,1286.9) scale(0.980,1)" font-size="27.5" fill="#222">30</text>
<line x1="1160.2" y1="1344" x2="1170.7" y2="1344" stroke="#000" stroke-width="2"/>
<text transform="translate(1173.3,1351.5) scale(0.980,1)" font-size="27.5" fill="#222">20</text>
<line x1="1160.2" y1="1408.9" x2="1170.7" y2="1408.9" stroke="#000" stroke-width="2"/>
<text transform="translate(1172.6,1416.4) scale(0.980,1)" font-size="27.5" fill="#222">10</text>
<line x1="1160.2" y1="1473.4" x2="1170.7" y2="1473.4" stroke="#000" stroke-width="2"/>
<text transform="translate(1173.5,1480.9) scale(0.980,1)" font-size="27.5" fill="#222">0</text>
<line x1="783.5" y1="1488" x2="783.5" y2="1496.5" stroke="#000" stroke-width="2.5"/>
<line x1="1160.2" y1="1488" x2="1160.2" y2="1496.5" stroke="#000" stroke-width="2.5"/>
<text transform="translate(766.5,1518.5) scale(0.970,1)" font-size="27.5" fill="#222">0.0</text>
<text transform="translate(1143.4,1526.1) scale(0.970,1)" font-size="27.5" fill="#222">1.35</text>
<text transform="translate(1256.8,1453.8) rotate(-90) scale(1.020,1)" font-size="26.45" fill="#222"><tspan font-style="italic">π</tspan> ratio (GG/DL)</text>
<text transform="translate(711.4,1384.1) rotate(-90) scale(0.882,1)" font-size="27.47" fill="#222"><tspan font-style="italic">F</tspan>st</text>
<line x1="1067.3" y1="1490" x2="1069.6" y2="1522" stroke="#000" stroke-width="2" stroke-dasharray="2,2"/>
<line x1="1072.2" y1="1526" x2="1072.2" y2="1567" stroke="#222" stroke-width="2.8"/>
<line x1="1098.5" y1="1531" x2="1098.5" y2="1560" stroke="#aaa" stroke-width="1"/>
<line x1="1100.6" y1="1531" x2="1100.6" y2="1560" stroke="#aaa" stroke-width="1"/>
<line x1="1126.6" y1="1531" x2="1126.6" y2="1560" stroke="#aaa" stroke-width="1"/>
<line x1="1139.8" y1="1531" x2="1139.8" y2="1560" stroke="#999" stroke-width="1"/>
<rect x="1062.8" y="1537.2" width="78.8" height="15.8" fill="#6a2c78"/>
<line x1="1072.2" y1="1526" x2="1072.2" y2="1567" stroke="#222" stroke-width="2.8"/>
<line x1="1164.2" y1="1550" x2="1660.8" y2="1516.6" stroke="#000" stroke-width="2.5" stroke-dasharray="7,4.5"/>
<text transform="translate(918.2,1592.4) scale(0.944,1)" font-size="28.12" fill="#222"><tspan font-style="italic">AKT1</tspan></text>
<polyline points="783.2,1616 783.2,1600.3 1165,1600.3 1165,1616" fill="none" stroke="#000" stroke-width="2" stroke-linejoin="round"/>
<text transform="translate(877.6,1630.8) scale(1.027,1)" font-size="26.26" fill="#222">S1721.1Mb</text>
<rect x="1660.8" y="1257.2" width="8.6" height="237.8" fill="#dcdcdc"/>
<polyline points="1396.3,1404.2 1401.1,1400.5 1404.9,1394.9 1409.4,1353.7 1414.3,1451.1 1418,1436.1 1423.6,1417.4 1431.1,1370.5 1438.6,1424.8 1444.2,1426.7 1448,1423 1453.6,1439.8 1459.2,1406.1 1464.8,1413.6 1468.6,1394.9 1472.3,1424.8 1476.1,1387.4 1479.8,1428.6 1483.6,1366.8 1487.3,1417.4 1492.9,1378 1496.7,1402.4 1498.6,1383.6 1505.3,1325.5 1507.9,1406.1 1513.6,1428.6 1526.7,1402.4 1532.3,1417.4 1537.9,1430.5 1543.5,1454.8 1551,1387.4 1556.6,1439.8 1560.4,1396.7 1564.1,1439.8 1567.9,1466.1 1573.5,1424.8 1577.3,1432.3 1584.7,1402.4 1590.4,1424.8 1596,1406.1 1601.6,1338.7 1605.4,1413.6 1611,1387.4 1616.6,1421.1 1620.3,1376.1 1624.1,1413.6 1627.8,1379.9 1631.6,1438 1637.2,1379.9 1642.8,1421.1 1648.4,1413.6 1652.2,1378 1655.9,1409.9 1659.7,1434.2 1664.2,1299.3 1669.1,1430.5 1672.8,1406.1 1678.4,1413.6 1682.2,1458.6 1685.9,1434.2 1689.7,1366.8 1693.4,1458.6 1697.2,1415.5 1700.9,1432.3 1705.8,1357.4 1710.3,1372.4 1715.9,1439.8 1721.5,1424.8 1725.3,1436.1 1730.9,1417.4 1736.5,1447.3 1740.2,1413.6 1744,1436.1 1747.7,1394.9 1751.5,1396.7 1753.4,1439.8" fill="none" stroke="#b5626a" stroke-width="1.7" stroke-linejoin="round"/>
<line x1="1396.5" y1="1333" x2="1753.1" y2="1333" stroke="#d9342c" stroke-width="3.2" stroke-dasharray="11,6"/>
<line x1="1396.5" y1="1445.5" x2="1753.1" y2="1445.5" stroke="#000" stroke-width="3.2" stroke-dasharray="11,6"/>
<polyline points="1396.3,1475.4 1401.1,1460.4 1404.9,1471.7 1412.4,1473.6 1419.9,1472.8 1427.4,1474.3 1438.6,1469.8 1446.1,1471.7 1453.6,1467.9 1459.2,1469.8 1464.8,1466.1 1474.2,1466.1 1479.8,1423 1485.5,1439.8 1489.2,1398.6 1491.8,1370.5 1494.8,1406.1 1496.7,1466.1 1504.2,1454.8 1509.8,1473.6 1532.3,1473.6 1547.3,1472.8 1552.9,1454.8 1558.5,1471.7 1569.8,1469.8 1581,1467.9 1590.4,1471.7 1593,1454.8 1597.9,1471.7 1626,1475.4 1644.7,1472.8 1652.2,1471.7 1655.9,1464.2 1658.9,1288.1 1661.6,1409.9 1665.3,1408 1669.1,1443.6 1674.7,1462.3 1682.2,1456.7 1687.8,1400.5 1691.5,1443.6 1697.2,1471.7 1704.7,1462.3 1712.1,1464.2 1715.9,1473.6 1730.9,1467.9 1734.6,1473.6 1753.4,1473.6" fill="none" stroke="#000" stroke-width="2.0" stroke-linejoin="round"/>
<line x1="1395.5" y1="1256.2" x2="1754.1" y2="1256.2" stroke="#000" stroke-width="2"/>
<line x1="1754.1" y1="1256.2" x2="1754.1" y2="1496" stroke="#000" stroke-width="2"/>
<line x1="1395.5" y1="1256.2" x2="1395.5" y2="1496" stroke="#000" stroke-width="2"/>
<line x1="1394.5" y1="1496" x2="1755.1" y2="1496" stroke="#000" stroke-width="2.6"/>
<line x1="1385" y1="1266.7" x2="1395.5" y2="1266.7" stroke="#000" stroke-width="2"/>
<text transform="translate(1335.7,1274) scale(0.970,1)" font-size="28.5" fill="#222">0.6</text>
<line x1="1385" y1="1321.8" x2="1395.5" y2="1321.8" stroke="#000" stroke-width="2"/>
<text transform="translate(1335.4,1329.1) scale(0.970,1)" font-size="28.5" fill="#222">0.4</text>
<line x1="1385" y1="1377.3" x2="1395.5" y2="1377.3" stroke="#000" stroke-width="2"/>
<text transform="translate(1336,1384.6) scale(0.970,1)" font-size="28.5" fill="#222">0.2</text>
<line x1="1385" y1="1432.3" x2="1395.5" y2="1432.3" stroke="#000" stroke-width="2"/>
<text transform="translate(1335.5,1439.6) scale(0.970,1)" font-size="28.5" fill="#222">0.0</text>
<line x1="1385" y1="1487.8" x2="1395.5" y2="1487.8" stroke="#000" stroke-width="2"/>
<text transform="translate(1326.8,1495.1) scale(0.970,1)" font-size="28.5" fill="#222">-0.2</text>
<line x1="1754.1" y1="1283.6" x2="1764.6" y2="1283.6" stroke="#000" stroke-width="2"/>
<text transform="translate(1769.1,1291.1) scale(0.980,1)" font-size="27.5" fill="#222">30</text>
<line x1="1754.1" y1="1346.9" x2="1764.6" y2="1346.9" stroke="#000" stroke-width="2"/>
<text transform="translate(1768.9,1354.4) scale(0.980,1)" font-size="27.5" fill="#222">20</text>
<line x1="1754.1" y1="1409.9" x2="1764.6" y2="1409.9" stroke="#000" stroke-width="2"/>
<text transform="translate(1768.2,1417.4) scale(0.980,1)" font-size="27.5" fill="#222">10</text>
<line x1="1754.1" y1="1472.8" x2="1764.6" y2="1472.8" stroke="#000" stroke-width="2"/>
<text transform="translate(1769.1,1480.3) scale(0.980,1)" font-size="27.5" fill="#222">0</text>
<line x1="1395.5" y1="1496" x2="1395.5" y2="1504.5" stroke="#000" stroke-width="2.5"/>
<line x1="1754.1" y1="1496" x2="1754.1" y2="1504.5" stroke="#000" stroke-width="2.5"/>
<text transform="translate(1378.8,1529.9) scale(0.970,1)" font-size="27.5" fill="#222">0.0</text>
<text transform="translate(1737.9,1529.9) scale(0.970,1)" font-size="27.5" fill="#222">1.35</text>
<text transform="translate(1873.4,1441) rotate(-90) scale(1.020,1)" font-size="26.16" fill="#222"><tspan font-style="italic">π</tspan> ratio (SH/DL)</text>
<text transform="translate(1319,1389.9) rotate(-90) scale(0.954,1)" font-size="26.16" fill="#222"><tspan font-style="italic">F</tspan>st</text>
<rect x="1063.5" y="1680.3" width="11.2" height="259.6" fill="#dcdcdc"/>
<polyline points="779.3,1807.6 804.5,1874.4 828.9,1890.9 853.3,1872.2 876.9,1872.2 900.9,1914.6 924.6,1865 948.2,1871.4 972.6,1868.8 996.6,1865 1021,1847.8 1044.7,1811.4 1069.1,1699.5 1093.5,1689.4 1117.1,1803.9 1141.1,1785.9 1164.8,1822.6" fill="none" stroke="#b5626a" stroke-width="1.7" stroke-linejoin="round"/>
<line x1="780.3" y1="1753.2" x2="1163.8" y2="1753.2" stroke="#d9342c" stroke-width="3.2" stroke-dasharray="11,6"/>
<line x1="780.3" y1="1920.2" x2="1163.8" y2="1920.2" stroke="#000" stroke-width="3.2" stroke-dasharray="11,6"/>
<polyline points="779.3,1927 804.5,1924 828.9,1921.3 853.3,1929.6 876.9,1926.6 900.9,1930.4 924.6,1927.7 948.2,1929.6 972.6,1929.6 996.6,1929.6 1021,1927 1044.7,1920.2 1070.2,1720.6 1094.6,1910.1 1117.1,1921.3 1141.1,1924 1164.8,1927.7" fill="none" stroke="#000" stroke-width="2.0" stroke-linejoin="round"/>
<line x1="779.3" y1="1679.3" x2="1164.8" y2="1679.3" stroke="#000" stroke-width="2"/>
<line x1="1164.8" y1="1679.3" x2="1164.8" y2="1940.9" stroke="#000" stroke-width="2"/>
<line x1="779.3" y1="1679.3" x2="779.3" y2="1940.9" stroke="#000" stroke-width="2"/>
<line x1="778.3" y1="1940.9" x2="1165.8" y2="1940.9" stroke="#000" stroke-width="2.6"/>
<line x1="768.8" y1="1693.2" x2="779.3" y2="1693.2" stroke="#000" stroke-width="2"/>
<text transform="translate(725.4,1702.4) scale(0.970,1)" font-size="28" fill="#222">0.3</text>
<line x1="768.8" y1="1740.8" x2="779.3" y2="1740.8" stroke="#000" stroke-width="2"/>
<text transform="translate(725.7,1750) scale(0.970,1)" font-size="28" fill="#222">0.2</text>
<line x1="768.8" y1="1788.1" x2="779.3" y2="1788.1" stroke="#000" stroke-width="2"/>
<text transform="translate(725.6,1797.3) scale(0.970,1)" font-size="28" fill="#222">0.1</text>
<line x1="768.8" y1="1835.8" x2="779.3" y2="1835.8" stroke="#000" stroke-width="2"/>
<text transform="translate(725.3,1845) scale(0.970,1)" font-size="28" fill="#222">0.0</text>
<line x1="768.8" y1="1883.4" x2="779.3" y2="1883.4" stroke="#000" stroke-width="2"/>
<text transform="translate(716.6,1892.6) scale(0.970,1)" font-size="28" fill="#222">-0.1</text>
<line x1="768.8" y1="1930.7" x2="779.3" y2="1930.7" stroke="#000" stroke-width="2"/>
<text transform="translate(716.7,1939.9) scale(0.970,1)" font-size="28" fill="#222">-0.2</text>
<line x1="1164.8" y1="1686.4" x2="1175.3" y2="1686.4" stroke="#000" stroke-width="2"/>
<text transform="translate(1184.3,1693.9) scale(0.980,1)" font-size="27.5" fill="#222">50</text>
<line x1="1164.8" y1="1735.6" x2="1175.3" y2="1735.6" stroke="#000" stroke-width="2"/>
<text transform="translate(1184.9,1743.1) scale(0.980,1)" font-size="27.5" fill="#222">40</text>
<line x1="1164.8" y1="1784.4" x2="1175.3" y2="1784.4" stroke="#000" stroke-width="2"/>
<text transform="translate(1184.3,1791.9) scale(0.980,1)" font-size="27.5" fill="#222">30</text>
<line x1="1164.8" y1="1833.9" x2="1175.3" y2="1833.9" stroke="#000" stroke-width="2"/>
<text transform="translate(1184.1,1841.4) scale(0.980,1)" font-size="27.5" fill="#222">20</text>
<line x1="1164.8" y1="1882.7" x2="1175.3" y2="1882.7" stroke="#000" stroke-width="2"/>
<text transform="translate(1183.4,1890.2) scale(0.980,1)" font-size="27.5" fill="#222">10</text>
<line x1="1164.8" y1="1931.5" x2="1175.3" y2="1931.5" stroke="#000" stroke-width="2"/>
<text transform="translate(1184.3,1939) scale(0.980,1)" font-size="27.5" fill="#222">0</text>
<line x1="779.3" y1="1940.9" x2="779.3" y2="1949.4" stroke="#000" stroke-width="2.5"/>
<line x1="1164.8" y1="1940.9" x2="1164.8" y2="1949.4" stroke="#000" stroke-width="2.5"/>
<text transform="translate(758.7,1982.3) scale(0.970,1)" font-size="27.5" fill="#222">0.0</text>
<text transform="translate(1143.5,1980.4) scale(0.970,1)" font-size="27.5" fill="#222">0.18</text>
<text transform="translate(1263.2,1861.4) rotate(-90) scale(1.027,1)" font-size="26.45" fill="#222"><tspan font-style="italic">π</tspan> ratio (GG/DL)</text>
<text transform="translate(710.6,1802.8) rotate(-90) scale(0.936,1)" font-size="26.74" fill="#222"><tspan font-style="italic">F</tspan>st</text>
<line x1="1069" y1="1957" x2="1069" y2="1989.7" stroke="#000" stroke-width="2" stroke-dasharray="2,2"/>
<line x1="1059.5" y1="2006.5" x2="1059.5" y2="2051.6" stroke="#bbb" stroke-width="1"/>
<line x1="1075.5" y1="2006.5" x2="1075.5" y2="2051.6" stroke="#444" stroke-width="1.2"/>
<line x1="1095.4" y1="2006.5" x2="1095.4" y2="2051.6" stroke="#000" stroke-width="3.6"/>
<line x1="1119.8" y1="2006.5" x2="1119.8" y2="2051.6" stroke="#bbb" stroke-width="1"/>
<line x1="1133.6" y1="2006.5" x2="1133.6" y2="2051.6" stroke="#bbb" stroke-width="1"/>
<rect x="1056.7" y="2021.6" width="78.1" height="15.7" fill="#6a2c78"/>
<line x1="1095.4" y1="2006.5" x2="1095.4" y2="2051.6" stroke="#000" stroke-width="3.6"/>
<line x1="1162.9" y1="2025.3" x2="1646.6" y2="1965.9" stroke="#000" stroke-width="2.5" stroke-dasharray="7,4.5"/>
<line x1="1270" y1="2034" x2="1281" y2="2034" stroke="#222" stroke-width="2"/>
<text transform="translate(916.3,2059.3) scale(0.970,1)" font-size="27.89" fill="#222"><tspan font-style="italic">DLG1</tspan></text>
<polyline points="779.3,2081.6 779.3,2066.6 1156.2,2066.6 1156.2,2081.6" fill="none" stroke="#000" stroke-width="2" stroke-linejoin="round"/>
<text transform="translate(887.7,2100.5) scale(1.007,1)" font-size="26.67" fill="#222">S2646.1Mb</text>
<rect x="1683.3" y="1682.1" width="10.1" height="264" fill="#dcdcdc"/>
<polyline points="1389.2,1884.2 1414.3,1910.4 1438.6,1893.6 1464.1,1862.5 1489.2,1884.9 1513.6,1907.8 1539,1884.9 1564.1,1897.3 1588.5,1887.9 1614,1875.9 1639.1,1835.5 1663.4,1820.5 1687.8,1715.6 1713.3,1858 1738.4,1829.9 1762.7,1861.7 1787.1,1898.1" fill="none" stroke="#b5626a" stroke-width="1.7" stroke-linejoin="round"/>
<line x1="1390.2" y1="1806.6" x2="1786.1" y2="1806.6" stroke="#d9342c" stroke-width="3.2" stroke-dasharray="11,6"/>
<line x1="1390.2" y1="1910.4" x2="1786.1" y2="1910.4" stroke="#000" stroke-width="3.2" stroke-dasharray="11,6"/>
<polyline points="1389.2,1932.9 1414.3,1929.2 1438.6,1929.2 1464.1,1934 1489.2,1930.3 1513.6,1933.6 1539,1931.8 1564.1,1933.6 1588.5,1934.8 1614,1935.5 1639.1,1930.3 1663.4,1922.4 1687.8,1704.3 1713.3,1910.4 1738.4,1925.4 1762.7,1915.3 1787.1,1934.8" fill="none" stroke="#000" stroke-width="2.0" stroke-linejoin="round"/>
<line x1="1389.2" y1="1681.1" x2="1787.1" y2="1681.1" stroke="#000" stroke-width="2"/>
<line x1="1787.1" y1="1681.1" x2="1787.1" y2="1947.1" stroke="#000" stroke-width="2"/>
<line x1="1389.2" y1="1681.1" x2="1389.2" y2="1947.1" stroke="#000" stroke-width="2"/>
<line x1="1388.2" y1="1947.1" x2="1788.1" y2="1947.1" stroke="#000" stroke-width="2.6"/>
<line x1="1378.7" y1="1684.5" x2="1389.2" y2="1684.5" stroke="#000" stroke-width="2"/>
<text transform="translate(1331.1,1694.1) scale(0.970,1)" font-size="29.2" fill="#222">0.8</text>
<line x1="1378.7" y1="1736.9" x2="1389.2" y2="1736.9" stroke="#000" stroke-width="2"/>
<text transform="translate(1331.1,1746.5) scale(0.970,1)" font-size="29.2" fill="#222">0.6</text>
<line x1="1378.7" y1="1789.4" x2="1389.2" y2="1789.4" stroke="#000" stroke-width="2"/>
<text transform="translate(1330.8,1799) scale(0.970,1)" font-size="29.2" fill="#222">0.4</text>
<line x1="1378.7" y1="1841.8" x2="1389.2" y2="1841.8" stroke="#000" stroke-width="2"/>
<text transform="translate(1331.3,1851.4) scale(0.970,1)" font-size="29.2" fill="#222">0.2</text>
<line x1="1378.7" y1="1894.3" x2="1389.2" y2="1894.3" stroke="#000" stroke-width="2"/>
<text transform="translate(1330.9,1903.9) scale(0.970,1)" font-size="29.2" fill="#222">0.0</text>
<line x1="1378.7" y1="1947.1" x2="1389.2" y2="1947.1" stroke="#000" stroke-width="2"/>
<text transform="translate(1322,1956.7) scale(0.970,1)" font-size="29.2" fill="#222">-0.2</text>
<line x1="1787.1" y1="1697.6" x2="1797.6" y2="1697.6" stroke="#000" stroke-width="2"/>
<text transform="translate(1805.5,1705.1) scale(0.980,1)" font-size="27.5" fill="#222">40</text>
<line x1="1787.1" y1="1758.7" x2="1797.6" y2="1758.7" stroke="#000" stroke-width="2"/>
<text transform="translate(1804.9,1766.2) scale(0.980,1)" font-size="27.5" fill="#222">30</text>
<line x1="1787.1" y1="1819.7" x2="1797.6" y2="1819.7" stroke="#000" stroke-width="2"/>
<text transform="translate(1804.7,1827.2) scale(0.980,1)" font-size="27.5" fill="#222">20</text>
<line x1="1787.1" y1="1881.2" x2="1797.6" y2="1881.2" stroke="#000" stroke-width="2"/>
<text transform="translate(1804,1888.7) scale(0.980,1)" font-size="27.5" fill="#222">10</text>
<line x1="1787.1" y1="1943" x2="1797.6" y2="1943" stroke="#000" stroke-width="2"/>
<text transform="translate(1804.9,1950.5) scale(0.980,1)" font-size="27.5" fill="#222">0</text>
<line x1="1389.2" y1="1947.1" x2="1389.2" y2="1955.6" stroke="#000" stroke-width="2.5"/>
<line x1="1787.1" y1="1947.1" x2="1787.1" y2="1955.6" stroke="#000" stroke-width="2.5"/>
<text transform="translate(1373.1,1983.5) scale(0.970,1)" font-size="27.5" fill="#222">0.0</text>
<text transform="translate(1769.5,1979.9) scale(0.970,1)" font-size="27.5" fill="#222">0.18</text>
<text transform="translate(1873.4,1899.9) rotate(-90) scale(1.018,1)" font-size="26.16" fill="#222"><tspan font-style="italic">π</tspan> ratio (SH/DL)</text>
<text transform="translate(1318.7,1834.5) rotate(-90) scale(1.100,1)" font-size="26.45" fill="#222"><tspan font-style="italic">F</tspan>st</text>
<rect x="952.7" y="2149.9" width="9.4" height="246.8" fill="#dcdcdc"/>
<polyline points="773.3,2311.4 782,2333.9 789.5,2347.1 800.7,2328.3 813.1,2307.7 820.6,2339.6 827.8,2332 835.6,2303.9 843.9,2315.2 852.2,2290.8 867.2,2334.7 874.7,2317.8 883.3,2332.8 890.8,2306.9 899.1,2325.3 906.6,2290.8 915.2,2306.5 922.7,2351.6 930.2,2332.8 937.7,2337.7 946,2373.3 950.9,2277.6 955.7,2181.9 960.2,2243.9 967.8,2285.1 977.1,2293.4 984.6,2293.4 992.1,2300.1 1000.8,2318.9 1009,2312.2 1016.5,2298.3 1023.3,2272 1031.6,2268.2 1039.8,2290.8 1048.4,2328.3 1055.9,2324.5 1063.5,2326.4 1071,2313.3 1079.2,2258.1 1086.7,2348.9 1094.6,2333.9 1102.9,2334.7 1109.6,2304.7 1117.9,2319.7 1125.4,2315.2 1133.6,2296.4 1141.5,2333.9 1149.8,2307.7 1157.3,2317.8 1165.5,2297.5 1173.4,2351.9 1180.2,2333.9" fill="none" stroke="#b5626a" stroke-width="1.7" stroke-linejoin="round"/>
<line x1="774.3" y1="2272" x2="1179.9" y2="2272" stroke="#d9342c" stroke-width="3.2" stroke-dasharray="11,6"/>
<line x1="774.3" y1="2345.9" x2="1179.9" y2="2345.9" stroke="#000" stroke-width="3.2" stroke-dasharray="11,6"/>
<polyline points="774.5,2387.2 783.9,2383.8 792.1,2378.2 800.7,2387.2 808.2,2380.1 816.5,2387.2 824,2382.7 832.6,2384.6 840.9,2384.6 847.7,2387.2 855.2,2390.2 862.7,2387.2 877.7,2377.8 885.2,2380.8 892.7,2380.1 900.2,2373.3 908.5,2385.3 917.1,2374.1 924.6,2380.8 932.1,2386.5 939.6,2388.3 947.1,2384.6 955.7,2163.9 964,2373.3 969.6,2382.7 977.1,2382 986.5,2373.3 994,2328.3 1001.5,2356.4 1010.2,2387.6 1024,2386.5 1032.3,2369.6 1040.9,2365.1 1048.4,2386.5 1056.7,2385.7 1071,2378.2 1078.5,2379.7 1086,2384.6 1095.4,2391 1110.4,2371.5 1118.6,2364.7 1126.5,2369.6 1134.8,2386.5 1142.3,2382 1149.8,2377.8 1157.3,2382.7 1165.5,2388.3 1173.4,2371.5 1180.2,2382.7" fill="none" stroke="#000" stroke-width="2.0" stroke-linejoin="round"/>
<line x1="773.3" y1="2148.9" x2="1180.9" y2="2148.9" stroke="#000" stroke-width="2"/>
<line x1="1180.9" y1="2148.9" x2="1180.9" y2="2397.7" stroke="#000" stroke-width="2"/>
<line x1="773.3" y1="2148.9" x2="773.3" y2="2397.7" stroke="#000" stroke-width="2"/>
<line x1="772.3" y1="2397.7" x2="1181.9" y2="2397.7" stroke="#000" stroke-width="2.6"/>
<line x1="762.8" y1="2165" x2="773.3" y2="2165" stroke="#000" stroke-width="2"/>
<text transform="translate(716.7,2174.3) scale(0.970,1)" font-size="28.3" fill="#222">0.6</text>
<line x1="762.8" y1="2237.1" x2="773.3" y2="2237.1" stroke="#000" stroke-width="2"/>
<text transform="translate(716.7,2246.4) scale(0.970,1)" font-size="28.3" fill="#222">0.3</text>
<line x1="762.8" y1="2309.5" x2="773.3" y2="2309.5" stroke="#000" stroke-width="2"/>
<text transform="translate(716.6,2318.8) scale(0.970,1)" font-size="28.3" fill="#222">0.0</text>
<line x1="762.8" y1="2381.6" x2="773.3" y2="2381.6" stroke="#000" stroke-width="2"/>
<text transform="translate(707.7,2390.9) scale(0.970,1)" font-size="28.3" fill="#222">-0.3</text>
<line x1="1180.9" y1="2172.5" x2="1191.4" y2="2172.5" stroke="#000" stroke-width="2"/>
<text transform="translate(1194.7,2180) scale(0.980,1)" font-size="27.5" fill="#222">16</text>
<line x1="1180.9" y1="2227.7" x2="1191.4" y2="2227.7" stroke="#000" stroke-width="2"/>
<text transform="translate(1194.7,2235.3) scale(0.980,1)" font-size="27.5" fill="#222">12</text>
<line x1="1180.9" y1="2282.1" x2="1191.4" y2="2282.1" stroke="#000" stroke-width="2"/>
<text transform="translate(1195.5,2289.6) scale(0.980,1)" font-size="27.5" fill="#222">8</text>
<line x1="1180.9" y1="2336.9" x2="1191.4" y2="2336.9" stroke="#000" stroke-width="2"/>
<text transform="translate(1196.2,2344.4) scale(0.980,1)" font-size="27.5" fill="#222">4</text>
<line x1="1180.9" y1="2391.7" x2="1191.4" y2="2391.7" stroke="#000" stroke-width="2"/>
<text transform="translate(1195.6,2399.2) scale(0.980,1)" font-size="27.5" fill="#222">0</text>
<line x1="773.3" y1="2397.7" x2="773.3" y2="2406.2" stroke="#000" stroke-width="2.5"/>
<line x1="1180.9" y1="2397.7" x2="1180.9" y2="2406.2" stroke="#000" stroke-width="2.5"/>
<text transform="translate(754,2435.4) scale(0.970,1)" font-size="27.5" fill="#222">0.0</text>
<text transform="translate(1161.3,2435.4) scale(0.970,1)" font-size="27.5" fill="#222">0.58</text>
<text transform="translate(1255.8,2346.2) rotate(-90) scale(1.017,1)" font-size="26.45" fill="#222"><tspan font-style="italic">π</tspan> ratio (GG/DL)</text>
<text transform="translate(697,2282.2) rotate(-90) scale(0.883,1)" font-size="28.34" fill="#222"><tspan font-style="italic">F</tspan>st</text>
<line x1="956.8" y1="2410" x2="956.8" y2="2440.9" stroke="#000" stroke-width="2.2" stroke-dasharray="2,2"/>
<line x1="879" y1="2449.5" x2="879" y2="2482.2" stroke="#c4c4c4" stroke-width="1.2"/>
<line x1="881" y1="2449.5" x2="881" y2="2482.2" stroke="#c4c4c4" stroke-width="1.2"/>
<line x1="886" y1="2449.5" x2="886" y2="2482.2" stroke="#c4c4c4" stroke-width="1.2"/>
<line x1="897" y1="2449.5" x2="897" y2="2482.2" stroke="#c4c4c4" stroke-width="1.2"/>
<line x1="900" y1="2449.5" x2="900" y2="2482.2" stroke="#c4c4c4" stroke-width="1.2"/>
<line x1="903" y1="2449.5" x2="903" y2="2482.2" stroke="#c4c4c4" stroke-width="1.2"/>
<line x1="915" y1="2449.5" x2="915" y2="2482.2" stroke="#c4c4c4" stroke-width="1.2"/>
<line x1="918" y1="2449.5" x2="918" y2="2482.2" stroke="#c4c4c4" stroke-width="1.2"/>
<line x1="921" y1="2449.5" x2="921" y2="2482.2" stroke="#c4c4c4" stroke-width="1.2"/>
<line x1="925" y1="2449.5" x2="925" y2="2482.2" stroke="#c4c4c4" stroke-width="1.2"/>
<line x1="930" y1="2449.5" x2="930" y2="2482.2" stroke="#c4c4c4" stroke-width="1.2"/>
<line x1="934" y1="2449.5" x2="934" y2="2482.2" stroke="#c4c4c4" stroke-width="1.2"/>
<line x1="944" y1="2449.5" x2="944" y2="2482.2" stroke="#c4c4c4" stroke-width="1.2"/>
<line x1="946" y1="2449.5" x2="946" y2="2482.2" stroke="#c4c4c4" stroke-width="1.2"/>
<line x1="876.7" y1="2449.5" x2="876.7" y2="2482.2" stroke="#333" stroke-width="1.6"/>
<line x1="883.2" y1="2449.5" x2="883.2" y2="2482.2" stroke="#333" stroke-width="1.6"/>
<line x1="889" y1="2449.5" x2="889" y2="2482.2" stroke="#333" stroke-width="1.6"/>
<line x1="893.4" y1="2449.5" x2="893.4" y2="2482.2" stroke="#333" stroke-width="1.6"/>
<line x1="907.2" y1="2449.5" x2="907.2" y2="2482.2" stroke="#333" stroke-width="1.6"/>
<line x1="912.3" y1="2449.5" x2="912.3" y2="2482.2" stroke="#333" stroke-width="1.6"/>
<line x1="939.2" y1="2449.5" x2="939.2" y2="2482.2" stroke="#333" stroke-width="1.6"/>
<line x1="949.3" y1="2449.5" x2="949.3" y2="2482.2" stroke="#333" stroke-width="1.6"/>
<line x1="955.9" y1="2449.5" x2="955.9" y2="2482.2" stroke="#333" stroke-width="1.6"/>
<rect x="874.7" y="2462.3" width="88.6" height="12.4" fill="#6a2c78"/>
<line x1="1036.4" y1="2468.5" x2="1562.3" y2="2426.5" stroke="#000" stroke-width="2.5" stroke-dasharray="7,4.5"/>
<text transform="translate(926.4,2519) scale(1.001,1)" font-size="26.90" fill="#222"><tspan font-style="italic">STAT3</tspan></text>
<polyline points="784.6,2545.2 784.6,2531 1178.7,2531 1178.7,2545.2" fill="none" stroke="#000" stroke-width="2" stroke-linejoin="round"/>
<text transform="translate(902.8,2560.2) scale(1.050,1)" font-size="25.71" fill="#222">S2168.1Mb</text>
<rect x="1561.5" y="2145.4" width="8.3" height="265.9" fill="#dcdcdc"/>
<polyline points="1389.9,2219.3 1398.5,2286.7 1405.6,2220.4 1412.4,2326.1 1419.9,2254.9 1426.6,2294.2 1434.9,2298 1442.4,2316.7 1449.1,2290.5 1456.2,2294.2 1463.7,2239.2 1471.6,2251.1 1478.7,2279.2 1486.2,2303.6 1493.7,2270.6 1500.4,2284.9 1507.9,2326.1 1515.4,2305.5 1522.9,2295.4 1529.7,2318.6 1537.2,2293.5 1544.7,2318.6 1551,2326.1 1558.5,2387.9 1566,2178.1 1573.5,2283 1579.9,2290.5 1587.4,2314.8 1594.9,2333.6 1602.4,2280.4 1609.1,2303.6 1616.6,2311.1 1624.1,2344.8 1631.6,2284.9 1639.1,2333.6 1646.6,2314.8 1654.1,2307.4 1660.8,2240.7 1668.3,2325.3 1675.8,2284.9 1682.2,2344.8 1689.7,2331.7 1697.2,2326.1 1704.7,2339.2 1712.1,2216.7 1718.9,2201.7 1726.4,2287.5 1734.6,2272.9 1742.1,2296.9 1749.6,2304.4 1756.4,2328 1763.9,2287.9 1771,2308.1 1777,2291.2" fill="none" stroke="#b5626a" stroke-width="1.7" stroke-linejoin="round"/>
<line x1="1390.2" y1="2219.3" x2="1776.7" y2="2219.3" stroke="#d9342c" stroke-width="3.2" stroke-dasharray="11,6"/>
<line x1="1390.2" y1="2301" x2="1776.7" y2="2301" stroke="#000" stroke-width="3.2" stroke-dasharray="11,6"/>
<polyline points="1389.9,2396.2 1396.6,2396.2 1403.8,2386.8 1410.5,2389.8 1418,2268 1426.6,2369.2 1433.7,2393.5 1441.2,2376.7 1448.7,2387.9 1456.2,2387.2 1462.2,2397.3 1469.3,2376.7 1477.2,2395.4 1484.7,2389.8 1492.2,2389 1499.7,2384.2 1506.1,2372.9 1514.3,2386 1521.8,2390.5 1529.7,2388.7 1536,2382.3 1544.3,2389 1551,2387.2 1558.5,2307.4 1565.3,2198.7 1573.5,2386 1579.9,2391.7 1586.6,2385.3 1594.1,2368.4 1601.6,2379.7 1609.1,2361.7 1616.6,2386 1624.1,2377.8 1631.6,2391.7 1639.1,2369.9 1644.7,2307.4 1652.2,2384.2 1659.7,2369.2 1667.2,2359.8 1674.7,2379.3 1682.2,2345.9 1689.7,2382.3 1697.2,2395.4 1704.7,2384.2 1712.1,2335.5 1718.9,2326.1 1726.4,2376.7 1734.6,2389.8 1742.1,2383.4 1749.6,2380.4 1756.4,2385.3 1763.9,2384.5 1771,2386.8 1777,2378.5" fill="none" stroke="#000" stroke-width="2.0" stroke-linejoin="round"/>
<line x1="1389.2" y1="2144.4" x2="1777.7" y2="2144.4" stroke="#000" stroke-width="2"/>
<line x1="1777.7" y1="2144.4" x2="1777.7" y2="2412.3" stroke="#000" stroke-width="2"/>
<line x1="1389.2" y1="2144.4" x2="1389.2" y2="2412.3" stroke="#000" stroke-width="2"/>
<line x1="1388.2" y1="2412.3" x2="1778.7" y2="2412.3" stroke="#000" stroke-width="2.6"/>
<line x1="1378.7" y1="2156.7" x2="1389.2" y2="2156.7" stroke="#000" stroke-width="2"/>
<text transform="translate(1334.8,2166) scale(0.970,1)" font-size="28.3" fill="#222">0.6</text>
<line x1="1378.7" y1="2237.3" x2="1389.2" y2="2237.3" stroke="#000" stroke-width="2"/>
<text transform="translate(1334.8,2246.6) scale(0.970,1)" font-size="28.3" fill="#222">0.3</text>
<line x1="1378.7" y1="2317.8" x2="1389.2" y2="2317.8" stroke="#000" stroke-width="2"/>
<text transform="translate(1334.7,2327.1) scale(0.970,1)" font-size="28.3" fill="#222">0.0</text>
<line x1="1378.7" y1="2399.2" x2="1389.2" y2="2399.2" stroke="#000" stroke-width="2"/>
<text transform="translate(1325.8,2408.5) scale(0.970,1)" font-size="28.3" fill="#222">-0.3</text>
<line x1="1777.7" y1="2161.2" x2="1788.2" y2="2161.2" stroke="#000" stroke-width="2"/>
<text transform="translate(1791.8,2168.7) scale(0.980,1)" font-size="27.5" fill="#222">10</text>
<line x1="1777.7" y1="2209.2" x2="1788.2" y2="2209.2" stroke="#000" stroke-width="2"/>
<text transform="translate(1792.6,2216.7) scale(0.980,1)" font-size="27.5" fill="#222">8</text>
<line x1="1777.7" y1="2256.8" x2="1788.2" y2="2256.8" stroke="#000" stroke-width="2"/>
<text transform="translate(1792.5,2264.3) scale(0.980,1)" font-size="27.5" fill="#222">6</text>
<line x1="1777.7" y1="2302.9" x2="1788.2" y2="2302.9" stroke="#000" stroke-width="2"/>
<text transform="translate(1793.3,2310.4) scale(0.980,1)" font-size="27.5" fill="#222">4</text>
<line x1="1777.7" y1="2350.4" x2="1788.2" y2="2350.4" stroke="#000" stroke-width="2"/>
<text transform="translate(1792.5,2358) scale(0.980,1)" font-size="27.5" fill="#222">2</text>
<line x1="1777.7" y1="2397.3" x2="1788.2" y2="2397.3" stroke="#000" stroke-width="2"/>
<text transform="translate(1792.7,2404.8) scale(0.980,1)" font-size="27.5" fill="#222">0</text>
<line x1="1389.2" y1="2412.3" x2="1389.2" y2="2420.8" stroke="#000" stroke-width="2.5"/>
<line x1="1777.7" y1="2412.3" x2="1777.7" y2="2420.8" stroke="#000" stroke-width="2.5"/>
<text transform="translate(1369.4,2451) scale(0.970,1)" font-size="27.5" fill="#222">0.0</text>
<text transform="translate(1758.4,2451) scale(0.970,1)" font-size="27.5" fill="#222">0.58</text>
<text transform="translate(1870.2,2366.6) rotate(-90) scale(1.008,1)" font-size="26.16" fill="#222"><tspan font-style="italic">π</tspan> ratio (SH/DL)</text>
<text transform="translate(1316.8,2302.5) rotate(-90) scale(1.135,1)" font-size="23.69" fill="#222"><tspan font-style="italic">F</tspan>st</text>
</svg>
</body></html>
